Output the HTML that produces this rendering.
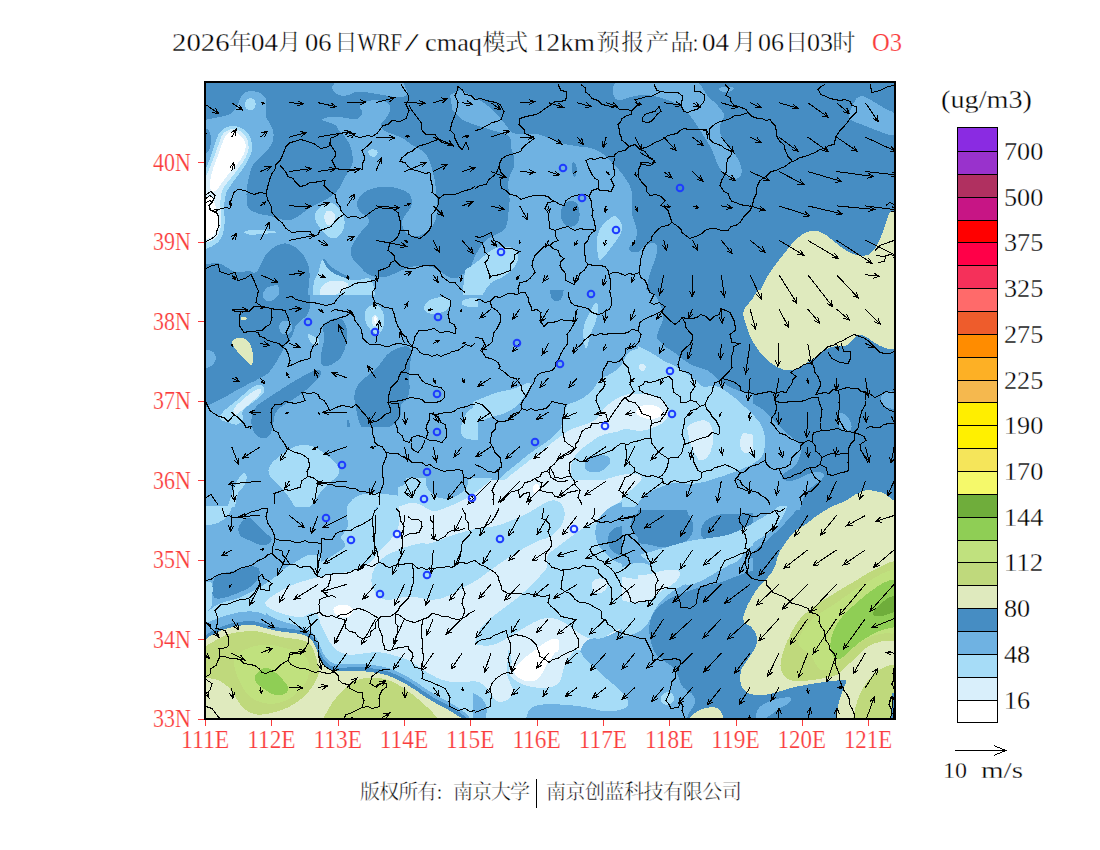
<!DOCTYPE html><html><head><meta charset="utf-8"><title>O3</title><style>html,body{margin:0;padding:0;background:#fff}svg{display:block}text{font-family:"Liberation Serif",serif;stroke:#fff;stroke-width:0.3px}text.cjk{font-family:"Liberation Serif","Noto Serif CJK SC",serif}</style></head><body>
<svg width="1100" height="850" viewBox="0 0 1100 850">
<rect width="1100" height="850" fill="#fff"/>
<defs><clipPath id="mc"><rect x="205" y="82" width="690" height="637"/></clipPath></defs>
<g clip-path="url(#mc)" shape-rendering="crispEdges">
<rect x="205" y="82" width="690" height="637" fill="#468dc3"/>
<polygon fill="#6fb2e2" points="332.4,86.5 332.8,85.7 333.6,84.6 334.6,83.1 335.9,81.4 338.8,77.5 402.2,77.5 403.9,83.2 404.7,85.9 405.4,88.1 406.1,89.8 406.8,91 406.8,91 407.2,92 407.3,93 407,94 406.4,95 406.4,95 405.3,95.9 403.7,96.5 401.6,96.9 399,97 399,97 396.2,96.9 393.5,96.8 391,96.4 388.6,96 388.6,96 386.3,95.5 384,95.1 381.8,94.7 379.5,94.4 379.5,94.4 377.2,94 374.8,93.7 372.4,93.2 369.9,92.8 369.9,92.8 367.3,92.3 364.7,92 362.1,91.8 359.5,91.8 359.5,91.8 357,91.9 354.9,92.2 353.2,92.7 351.8,93.4 351.8,93.4 350.4,94.1 348.9,94.8 347.2,95.2 345.4,95.6 345.4,95.6 343.4,95.8 341.5,95.6 339.6,95.2 337.6,94.4 337.6,94.4 335.9,93.4 334.5,92.4 333.4,91.3 332.8,90.1 332.8,90.1 332.4,89 332.2,88 332.2,87.2 332.4,86.5"/>
<polygon fill="#6fb2e2" points="197.5,121.2 207.7,119.3 212.4,118.4 216.8,117.6 220.8,116.8 224.4,116 224.4,116 227.6,115.1 230.3,113.8 232.6,112.3 234.4,110.4 234.4,110.4 235.9,108.2 237.2,105.9 238.4,103.3 239.4,100.6 239.4,100.6 240.4,98 241.6,95.9 242.9,94.2 244.4,93 244.4,93 246,92.1 247.8,91.5 249.8,91.2 251.9,91.1 251.9,91.1 254,91.3 256.1,91.7 258.1,92.3 260,93.1 260,93.1 261.7,94.1 263.2,95.3 264.4,96.6 265.4,98.1 265.4,98.1 266,99.8 266.4,101.7 266.5,103.9 266.2,106.2 266.2,106.2 265.9,108.6 265.7,110.8 265.5,112.7 265.5,114.4 265.5,114.4 265.7,116 266.2,117.7 267.1,119.4 268.4,121.2 268.4,121.2 269.7,123.2 270.9,125.2 271.8,127.2 272.6,129.4 272.6,129.4 273.2,131.6 273.5,133.9 273.5,136.3 273.2,138.8 273.2,138.8 272.7,141.2 271.8,143.6 270.6,145.9 269,148.1 269,148.1 267.2,150.3 265.2,152.4 263.1,154.5 260.9,156.5 260.9,156.5 258.7,158.5 256.8,160.4 255.1,162.2 253.8,164 253.8,164 252.6,165.8 251.6,167.9 250.7,170.1 250,172.5 250,172.5 249.4,175 248.8,177.3 248.3,179.6 247.9,181.9 247.9,181.9 247.5,184.1 247.1,186.6 246.8,189.1 246.6,191.9 246.6,191.9 246.5,194.7 246.5,197.5 246.6,200.3 246.9,203.1 246.9,203.1 247.5,205.7 248.6,208 250.3,209.8 252.5,211.2 252.5,211.2 255.2,212.4 258.1,213.4 261.4,214.3 265,215 265,215 268.6,215.7 271.9,216.4 274.8,217.2 277.5,218.1 277.5,218.1 280,218.9 282.5,219.5 285,219.9 287.5,220 287.5,220 289.9,219.8 292.2,219.4 294.3,218.6 296.2,217.5 296.2,217.5 298.2,216.2 300.3,214.7 302.6,213 305,211.2 305,211.2 307.5,209.5 309.8,207.9 312.1,206.5 314.4,205.2 314.4,205.2 316.6,204.1 319.1,202.9 321.6,201.6 324.4,200.2 324.4,200.2 327.1,198.8 329.7,197.2 332.1,195.6 334.4,193.8 334.4,193.8 336.5,191.7 338.3,189.5 340,186.9 341.4,184.1 341.4,184.1 342.7,181.3 344,178.8 345.3,176.4 346.6,174.4 346.6,174.4 347.9,172.4 349.1,170.5 350.1,168.6 351.1,166.6 351.1,166.6 351.9,164.7 352.5,162.8 352.7,160.8 352.8,158.9 352.8,158.9 352.6,156.9 352.4,155 352.1,153.1 351.8,151.1 351.8,151.1 351.3,149.2 350.8,147.4 350.1,145.7 349.4,144 349.4,144 348.5,142.4 347.7,140.9 346.8,139.5 345.9,138.1 345.9,138.1 344.9,136.8 343.8,135.5 342.6,134.3 341.4,133 341.4,133 340.1,131.7 339.1,130.5 338.2,129.2 337.5,127.9 337.5,127.9 336.8,126.6 335.8,125.6 334.5,124.7 333,124 333,124 331.3,123.4 329.4,122.7 327.4,122.1 325.2,121.4 325.2,121.4 323.4,120.7 322.5,120 322.4,119.4 323.2,118.8 323.2,118.8 324.6,118.2 326.3,117.7 328.2,117.3 330.4,117 330.4,117 332.6,116.8 334.8,116.8 336.9,116.8 338.9,117 338.9,117 340.8,117.3 342.8,117.5 344.7,117.8 346.6,118.1 346.6,118.1 348.5,118.4 350.3,118.7 352.1,118.9 353.8,119.1 353.8,119.1 355.3,119.2 356.7,119 357.9,118.6 358.9,117.9 358.9,117.9 359.8,117 360.5,116.2 361.2,115.2 361.8,114.2 361.8,114.2 362.1,113.3 362.2,112.3 362,111.3 361.5,110.4 361.5,110.4 360.9,109.5 360.5,108.6 360.1,107.8 359.9,107.1 359.9,107.1 359.9,106.4 360.2,105.6 361,104.8 362.1,103.9 362.1,103.9 363.5,103 365.1,102.2 366.8,101.6 368.6,101 368.6,101 370.6,100.6 372.8,100.3 375.1,100.3 377.6,100.4 377.6,100.4 380.1,100.6 382.3,101 384.3,101.4 386,102 386,102 387.5,102.7 388.6,103.6 389.4,104.6 389.9,105.9 389.9,105.9 390.1,107.2 390.2,108.5 390.1,109.8 389.9,111.1 389.9,111.1 389.5,112.4 388.9,113.7 388.2,115 387.4,116.2 387.4,116.2 386.4,117.5 385.3,118.8 384.1,120.1 382.9,121.4 382.9,121.4 381.8,122.6 381.1,123.8 380.8,124.9 380.9,125.9 380.9,125.9 381.3,126.8 381.8,127.8 382.6,128.8 383.5,129.8 383.5,129.8 384.6,130.7 386,131.6 387.6,132.3 389.4,133 389.4,133 391.4,133.7 393.6,134.4 395.9,135.3 398.4,136.2 398.4,136.2 400.9,137.3 403.2,138.6 405.4,140 407.4,141.5 407.4,141.5 409.4,143.1 411.6,144.6 413.9,146 416.4,147.2 416.4,147.2 418.8,148.5 421,149.9 423,151.4 424.8,153 424.8,153 426.3,154.7 427.6,156.7 428.7,158.9 429.6,161.2 429.6,161.2 430.5,163.9 431.3,166.7 432.2,169.8 433.1,173.1 433.1,173.1 434,176.5 434.7,179.8 435.2,183.1 435.6,186.2 435.6,186.2 435.9,189.4 436.2,192.5 436.6,195.6 436.9,198.8 436.9,198.8 437.1,202 437.2,205.3 437.1,208.8 436.9,212.5 436.9,212.5 436.4,216.1 435.6,219.4 434.5,222.3 433.1,225 433.1,225 431.4,227.4 429.5,229.5 427.4,231.4 425,233.1 425,233.1 422.5,234.5 420,235.5 417.5,236.1 415,236.2 415,236.2 412.6,236.1 410.5,235.5 408.6,234.5 406.9,233.1 406.9,233.1 405.4,231.5 404.2,229.8 403.2,228.1 402.5,226.2 402.5,226.2 402.1,224.4 402,222.5 402.4,220.6 403.1,218.8 403.1,218.8 404.1,216.9 405.3,215 406.6,213.1 408.1,211.2 408.1,211.2 409.5,209.4 410.6,207.5 411.4,205.6 411.9,203.8 411.9,203.8 412,201.9 411.9,200 411.4,198.1 410.6,196.2 410.6,196.2 409.5,194.5 408.1,193 406.4,191.7 404.4,190.6 404.4,190.6 402.1,189.7 399.5,188.9 396.8,188.2 393.8,187.5 393.8,187.5 390.6,187 387.5,186.7 384.4,186.7 381.2,186.9 381.2,186.9 378.2,187.3 375.3,187.8 372.6,188.5 370,189.4 370,189.4 367.6,190.4 365.5,191.6 363.6,192.9 361.9,194.4 361.9,194.4 360.4,196 359.2,197.7 358.2,199.4 357.5,201.2 357.5,201.2 357.1,203.1 357,205 357.4,206.9 358.1,208.8 358.1,208.8 359.2,210.5 360.5,212 362,213.3 363.8,214.4 363.8,214.4 365.5,215.4 366.9,216.6 368,217.9 368.8,219.4 368.8,219.4 369.1,221 368.8,222.7 367.8,224.4 366.2,226.2 366.2,226.2 364.4,228.2 362.5,230.3 360.6,232.6 358.8,235 358.8,235 357,237.5 355.3,240 353.8,242.5 352.5,245 352.5,245 351.5,247.5 350.9,250 350.9,252.5 351.2,255 351.2,255 352,257.4 353.1,259.5 354.5,261.4 356.2,263.1 356.2,263.1 358,264.7 359.7,266.2 361.2,267.8 362.5,269.4 362.5,269.4 363.4,270.9 363.8,272.3 363.4,273.7 362.5,275 362.5,275 361.1,276.1 359.4,276.9 357.3,277.3 355,277.5 355,277.5 352.5,277.3 350,276.9 347.5,276.1 345,275 345,275 342.5,273.7 340,272.3 337.5,270.9 335,269.4 335,269.4 332.7,267.8 330.6,266.1 328.9,264.3 327.5,262.5 327.5,262.5 326.3,260.9 325.2,259.8 324.1,259.3 323.1,259.4 323.1,259.4 322.3,260 321.6,261.4 321,263.5 320.6,266.2 320.6,266.2 320.2,269.2 319.5,271.9 318.6,274.2 317.5,276.2 317.5,276.2 316.3,278.4 315.2,280.9 314.1,284 313.1,287.5 311.2,295 307.5,295 308.8,286.2 309.3,282 309.5,278.1 309.6,274.5 309.4,271.2 309.4,271.2 308.9,268.2 308.3,265.3 307.4,262.6 306.2,260 306.2,260 304.9,257.5 303.3,255.2 301.4,252.9 299.4,250.6 299.4,250.6 297.1,248.6 294.8,246.9 292.5,245.5 290,244.4 290,244.4 287.5,243.7 285,243.4 282.5,243.7 280,244.4 280,244.4 277.6,245.4 275.3,246.6 273.2,247.9 271.2,249.4 271.2,249.4 269.5,251 267.8,252.7 266.3,254.4 265,256.2 265,256.2 263.8,258.2 262.7,260.3 261.6,262.6 260.6,265 260.6,265 259.6,267.3 258.6,269.2 257.5,270.7 256.2,271.9 256.2,271.9 255,272.6 253.9,272.8 252.9,272.6 251.9,271.9 251.9,271.9 250.8,271.1 249.5,270.8 248,270.8 246.2,271.2 246.2,271.2 244.4,271.8 242.5,272.2 240.6,272.4 238.8,272.5 238.8,272.5 236.8,272.3 234.7,271.7 232.4,270.7 230,269.4 230,269.4 227.6,267.9 225.5,266.6 223.6,265.4 221.9,264.4 221.9,264.4 219.9,263.6 217,263.3 213.4,263.3 208.8,263.7 197.5,265"/>
<polygon fill="#6fb2e2" points="450,95 460,90 467.5,93.8 471.2,95.6 474.7,97.5 478,99.4 481.2,101.2 481.2,101.2 484.4,103.3 487.5,105.6 490.6,108.3 493.8,111.2 493.8,111.2 496.7,114.3 499.4,117.2 501.7,119.9 503.8,122.5 503.8,122.5 505.5,124.9 507.2,127 508.7,128.9 510,130.6 510,130.6 511.5,132 513.4,133 515.9,133.6 518.8,133.8 518.8,133.8 522,133.8 525.3,133.8 528.8,133.8 532.5,133.8 532.5,133.8 536.3,134 540.3,134.8 544.5,136.2 548.8,138.1 548.8,138.1 553.1,140.2 557.5,141.9 561.9,143.3 566.2,144.4 566.2,144.4 570.6,145.2 575,145.9 579.4,146.5 583.8,146.9 583.8,146.9 588,147.4 591.9,148.3 595.5,149.6 598.8,151.2 598.8,151.2 601.8,153.2 604.7,155.3 607.4,157.6 610,160 610,160 612.5,162.6 615,165.3 617.5,168.2 620,171.2 620,171.2 622.4,174.3 624.5,177.2 626.4,179.9 628.1,182.5 628.1,182.5 629.5,185.1 630.6,187.8 631.4,190.7 631.9,193.8 631.9,193.8 632.1,196.9 632.2,200 632.1,203.1 631.9,206.2 631.9,206.2 631.7,209.3 631.9,212.2 632.3,214.9 633.1,217.5 633.1,217.5 634,220 634.8,222.5 635.6,225 636.2,227.5 636.2,227.5 636.7,230 636.9,232.5 636.7,235 636.2,237.5 636.2,237.5 635.5,239.8 634.5,241.7 633.3,243.2 631.9,244.4 631.9,244.4 630.5,245.4 629.7,246.6 629.3,247.9 629.4,249.4 629.4,249.4 630,250.7 631.1,251.7 632.8,252.3 635,252.5 635,252.5 637.5,252.2 640,251.2 642.5,249.7 645,247.5 645,247.5 647.4,245.4 649.7,243.9 651.8,243.2 653.8,243.1 653.8,243.1 655.3,243.8 656.2,245 656.6,246.9 656.2,249.4 656.2,249.4 655.5,252.3 654.7,255.5 653.7,258.9 652.5,262.5 652.5,262.5 651.3,266.1 650.3,269.4 649.5,272.3 648.8,275 648.8,275 648.1,277.7 647.5,280.6 646.9,283.9 646.2,287.5 645,295 460,295 465,280 470,270 472.5,262.5 473.9,258.8 475.6,255 477.7,251.2 480,247.5 480,247.5 482.5,244.1 485,241.2 487.5,239.1 490,237.5 490,237.5 492.5,236.2 495,235 497.5,233.8 500,232.5 500,232.5 502.3,231.2 504.1,229.7 505.4,228 506.2,226.2 506.2,226.2 506.8,224.2 507.3,221.9 507.8,219.2 508.1,216.2 508.1,216.2 508.4,213.1 508.8,210 509.1,206.9 509.4,203.8 509.4,203.8 509.6,200.6 509.5,197.5 509.3,194.4 508.8,191.2 508.8,191.2 508.3,188.2 508.1,185.3 508.3,182.6 508.8,180 508.8,180 509.5,177.5 510.3,175 511.3,172.5 512.5,170 512.5,170 513.6,167.5 514.2,165 514.5,162.5 514.4,160 514.4,160 514,157.5 513.4,155 512.7,152.5 511.9,150 511.9,150 511.1,147.5 510.6,145.2 510.5,142.9 510.6,140.6 510.6,140.6 510.5,138.6 509.7,136.9 508,135.5 505.6,134.4 505.6,134.4 502.8,133.4 499.8,132.5 496.8,131.6 493.8,130.6 493.8,130.6 490.6,129.7 487.5,128.8 484.4,127.8 481.2,126.9 481.2,126.9 478.1,125.9 475,124.8 471.9,123.7 468.8,122.5 462.5,120 452.5,110"/>
<polygon fill="#6fb2e2" points="623.8,80 619.3,80.5 616.1,81.9 614,84.2 613.1,87.5 613.1,87.5 613,91 613.3,93.9 613.9,96.3 615,98.1 615,98.1 616.3,99.4 617.8,100.2 619.5,100.4 621.2,100 621.2,100 623.3,99.3 625.6,98.6 628.3,97.8 631.2,96.9 631.2,96.9 634.4,96.1 637.5,95.5 640.6,95.1 643.8,95 643.8,95 647,95.1 650.3,95.5 653.8,96.1 657.5,96.9 657.5,96.9 661.2,97.9 665,99.1 668.8,100.4 672.5,101.9 672.5,101.9 676.1,103.6 679.4,105.5 682.3,107.6 685,110 685,110 687.5,112.7 690,115.6 692.5,118.9 695,122.5 695,122.5 697.5,126.3 700.1,130.2 702.7,134.3 705.3,138.5 707.2,141.5 709.7,145.7 711.8,149.8 713.6,153.7 715,157.5 715,157.5 716.3,161.1 717.8,164.5 719.5,167.7 721.2,170.6 721.2,170.6 723.2,173.2 725.3,175.3 727.6,177 730,178.1 730,178.1 732.4,178.8 734.5,179.1 736.4,178.8 738.1,178.1 738.1,178.1 739.5,177 740.6,175.6 741.3,173.9 741.6,171.9 741.6,171.9 741.6,169.6 741.3,167.3 740.7,165 739.8,162.5 739.8,162.5 738.5,160 737.1,157.5 735.5,155 733.8,152.5 733.8,152.5 731.9,150 730,147.7 728.1,145.4 726.2,143.1 726.2,143.1 724.5,140.9 723,138.8 721.7,136.6 720.6,134.4 720.6,134.4 719.9,132.2 719.5,130 719.6,127.8 720,125.6 720,125.6 720.7,123.6 721.4,121.7 722.2,120.1 723.1,118.8 723.1,118.8 723.9,117.5 724.2,116.2 724.2,115 723.8,113.8 723.8,113.8 723,112.4 721.9,110.8 720.5,108.9 718.8,106.9 718.8,106.9 716.9,104.8 715,102.8 713.1,101 711.2,99.4 711.2,99.4 709.5,97.8 708,96.2 706.7,94.7 705.6,93.1 705.6,93.1 704.6,91.4 703.4,89.5 702.1,87.4 700.6,85 700.6,85 698.6,82.8 695.8,81.2 692.1,80.3 687.5,80"/>
<polygon fill="#6fb2e2" points="720,90.6 719.1,89.7 719.1,88.9 719.8,88.2 721.2,87.5 721.2,87.5 723.2,87 725.3,86.7 727.6,86.5 730,86.6 730,86.6 732.1,86.9 733.4,87.4 734,88.2 733.8,89.1 733.8,89.1 732.9,90.1 731.6,90.9 729.8,91.5 727.5,91.9 727.5,91.9 725.2,92 723.1,91.9 721.4,91.4 720,90.6"/>
<polygon fill="#6fb2e2" points="850,119.4 849.1,118.2 848.8,116.4 849.1,114.1 850,111.2 850,111.2 851.2,108.2 852.5,105.5 853.8,102.9 855,100.6 855,100.6 856.3,98.7 857.8,97.3 859.5,96.5 861.2,96.2 861.2,96.2 863.2,96.4 865.3,97 867.6,98 870,99.4 870,99.4 872.5,100.9 875,102.5 877.5,104.1 880,105.6 880,105.6 882.6,107.1 885.3,108.6 888.2,110 891.2,111.2 891.2,111.2 894,113 895.9,115.6 897.1,119.2 897.5,123.8 897.5,127 897.1,131.3 895.9,134.1 894,135.5 891.2,135.4 891.2,135.4 888.1,134.5 885,133.5 881.9,132.4 878.8,131.2 878.8,131.2 875.6,130 872.5,128.8 869.4,127.5 866.2,126.2 866.2,126.2 863.3,125.1 860.6,124.1 858.3,123.2 856.2,122.5 856.2,122.5 854.5,121.8 852.8,121.1 851.3,120.3 850,119.4"/>
<polygon fill="#6fb2e2" points="637.5,252.5 642.5,248.1 644.9,246.2 647.2,244.7 649.3,243.7 651.2,243.1 651.2,243.1 653,243 654.4,243.3 655.6,243.9 656.5,245 656.5,245 657.1,246.5 657.2,248.4 657.1,250.9 656.5,253.8 656.5,253.8 655.7,256.9 654.8,260 653.7,263.1 652.5,266.2 652.5,266.2 651.3,269.6 650.1,273.4 648.9,277.6 647.8,282.3 645,295 637.5,295"/>
<polygon fill="#6fb2e2" points="310,289.5 310.2,298.2 310.3,302.4 310.1,305.9 309.6,308.9 309,311.4 309,311.4 308.1,313.4 306.9,315.3 305.5,316.9 303.8,318.2 303.8,318.2 301.9,319.5 300.2,320.9 298.7,322.4 297.2,323.9 297.2,323.9 296,325.5 295,327.3 294.2,329.3 293.8,331.4 293.8,331.4 293.2,333.5 292.5,335.4 291.5,337.2 290.2,338.9 290.2,338.9 288.9,340.4 287.7,342 286.6,343.6 285.6,345.1 285.6,345.1 284.7,346.7 283.8,348.4 282.8,350.2 281.9,352 281.9,352 280.9,353.9 279.8,355.9 278.7,358 277.5,360.1 277.5,360.1 276.2,362.4 274.7,364.7 273,367 271.2,369.5 271.2,369.5 269.3,371.8 267.2,373.9 264.9,375.6 262.5,377 262.5,377 260,378.2 257.5,379.5 255,380.8 252.5,382 252.5,382 250,383.2 247.5,384.5 245,385.8 242.5,387 242.5,387 240,388.3 237.5,389.7 235,391.1 232.5,392.6 232.5,392.6 229.9,394.2 227.2,395.8 224.3,397.3 221.2,398.9 221.2,398.9 218.1,400.4 215,402 211.9,403.6 208.8,405.1 208.8,405.1 206,407.1 204.1,410 202.9,413.7 202.5,418.2 202.5,509.5 477.5,509.5 477.5,289.5"/>
<polygon fill="#6fb2e2" points="197.5,350.8 204.4,350.1 207.5,350 210.2,350.4 212.2,351.3 213.8,352.6 213.8,352.6 214.8,354.2 215.5,355.9 215.7,357.7 215.6,359.5 215.6,359.5 215.1,361.3 214.2,362.9 212.9,364.4 211.2,365.8 211.2,365.8 209.3,366.9 207.2,367.8 204.9,368.4 202.5,368.9 197.5,369.5"/>
<polygon fill="#6fb2e2" points="263.8,298.5 262.9,296.5 262.7,294.6 263.2,292.6 264.4,290.8 267.5,287 277.5,284.5 279,288.2 279.5,290.1 279.4,292 278.9,293.9 277.8,295.8 277.8,295.8 276.3,297.5 274.6,298.9 272.7,300.1 270.6,301 270.6,301 268.6,301.4 266.7,301.1 265.1,300.2 263.8,298.5"/>
<polygon fill="#6fb2e2" points="279.4,328.9 279.3,326.8 279.5,325 280.2,323.5 281.2,322.2 281.2,322.2 282.6,321.3 284.1,320.8 285.7,320.6 287.5,320.8 287.5,320.8 289.2,321.3 290.5,322.3 291.5,323.7 292.1,325.5 292.1,325.5 292.3,327.4 292.1,329.2 291.4,330.8 290.2,332.2 290.2,332.2 288.8,333.4 287.2,334.1 285.6,334.3 283.8,334.1 283.8,334.1 282.1,333.5 280.8,332.4 279.9,330.8 279.4,328.9"/>
<polygon fill="#6fb2e2" points="350,265 350.2,260.9 350.6,258.8 351.4,258.4 352.5,260 352.5,260 353.9,262.4 355.6,264.7 357.7,266.8 360,268.8 360,268.8 362.5,270.5 365,272.2 367.5,273.7 370,275 370,275 372.5,276.1 375,276.9 377.5,277.3 380,277.5 380,277.5 382.6,277.3 385.3,276.9 388.2,276.1 391.2,275 391.2,275 394.3,273.8 397.2,272.5 399.9,271.2 402.5,270 402.5,270 405.1,268.8 407.8,267.8 410.7,267 413.8,266.2 413.8,266.2 417,265.8 420.3,265.6 423.8,265.8 427.5,266.2 427.5,266.2 431.1,267 434.4,268.1 437.3,269.5 440,271.2 440,271.2 442.5,273 445,274.7 447.5,276.2 450,277.5 450,277.5 452.5,278.4 455,278.4 457.5,277.7 460,276.2 460,276.2 462.6,274.3 465.3,272.2 468.2,269.9 471.2,267.5 477.5,262.5 477.5,295 350,295"/>
<polygon fill="#6fb2e2" points="472.5,289.5 647.5,289.5 650,295.8 651.3,298.9 652.8,302 654.5,305.1 656.2,308.2 656.2,308.2 657.8,311.4 658.8,314.5 659.1,317.6 658.8,320.8 658.8,320.8 658.1,323.8 657.5,326.7 656.9,329.4 656.2,332 656.2,332 656,334.5 656.6,337 657.9,339.5 660,342 660,342 662.6,344.5 665.3,347 668.2,349.5 671.2,352 671.2,352 674.4,354.4 677.5,356.7 680.6,358.8 683.8,360.8 683.8,360.8 687,362.5 690.3,364.2 693.8,365.7 697.5,367 697.5,367 701.1,368.3 704.4,369.8 707.3,371.5 710,373.2 710,373.2 712.5,375.1 715,377 717.5,378.9 720,380.8 720,380.8 722.6,382.6 725.3,384.3 728.2,386 731.2,387.6 731.2,387.6 734.5,389.1 737.8,390.4 741.3,391.6 745,392.6 752.5,394.5 752.5,509.5 472.5,509.5"/>
<polygon fill="#6fb2e2" points="637.5,289.5 646.2,290.8 650.3,291.9 653.7,294 656.5,297.1 658.7,301.3 661.3,307.7 662.7,312.2 663.3,316.2 663,319.9 661.9,323.2 661.9,323.2 660.4,326.3 659.2,329.2 658.2,331.9 657.5,334.5 657.5,334.5 657.1,336.9 657.3,339 658.1,340.9 659.4,342.6 659.4,342.6 661.1,344.1 663,345.6 665.1,347 667.5,348.2 667.5,348.2 670,349.6 672.5,351.2 675,353.1 677.5,355.1 677.5,355.1 680.1,357.3 682.8,359.3 685.7,361.3 688.8,363.2 688.8,363.2 691.9,365 695,366.4 698.1,367.5 701.2,368.2 701.2,368.2 704.2,369 706.9,370.1 709.2,371.5 711.2,373.2 711.2,373.2 713.2,375.1 715.3,377 717.6,378.9 720,380.8 720,380.8 722.5,382.6 725,384.5 727.5,386.4 730,388.2 730,388.2 732.5,390.1 735,392 737.5,393.9 740,395.8 740,395.8 742.5,397.5 745,399.2 747.5,400.7 750,402 750,402 752.5,403.3 755,404.7 757.5,406.1 760,407.6 760,407.6 762.5,409.3 765,411.4 767.5,413.7 770,416.4 770,416.4 772.5,419.1 775,421.8 777.5,424.5 780,427 780,427 782.5,429.4 785,431.7 787.5,433.8 790,435.8 790,435.8 792.4,437.6 794.7,439.5 796.8,441.4 798.8,443.2 798.8,443.2 800.3,445.2 801.2,447.3 801.6,449.6 801.2,452 801.2,452 800.5,454.5 799.7,457 798.7,459.5 797.5,462 797.5,462 796.1,464.3 794.4,466.4 792.3,468.1 790,469.5 790,469.5 787.7,470.8 785.6,472.2 783.9,473.6 782.5,475.1 782.5,475.1 781.7,476.6 781.9,477.9 783,479.1 785,480.1 785,480.1 787.6,480.8 790.3,480.9 793.2,480.5 796.2,479.5 796.2,479.5 799.3,478.2 802.2,477 804.9,475.8 807.5,474.5 807.5,474.5 810,473.4 812.5,472.6 815,472.2 817.5,472 817.5,472 819.8,472.2 821.6,472.6 822.9,473.4 823.8,474.5 823.8,474.5 824,475.8 823.4,477.3 822.1,479 820,480.8 820,480.8 817.6,482.6 815.3,484.3 813.2,486 811.2,487.6 811.2,487.6 809.5,489.3 807.8,491.1 806.3,493 805,495.1 805,495.1 803.8,497.4 802.8,499.7 802,502 801.2,504.5 800,509.5 637.5,509.5"/>
<polygon fill="#6fb2e2" points="880.6,400.1 880.5,398.6 880.8,397.2 881.4,395.8 882.5,394.5 882.5,394.5 884,393.4 885.9,392.5 888.4,391.8 891.2,391.4 891.2,391.4 894,391.7 895.9,393.2 897.1,396.1 897.5,400.1 897.5,400.1 897.2,404.2 896.2,407 894.7,408.6 892.5,408.9 892.5,408.9 890.1,408.4 888,407.8 886.1,406.9 884.4,405.8 884.4,405.8 883,404.5 881.9,403.1 881.1,401.6 880.6,400.1"/>
<polygon fill="#6fb2e2" points="837.5,420.8 837.1,417.9 837.3,415.8 838.1,414.2 839.4,413.2 839.4,413.2 841,412.9 842.7,413.2 844.4,414.2 846.2,415.8 846.2,415.8 848,417.7 849.4,419.8 850.5,422.1 851.2,424.5 851.2,424.5 851.6,426.8 851.2,428.6 850.3,429.9 848.8,430.8 848.8,430.8 846.9,431.1 845.2,431.1 843.5,430.5 841.9,429.5 841.9,429.5 840.4,428 839.2,426.1 838.2,423.6 837.5,420.8"/>
<polygon fill="#6fb2e2" points="202.5,505.5 477.5,505.5 477.5,725.5 202.5,725.5"/>
<polygon fill="#6fb2e2" points="472.5,505.5 752.5,505.5 752.5,543 739.8,545.8 735,546.9 730.6,548.1 726.4,549.3 722.5,550.5 722.5,550.5 718.8,551.8 715,553 711.2,554.2 707.5,555.5 707.5,555.5 703.8,556.8 700,558.2 696.2,559.6 692.5,561.1 692.5,561.1 688.8,562.6 685,563.9 681.2,565.1 677.5,566.1 677.5,566.1 673.8,567 670.3,567.8 667,568.6 663.8,569.2 663.8,569.2 660.8,569.6 658.1,569.4 655.8,568.7 653.8,567.4 653.8,567.4 651.8,565.9 649.7,564.7 647.4,563.7 645,563 645,563 642.5,562.5 640,562.4 637.5,562.5 635,563 635,563 632.5,563.7 630,564.4 627.5,565.2 625,566.1 625,566.1 622.4,566.9 619.7,567.4 616.8,567.5 613.8,567.4 613.8,567.4 610.7,567 607.8,566.4 605.1,565.7 602.5,564.9 602.5,564.9 599.7,564.1 596.2,563.5 592.2,563.1 587.5,563 472.5,563"/>
<polygon fill="#6fb2e2" points="472.5,558 752.5,558 752.5,725.5 472.5,725.5"/>
<polygon fill="#6fb2e2" points="637.5,505.5 800,505.5 795,511.8 792.5,514.8 790,517.7 787.5,520.4 785,523 785,523 782.5,525.5 780,528 777.5,530.5 775,533 775,533 772.4,535.5 769.7,538 766.8,540.5 763.8,543 763.8,543 760.8,545.4 758.1,547.7 755.8,549.8 753.8,551.8 753.8,551.8 752,553.7 750.3,555.8 748.8,558.1 747.5,560.5 747.5,560.5 746.1,562.9 744.4,565.2 742.3,567.3 740,569.2 740,569.2 737.4,571.1 734.7,573 731.8,574.9 728.8,576.8 728.8,576.8 725.7,578.5 722.8,580.2 720.1,581.7 717.5,583 717.5,583 715,584.4 712.5,586.1 710,588.2 707.5,590.5 707.5,590.5 705.1,593 702.8,595.5 700.7,598 698.8,600.5 698.8,600.5 697,603 695.6,605.5 694.5,608 693.8,610.5 693.8,610.5 693.4,613 693.8,615.5 694.7,618 696.2,620.5 696.2,620.5 698.2,623 700.3,625.5 702.6,628 705,630.5 705,630.5 707.3,633.1 709.1,635.8 710.4,638.7 711.2,641.8 711.2,641.8 711.6,644.8 711.2,647.7 710.3,650.4 708.8,653 708.8,653 706.8,655.5 704.7,658 702.4,660.5 700,663 700,663 697.5,665.5 695,668 692.5,670.5 690,673 690,673 687.7,675.5 685.9,678 684.6,680.5 683.8,683 683.8,683 683.4,685.5 683.8,688 684.7,690.5 686.2,693 686.2,693 688.3,695.4 690.6,697.7 693.3,699.8 696.2,701.8 696.2,701.8 699.4,703.5 702.5,704.9 705.6,706 708.8,706.8 708.8,706.8 711.7,707.8 714.4,709.9 716.7,712.8 718.8,716.8 722.5,725.5 637.5,725.5"/>
<polygon fill="#6fb2e2" points="756.2,714.2 757.1,711.3 758.4,708.8 760.2,706.6 762.5,704.9 762.5,704.9 765.1,703.4 767.8,702.1 770.7,700.9 773.8,699.9 773.8,699.9 776.9,699 780,698.3 783.1,697.8 786.2,697.4 786.2,697.4 788.9,697.3 790.6,697.7 791.4,698.5 791.2,699.9 791.2,699.9 790.4,701.4 789.1,702.8 787.3,704.2 785,705.5 785,705.5 782.5,706.8 780,708.3 777.5,710 775,711.8 775,711.8 772.6,713.5 770.3,715.2 768.2,716.7 766.2,718 762.5,720.5 755,720.5"/>
<polygon fill="#468dc3" points="202.5,138.8 202.7,134.4 203.3,131.2 204.3,129.4 205.6,128.8 205.6,128.8 207.1,129 208.3,129.8 209.3,131.2 210,133.1 210,133.1 210.5,135.4 210.8,137.7 211,140 210.9,142.5 210.9,142.5 210.6,144.9 210.2,146.9 209.7,148.7 209,150.2 209,150.2 208.2,151.5 207.2,152.4 206.2,153 205,153.4 205,153.4 203.9,152.9 203.1,151.2 202.7,148.1 202.5,143.8"/>
<polygon fill="#468dc3" points="571.6,167.5 571.5,165.8 571.7,164.4 572,163.3 572.5,162.5 572.5,162.5 573.1,162.1 573.8,162.2 574.6,162.7 575.4,163.8 575.4,163.8 576.1,165.1 576.5,166.7 576.7,168.6 576.6,170.6 576.6,170.6 576.4,172.6 576,174.2 575.6,175.4 575,176.2 575,176.2 574.4,176.6 573.8,176.4 573.3,175.7 572.9,174.4 572.9,174.4 572.5,172.8 572.1,171.1 571.8,169.3 571.6,167.5"/>
<polygon fill="#468dc3" points="561.9,220 561.1,217.5 560.8,215 560.8,212.5 561.2,210 561.2,210 562,207.7 563.1,205.6 564.5,203.9 566.2,202.5 566.2,202.5 568.1,201.5 570,200.9 571.9,200.9 573.8,201.2 573.8,201.2 575.5,202.1 576.9,203.4 578,205.2 578.8,207.5 578.8,207.5 579.3,210 579.5,212.5 579.6,215 579.4,217.5 579.4,217.5 578.9,219.8 578.1,221.9 577,223.6 575.6,225 575.6,225 574,226 572.2,226.6 570.2,226.6 568.1,226.2 568.1,226.2 566.1,225.4 564.4,224.1 563,222.3 561.9,220"/>
<polygon fill="#468dc3" points="320.6,370.8 319.4,369.9 317.5,369.7 315,370.3 311.9,371.6 311.9,371.6 308.3,373.4 304.5,375.4 300.5,377.6 296.3,380 296.2,380 291.9,382.6 287.6,385.2 283.4,387.9 279.3,390.7 278.2,391.3 274.1,394.1 269.9,396.9 265.7,399.6 261.5,402.2 261.5,402.2 257.7,405.1 254.8,408.3 252.8,412 251.8,416 251.8,416 251.4,420.1 251.5,423.9 252.2,427.5 253.4,430.8 253.4,430.8 255,433.5 257,435.7 259.4,437.2 262.1,438 262.1,438 264.9,438.1 267.2,437.4 269,435.9 270.5,433.6 270.5,433.6 271.6,430.8 272.6,427.5 273.3,423.9 273.8,419.9 273.8,419.9 274.4,416 275.8,412.6 277.8,409.7 280.4,407.4 280.4,407.4 283.4,405.3 286.7,403.2 290.1,401 293.8,398.9 293.8,398.9 297.5,396.5 301.2,393.9 304.9,391 308.6,387.7 308.9,387.5 312.3,384.3 315.2,381.5 317.5,379.1 319.4,377 319.4,377 320.6,375.2 321.2,373.6 321.2,372.1 320.6,370.8"/>
<polygon fill="#468dc3" points="322.5,327 322.7,325.8 323.4,324.5 324.6,323.2 326.2,322 326.2,322 328.2,320.8 330.3,319.8 332.6,319 335,318.2 335,318.2 337.4,317.9 339.5,318.2 341.4,319.2 343.1,320.8 343.1,320.8 344.5,322.8 345.6,325.1 346.4,327.8 346.9,330.8 346.9,330.8 347.1,333.9 347,337 346.8,340.1 346.2,343.2 346.2,343.2 345.5,346.3 344.7,349.2 343.7,351.9 342.5,354.5 342.5,354.5 341.1,356.9 339.4,359 337.3,360.9 335,362.6 335,362.6 332.6,364 330.3,365.1 328.2,365.9 326.2,366.4 326.2,366.4 324.5,366.4 323.1,365.9 322,364.9 321.2,363.2 321.2,363.2 320.8,361.2 320.6,358.9 320.8,356.2 321.2,353.2 321.2,353.2 321.9,350.2 322.5,347.3 323.1,344.6 323.8,342 323.8,342 324.2,339.6 324.4,337.3 324.2,335.2 323.8,333.2 323.8,333.2 323.2,331.5 322.8,329.8 322.6,328.3 322.5,327"/>
<polygon fill="#468dc3" points="387.5,354.5 388.9,353.2 390.6,352 392.7,350.8 395,349.5 395,349.5 397.5,348.4 399.8,347.5 402.1,346.8 404.4,346.4 404.4,346.4 406.4,346.3 408.1,346.7 409.4,347.5 410.4,348.9 410.4,348.9 411,350.6 411.3,352.8 411.3,355.3 411,358.2 411,358.2 410.5,361.4 410.1,364.5 409.7,367.6 409.4,370.8 409.4,370.8 409.1,373.9 409.1,377 409.1,380.1 409.4,383.2 409.4,383.2 409.6,386.3 409.5,389.2 409.3,391.9 408.8,394.5 408.8,394.5 408,396.8 406.9,398.9 405.5,400.6 403.8,402 403.8,402 402.1,403.4 401.1,405.1 400.6,407.2 400.6,409.5 400.6,409.5 400.8,411.9 400.6,414.2 400.2,416.3 399.4,418.2 399.4,418.2 398.2,420.1 396.4,422 394.1,423.9 391.2,425.8 391.2,425.8 388.1,427.5 385,429.2 381.9,430.7 378.8,432 378.8,432 375.7,433 373,433.6 370.4,433.6 368.1,433.2 368.1,433.2 366.1,432.4 364.2,431.1 362.6,429.3 361.2,427 361.2,427 360.1,424.4 359.1,421.7 358.2,418.8 357.5,415.8 357.5,415.8 356.9,412.6 356.2,409.5 355.6,406.4 355,403.2 355,403.2 354.5,400.2 354.4,397.3 354.5,394.6 355,392 355,392 355.7,389.6 356.7,387.3 357.9,385.2 359.4,383.2 359.4,383.2 361.1,381.4 363,379.5 365.1,377.6 367.5,375.8 367.5,375.8 369.9,373.9 372.2,372 374.3,370.1 376.2,368.2 376.2,368.2 378,366.4 379.7,364.5 381.2,362.6 382.5,360.8 382.5,360.8 383.8,359 385,357.3 386.2,355.8 387.5,354.5"/>
<polygon fill="#468dc3" points="346.6,425.8 346.5,424 346.6,422.5 346.8,421.2 347.1,420.1 347.1,420.1 347.6,419.5 348,419.3 348.5,419.8 349,420.8 349,420.8 349.4,422.1 349.7,423.6 349.8,425.2 349.8,427 349.8,427 349.6,428.6 349.2,429.7 348.8,430.2 348.2,430.1 348.2,430.1 347.7,429.6 347.2,428.7 346.9,427.4 346.6,425.8"/>
<polygon fill="#468dc3" points="550,289.5 563.8,289.5 563.1,293.9 562.7,295.9 562,297.6 561.1,299 560,300.1 560,300.1 558.7,300.9 557.3,301.2 555.9,301.2 554.4,300.8 554.4,300.8 553,299.9 551.9,298.6 551.1,296.8 550.6,294.5"/>
<polygon fill="#468dc3" points="238.8,532.4 238.4,530.2 238.4,528.2 239,526.2 240,524.2 240,524.2 241.3,522.5 242.8,521 244.5,519.7 246.2,518.6 246.2,518.6 248,518 249.7,518 251.2,518.6 252.5,519.9 252.5,519.9 253.9,521.6 255.6,523.5 257.7,525.6 260,528 260,528 262.4,530.3 264.7,532.4 266.8,534.1 268.8,535.5 268.8,535.5 270.3,536.8 271.2,538.2 271.6,539.6 271.2,541.1 271.2,541.1 270.4,542.5 269.1,543.6 267.3,544.4 265,544.9 265,544.9 262.5,545 260,544.7 257.5,544.1 255,543 255,543 252.5,541.8 250,540.7 247.5,539.6 245,538.6 245,538.6 242.7,537.5 240.9,536.1 239.6,534.4 238.8,532.4"/>
<polygon fill="#468dc3" points="212.6,585.2 212.8,584 213.1,582.7 213.3,581.4 213.6,580.1 213.6,580.1 214.1,578.9 214.8,577.7 215.7,576.6 216.9,575.6 216.9,575.6 218.3,574.8 219.8,574 221.5,573.4 223.4,573 223.4,573 225.4,572.6 227.4,572.2 229.5,571.8 231.8,571.4 231.8,571.4 234,570.9 236.1,570.4 238.1,569.8 240.1,569.1 240.1,569.1 242.1,568.5 244,567.9 245.9,567.3 247.9,566.9 247.9,566.9 249.8,566.5 251.6,566.4 253.3,566.4 255,566.6 255,566.6 256.5,567.1 257.7,567.7 258.6,568.6 259.2,569.8 259.2,569.8 259.6,571 259.8,572.4 259.6,573.9 259.2,575.5 259.2,575.5 258.7,577.1 258,578.6 257.2,580 256.2,581.4 256.2,581.4 255.2,582.6 254.1,583.8 253,584.9 251.8,585.9 251.8,585.9 250.5,586.8 249.1,587.7 247.6,588.5 246,589.4 246,589.4 244.3,590.2 242.6,591 240.8,591.8 238.9,592.6 238.9,592.6 236.9,593.4 235,594.2 233.1,594.9 231.1,595.6 231.1,595.6 229.2,596.3 227.2,596.9 225.3,597.4 223.4,597.9 223.4,597.9 221.5,598.2 219.8,598.5 218.3,598.6 216.9,598.5 216.9,598.5 215.6,598.2 214.6,597.7 213.7,596.8 213,595.6 213,595.6 212.5,594.3 212.1,593 212,591.7 212,590.4 212,590.4 212.1,589.1 212.3,587.8 212.4,586.5 212.6,585.2"/>
<polygon fill="#468dc3" points="631.2,523 631.5,520.6 632.3,518.3 633.7,516.2 635.6,514.2 635.6,514.2 638,512.5 640.8,510.8 643.9,509.3 647.5,508 655,505.5 675,505.5 681.2,509.2 684.2,511.2 686.7,513.3 688.9,515.6 690.6,518 690.6,518 692,520.6 692.8,523.3 693.2,526.2 693.1,529.2 693.1,529.2 692.5,532.3 691.4,535 689.7,537.6 687.5,539.9 687.5,539.9 684.8,541.9 681.9,543.6 678.6,545 675,546.1 675,546.1 671.2,546.9 667.2,547.2 663,547.2 658.8,546.8 658.8,546.8 654.5,546 650.6,544.9 647,543.5 643.8,541.8 643.8,541.8 640.8,539.8 638.3,537.7 636.1,535.4 634.4,533 634.4,533 633,530.5 632,528 631.4,525.5 631.2,523"/>
<polygon fill="#468dc3" points="701.2,534.9 700.9,532.6 701.2,530.3 702.2,528 703.8,525.5 703.8,525.5 705.8,523.2 708.1,521.1 710.8,519.4 713.8,518 713.8,518 717,516.9 720.3,516 723.8,515.3 727.5,514.9 727.5,514.9 731.3,514.6 735.3,514.2 739.5,513.9 743.8,513.6 752.5,513 752.5,538 745,536.8 741.3,536.4 737.8,536.4 734.5,537 731.2,538 731.2,538 728.1,539.2 725,540.2 721.9,541 718.8,541.8 718.8,541.8 715.7,542.2 712.8,542.2 710.1,541.9 707.5,541.1 707.5,541.1 705.2,540 703.4,538.6 702.1,536.9 701.2,534.9"/>
<polygon fill="#468dc3" points="752.5,570.5 743.8,573.6 739.5,575.2 735.3,576.8 731.3,578.3 727.5,579.9 727.5,579.9 723.8,581.3 720,582.5 716.2,583.5 712.5,584.2 712.5,584.2 708.8,585 705,585.8 701.2,586.8 697.5,588 697.5,588 693.8,589.2 690,590.5 686.2,591.8 682.5,593 682.5,593 678.8,594.3 675.3,595.8 672,597.5 668.8,599.2 668.8,599.2 665.7,601.2 662.8,603.3 660.1,605.6 657.5,608 657.5,608 655.2,610.6 653.3,613.3 651.8,616.2 650.6,619.2 650.6,619.2 649.8,622.5 649.4,625.8 649.2,629.3 649.4,633 649.4,633 649.8,636.7 650.5,640.3 651.4,643.9 652.5,647.4 652.5,647.4 653.9,650.6 655.6,653.5 657.7,655.9 660,658 660,658 662.5,659.8 665,661.6 667.5,663.3 670,664.9 670,664.9 672.3,666.6 674.2,668.5 675.7,670.6 676.9,673 676.9,673 677.8,675.5 678.8,678 679.7,680.5 680.6,683 680.6,683 681.8,685.3 683.3,687.4 685.2,689.1 687.5,690.5 687.5,690.5 689.8,691.9 691.7,693.6 693.2,695.7 694.4,698 694.4,698 695,700.4 695,702.7 694.4,704.8 693.1,706.8 693.1,706.8 691.6,708.8 690.2,711.1 688.8,713.8 687.5,716.8 685,723 752.5,723"/>
<polygon fill="#468dc3" points="637.5,505.5 685,505.5 687.5,511.8 688.6,514.9 689.4,518 689.8,521.1 690,524.2 690,524.2 689.8,527.3 689.1,530.2 687.9,532.9 686.2,535.5 686.2,535.5 684.2,537.8 681.9,539.9 679.2,541.6 676.2,543 676.2,543 673,544.1 669.7,544.9 666.2,545.3 662.5,545.5 662.5,545.5 658.7,545.4 654.7,545.2 650.5,544.8 646.2,544.2 637.5,543"/>
<polygon fill="#468dc3" points="701.2,533.6 700.9,531.9 700.9,530 701.5,527.9 702.5,525.5 702.5,525.5 703.9,523.2 705.6,521.1 707.7,519.4 710,518 710,518 712.6,516.8 715.3,515.8 718.2,515 721.2,514.2 721.2,514.2 724.4,513.8 727.5,513.6 730.6,513.8 733.8,514.2 733.8,514.2 736.6,515 739.1,516.1 741,517.5 742.5,519.2 742.5,519.2 743.4,521.2 743.8,523.3 743.4,525.6 742.5,528 742.5,528 741,530.3 739.1,532.4 736.6,534.1 733.8,535.5 733.8,535.5 730.5,536.6 727.2,537.5 723.7,538.2 720,538.6 720,538.6 716.4,538.8 713.1,538.8 710.2,538.5 707.5,538 707.5,538 705.2,537.3 703.4,536.3 702.1,535.1 701.2,533.6"/>
<polygon fill="#a6dcf7" points="218.8,133.8 219.6,132.5 220.8,131.2 222.4,129.9 224.4,128.5 224.4,128.5 226.6,127.3 229.1,126.5 231.6,126.1 234.4,126.1 234.4,126.1 237.1,126.5 239.8,127.3 242.2,128.5 244.6,130.1 244.6,130.1 246.8,132.1 248.6,134.4 250,137 251.1,140 251.1,140 251.9,143.1 252.2,146.1 252,149 251.5,151.9 251.5,151.9 250.6,154.7 249.5,157.5 248.1,160.3 246.5,163.1 246.5,163.1 244.7,165.9 242.9,168.6 241.1,171.2 239.2,173.8 239.2,173.8 237.4,176.2 235.7,178.5 234,180.8 232.5,182.9 232.5,182.9 231,184.9 229.7,187 228.4,189 227.2,191 227.2,191 226.2,193.2 225.4,195.9 224.8,199 224.4,202.5 224.4,202.5 224.1,206.1 224.1,209.4 224.1,212.3 224.4,215 224.4,215 224.6,217.6 224.7,220.3 224.6,223.2 224.4,226.2 224.4,226.2 223.9,229.3 223.3,232.2 222.4,234.9 221.2,237.5 221.2,237.5 219.9,239.8 218.3,241.9 216.4,243.6 214.4,245 214.4,245 212.2,246.2 210.2,247.2 208.2,248 206.2,248.8 206.2,248.8 204.6,248.7 203.4,247.2 202.7,244.3 202.5,240 202.5,185 202.7,180.3 203.1,176.2 203.9,172.8 205,170 205,170 206.2,167.5 207.3,165 208.4,162.5 209.4,160 209.4,160 210.3,157.5 211.2,154.8 212.2,152.1 213.1,149.4 213.1,149.4 214,146.7 214.8,144.2 215.6,142 216.2,140 216.2,140 216.9,138.2 217.5,136.6 218.1,135.1 218.8,133.8"/>
<polygon fill="#a6dcf7" points="245,104.4 245.1,102.9 245.5,101.6 246.1,100.5 246.9,99.6 246.9,99.6 247.9,98.9 248.9,98.5 250,98.3 251.2,98.4 251.2,98.4 252.4,98.7 253.4,99.3 254.3,100.1 255,101.2 255,101.2 255.5,102.5 255.6,103.8 255.5,105.2 255,106.6 255,106.6 254.3,107.9 253.4,108.9 252.4,109.6 251.2,110 251.2,110 250,110.1 248.9,110 247.9,109.6 246.9,109 246.9,109 246.1,108.1 245.5,107.1 245.1,105.8 245,104.4"/>
<polygon fill="#a6dcf7" points="246.1,233.7 244.7,233.1 244.3,232.4 244.7,231.8 246,231.1 246.5,230.9 248.3,230.3 250.1,229.9 251.9,229.7 253.7,229.6 258.8,229.9 260.6,229.9 262.5,230.1 264.4,230.2 266.2,230.4 271.3,230.9 273,231.1 274.4,231.3 275.5,231.6 276.2,231.9 276.2,231.9 276.6,232.2 276.3,232.4 275.3,232.7 273.8,232.9 268.7,233.4 266.9,233.6 265,233.7 263.1,233.9 261.3,234.1 253.7,234.7 251.9,234.8 250,234.6 248.2,234.3 246.4,233.8"/>
<polygon fill="#a6dcf7" points="315.6,220.6 314.9,218.5 314.7,216.4 314.9,214.4 315.6,212.5 315.6,212.5 316.7,210.7 318,209.1 319.5,207.6 321.2,206.2 321.2,206.2 323.1,205.1 325,204.2 326.9,203.6 328.8,203.1 328.8,203.1 330.6,203 332.3,203.3 334,203.9 335.6,205 335.6,205 337.1,206.3 338.6,207.8 340,209.5 341.2,211.2 341.2,211.2 342.4,213.2 343.3,215.2 343.9,217.2 344.4,219.4 344.4,219.4 344.6,221.6 344.5,223.8 344.3,225.9 343.8,228.1 343.8,228.1 343,230.2 342,232.2 340.8,234 339.4,235.6 339.4,235.6 337.8,237 336.1,237.8 334.3,238.2 332.5,238.1 332.5,238.1 330.7,237.7 328.9,236.9 327.2,235.8 325.6,234.4 325.6,234.4 324.1,232.8 322.7,231.2 321.3,229.7 320,228.1 320,228.1 318.8,226.5 317.7,224.7 316.6,222.7 315.6,220.6"/>
<polygon fill="#a6dcf7" points="368.8,153.8 368.4,152.6 368.4,151.6 369,150.7 370,150 370,150 371.3,149.5 372.7,149.4 374.1,149.5 375.6,150 375.6,150 376.9,150.7 377.5,151.7 377.5,152.9 376.9,154.4 376.9,154.4 375.9,155.7 374.8,156.6 373.7,157 372.5,156.9 372.5,156.9 371.3,156.4 370.3,155.8 369.5,154.9 368.8,153.8"/>
<polygon fill="#a6dcf7" points="321.2,261.9 321.9,260.7 322.5,260.3 323.1,260.7 323.8,261.9 323.8,261.9 324.5,263.4 325.3,265 326.3,266.6 327.5,268.1 327.5,268.1 328.9,269.6 330.6,271.1 332.7,272.5 335,273.8 335,273.8 337.5,275 340,276.1 342.5,277.1 345,278.1 345,278.1 347.5,278.9 350,279.5 352.5,279.9 355,280 355,280 357.4,279.9 359.7,279.7 361.8,279.3 363.8,278.8 363.8,278.8 365.5,278.3 367.2,278.1 368.7,278.3 370,278.8 370,278.8 371.2,279.8 372.2,281.6 373,284.1 373.8,287.5 375,295 312.5,295 313.1,287.5 313.6,284 314.2,280.9 315.1,278.4 316.2,276.2 316.2,276.2 317.4,274.4 318.3,272.5 318.9,270.6 319.4,268.8 319.4,268.8 319.7,266.9 320.2,265.2 320.7,263.5 321.2,261.9"/>
<polygon fill="#a6dcf7" points="598.1,256.9 597.8,254.6 597.5,252 597.2,249.3 596.9,246.2 596.9,246.2 596.7,243.1 596.9,240 597.3,236.9 598.1,233.8 598.1,233.8 599.2,230.8 600.5,228.1 602,225.8 603.8,223.8 603.8,223.8 605.6,222 607.5,220.3 609.4,218.8 611.2,217.5 611.2,217.5 613,216.6 614.7,216.2 616.2,216.6 617.5,217.5 617.5,217.5 618.7,218.9 619.8,220.5 620.7,222.3 621.5,224.4 621.5,224.4 622,226.6 622.1,228.8 621.7,230.9 620.9,233.1 620.9,233.1 619.7,235.4 618.3,237.7 616.8,240 615,242.5 615,242.5 613.1,245 611.2,247.5 609.4,250 607.5,252.5 607.5,252.5 605.7,254.8 604.1,256.7 602.6,258.2 601.2,259.4 601.2,259.4 600.1,259.9 599.2,259.7 598.6,258.7 598.1,256.9"/>
<polygon fill="#a6dcf7" points="465,270 470,266.9 472.5,265.2 475,263.4 477.5,261.5 480,259.4 480,259.4 482.5,257.2 485,255.2 487.5,253.2 490,251.2 490,251.2 492.6,249.6 495.3,248.3 498.2,247.4 501.2,246.9 501.2,246.9 504.3,246.7 507.2,246.9 509.9,247.3 512.5,248.1 512.5,248.1 514.7,249.3 516.4,250.8 517.5,252.7 518.1,255 518.1,255 518.2,257.5 517.8,260 517,262.5 515.6,265 515.6,265 513.9,267.4 512,269.7 509.9,271.8 507.5,273.8 507.5,273.8 504.9,275.5 502.2,277.2 499.3,278.7 496.2,280 496.2,280 493.3,281.5 490.6,283.4 488.3,285.9 486.2,288.8 482.5,295 462.5,295"/>
<polygon fill="#a6dcf7" points="365,319.5 364.6,317.1 364.5,314.8 364.9,312.7 365.6,310.8 365.6,310.8 366.7,309 368,307.5 369.5,306.2 371.2,305.1 371.2,305.1 373.1,304.5 374.8,304.3 376.5,304.8 378.1,305.8 378.1,305.8 379.6,307.1 380.9,308.7 382.1,310.6 383.1,312.6 383.1,312.6 383.9,314.9 384.4,317.2 384.5,319.5 384.4,322 384.4,322 383.9,324.5 383.3,326.8 382.4,329.1 381.2,331.4 381.2,331.4 380,333.2 378.6,334.2 377.1,334.4 375.6,333.9 375.6,333.9 374.1,332.8 372.5,331.5 370.9,330 369.4,328.2 369.4,328.2 367.9,326.3 366.7,324.2 365.7,321.9 365,319.5"/>
<polygon fill="#a6dcf7" points="426.2,312 424.7,310.7 423.9,309.2 423.8,307.5 424.4,305.8 424.4,305.8 425.5,304 426.9,302.4 428.6,301 430.6,299.8 430.6,299.8 432.9,298.8 435.2,298 437.5,297.5 440,297.2 440,297.2 442.4,297.3 444.5,297.5 446.4,298.1 448.1,298.9 448.1,298.9 449.4,300 450.2,301.4 450.4,303.1 450,305.1 450,305.1 449.2,307.2 448,308.9 446.4,310.3 444.4,311.4 444.4,311.4 442.1,312.2 439.8,312.9 437.5,313.5 435,313.9 435,313.9 432.6,314 430.3,313.7 428.2,313.1 426.2,312"/>
<polygon fill="#a6dcf7" points="462.5,304.5 461.6,303.3 461.6,302.2 462.3,301.1 463.8,300.1 463.8,300.1 465.7,299.3 467.8,298.7 470.1,298.4 472.5,298.2 477.5,298.2 477.5,307 471.2,307 468.4,306.8 465.9,306.4 464,305.6 462.5,304.5"/>
<polygon fill="#a6dcf7" points="308.1,336.4 308,335.1 308.3,334.3 308.9,334.1 310,334.5 310,334.5 311.3,335.2 312.8,335.9 314.5,336.7 316.2,337.6 316.2,337.6 317.9,338.6 318.9,339.8 319.4,341.1 319.4,342.6 319.4,342.6 318.9,344 318.1,344.8 317,345.2 315.6,345.1 315.6,345.1 314.1,344.7 312.8,344 311.6,343.1 310.6,342 310.6,342 309.8,340.7 309.1,339.3 308.5,337.9 308.1,336.4"/>
<polygon fill="#a6dcf7" points="220,418.9 219.6,417.8 219.8,416.5 220.6,415 221.9,413.2 221.9,413.2 223.6,411.4 225.5,409.5 227.6,407.6 230,405.8 230,405.8 232.5,403.8 235,401.8 237.5,399.8 240,397.6 240,397.6 242.5,395.5 244.8,393.4 247.1,391.4 249.4,389.5 249.4,389.5 251.6,387.8 253.8,386.5 255.9,385.6 258.1,385.1 258.1,385.1 260.1,385 261.8,385.4 263.1,386.3 264,387.6 264,387.6 264.5,389.2 264.4,390.8 263.9,392.3 262.8,393.9 262.8,393.9 261.2,395.5 259.4,397.2 257.4,398.9 255,400.8 255,400.8 252.5,402.6 250.2,404.3 247.9,406 245.6,407.6 245.6,407.6 243.8,409.3 242.7,411.1 242.2,413 242.5,415.1 242.5,415.1 242.9,417.2 242.7,419.2 241.9,421 240.6,422.6 240.6,422.6 238.9,423.9 237,424.5 234.9,424.5 232.5,423.9 232.5,423.9 230.1,423 228,422.3 226.1,421.8 224.4,421.4 224.4,421.4 222.9,421 221.7,420.4 220.7,419.7 220,418.9"/>
<polygon fill="#a6dcf7" points="462.5,435.8 461.5,433.7 460.9,431.4 460.9,428.7 461.2,425.8 461.2,425.8 462,422.7 463,419.8 464.2,417.1 465.6,414.5 465.6,414.5 467.3,412.2 469.1,410.3 471,408.8 473.1,407.6 477.5,405.8 477.5,439.5 471.2,439.5 468.4,439.3 465.9,438.6 464,437.4 462.5,435.8"/>
<polygon fill="#a6dcf7" points="268.8,472.6 268.4,470.4 268.8,468.2 269.7,466.1 271.2,463.9 271.2,463.9 273.2,461.7 275.3,459.7 277.6,457.7 280,455.8 280,455.8 282.5,453.9 285,452.2 287.5,450.5 290,448.9 290,448.9 292.6,447.5 295.3,446.4 298.2,445.6 301.2,445.1 301.2,445.1 304.3,445 307.2,445.1 309.9,445.6 312.5,446.4 312.5,446.4 315,447.4 317.5,448.7 320,450.2 322.5,452 322.5,452 324.9,453.8 327.2,455.6 329.3,457.3 331.2,458.9 331.2,458.9 333,460.5 334.7,462.2 336.2,463.9 337.5,465.8 337.5,465.8 338.5,467.6 339.1,469.5 339.1,471.4 338.8,473.2 338.8,473.2 338,475 336.9,476.7 335.5,478.2 333.8,479.5 333.8,479.5 331.9,480.8 330,482.3 328.1,484 326.2,485.8 326.2,485.8 324.5,487.6 322.8,489.5 321.3,491.4 320,493.2 320,493.2 318.7,495.2 317.2,497.3 315.5,499.6 313.8,502 310,507 295,507 291.2,500.8 289.3,497.7 287.2,494.8 284.9,492.1 282.5,489.5 282.5,489.5 280.1,487.1 277.8,484.8 275.7,482.7 273.8,480.8 273.8,480.8 272,478.8 270.6,476.8 269.5,474.8 268.8,472.6"/>
<polygon fill="#a6dcf7" points="227.5,507 230,499.5 231.2,495.8 232.5,492.3 233.8,489 235,485.8 235,485.8 236.3,482.8 237.7,480.1 239.1,477.8 240.6,475.8 240.6,475.8 242.1,474.2 243.4,473.4 244.6,473.3 245.6,473.9 245.6,473.9 246.4,475 246.7,476.5 246.7,478.4 246.2,480.8 246.2,480.8 245.5,483.1 244.4,485.3 243,487.2 241.2,488.9 241.2,488.9 239.5,490.7 238.1,493.1 237,496 236.2,499.5 235,507"/>
<polygon fill="#a6dcf7" points="345,507 348.8,501.4 350.7,498.8 352.8,496.7 355.1,495 357.5,493.9 357.5,493.9 360.1,493 362.8,492.2 365.7,491.4 368.8,490.8 368.8,490.8 372,490.2 375.3,490 378.8,489.9 382.5,490.1 382.5,490.1 386.2,490.4 390,490.8 393.8,491.1 397.5,491.4 397.5,491.4 401.2,491.7 405,492.2 408.8,492.7 412.5,493.2 412.5,493.2 416.2,493.7 420,493.9 423.8,493.7 427.5,493.2 427.5,493.2 431.2,492.8 435,492.6 438.8,492.8 442.5,493.2 442.5,493.2 446.2,493.6 449.7,493.6 453,493 456.2,492 456.2,492 459.5,490.7 462.8,489.2 466.3,487.5 470,485.8 477.5,482 477.5,507"/>
<polygon fill="#a6dcf7" points="472.5,402 478.8,399.5 481.9,398.2 485,397 488.1,395.8 491.2,394.5 491.2,394.5 494.4,393.3 497.5,392.4 500.6,391.6 503.8,391 503.8,391 506.8,390.4 509.8,389.7 512.8,388.9 515.6,387.9 515.6,387.9 518.3,386.8 520.8,385.8 523,384.8 525,383.9 525,383.9 526.8,383.2 528.3,382.9 529.6,383.2 530.6,383.9 530.6,383.9 531.2,385 531.1,386.4 530.3,388.1 528.8,390.1 528.8,390.1 527,392.3 525.3,394.5 523.8,396.7 522.5,398.9 522.5,398.9 521.2,401 519.7,402.9 518,404.7 516.2,406.4 516.2,406.4 514.3,407.9 512.2,409.3 509.9,410.7 507.5,412 507.5,412 504.9,413.2 502.2,414.2 499.3,415 496.2,415.8 496.2,415.8 493.3,416.4 490.6,417.2 488.3,418 486.2,418.9 486.2,418.9 484.3,419.7 482.2,420.4 479.9,421 477.5,421.4 472.5,422"/>
<polygon fill="#a6dcf7" points="472.5,507 472.5,502 477.5,498.2 480,496.3 482.7,494.2 485.4,491.9 488.1,489.5 488.1,489.5 490.9,487 493.7,484.4 496.4,481.8 499.1,479.1 499.1,479.1 501.9,476.4 504.9,473.7 508,471 511.4,468.2 511.4,468.2 514.8,465.5 518.2,462.8 521.6,460 525,457.2 525,457.2 528.5,454.5 532.1,451.8 536,449.1 540,446.4 540,446.4 544,443.7 547.7,441.1 551,438.5 554.1,435.9 554.1,435.9 556.8,433.2 559,430.3 560.7,427.2 561.9,423.9 561.9,423.9 562.8,420.5 563.6,417.2 564.3,413.9 565,410.8 565,410.8 565.8,407.9 567,405.8 568.6,404.2 570.6,403.2 570.6,403.2 572.9,402.5 575.2,401.7 577.5,400.7 580,399.5 580,399.5 582.5,398.2 584.8,396.7 587.1,395 589.4,393.2 589.4,393.2 591.4,391.3 593.3,389.2 594.9,386.9 596.2,384.5 596.2,384.5 597.7,382.2 599.5,380.1 601.8,378.4 604.4,377 604.4,377 607.2,375.7 610,374.2 612.8,372.5 615.6,370.8 615.6,370.8 618.2,368.8 620.3,366.7 622,364.4 623.1,362 623.1,362 624.1,359.6 625.2,357.5 626.3,355.6 627.5,353.9 627.5,353.9 628.9,352.4 630.6,351.2 632.7,350.2 635,349.5 635,349.5 637.5,349.1 640,349.3 642.5,350.1 645,351.4 645,351.4 647.5,352.9 650,354.3 652.5,355.7 655,357 655,357 657.6,358.2 660.3,359.5 663.2,360.8 666.2,362 666.2,362 669.4,363.3 672.5,364.8 675.6,366.5 678.8,368.2 678.8,368.2 681.8,370.1 684.7,372 687.4,373.9 690,375.8 690,375.8 692.5,377.7 695,379.8 697.5,382.1 700,384.5 700,384.5 702.5,387 705,389.5 707.5,392 710,394.5 710,394.5 712.5,396.8 715,398.9 717.5,400.6 720,402 720,402 722.6,403.2 725.3,404.5 728.2,405.8 731.2,407 731.2,407 734.5,408.2 737.8,409.5 741.3,410.8 745,412 752.5,414.5 752.5,464.5 743.8,468.2 739.5,470 735.3,471.7 731.3,473.2 727.5,474.5 727.5,474.5 723.8,475.8 720,477 716.2,478.2 712.5,479.5 712.5,479.5 708.8,480.7 705,481.7 701.2,482.5 697.5,483.2 697.5,483.2 693.8,483.7 690,483.9 686.2,483.7 682.5,483.2 682.5,483.2 678.8,482.9 675,482.9 671.2,483.5 667.5,484.5 667.5,484.5 663.8,485.8 660,487.3 656.2,489 652.5,490.8 652.5,490.8 648.9,492.8 645.6,495.1 642.7,497.8 640,500.8 635,507"/>
<polygon fill="#a6dcf7" points="583.8,340.8 583.3,336.6 583.1,332.9 583.3,329.7 583.8,327 583.8,327 584.5,324.5 585.3,322 586.3,319.5 587.5,317 587.5,317 588.8,314.5 590,312 591.2,309.5 592.5,307 592.5,307 593.7,304.9 594.8,303.6 595.9,303 596.9,303.2 596.9,303.2 597.7,304.1 598.1,305.4 598.3,307.2 598.1,309.5 598.1,309.5 597.8,312 597.3,314.5 596.8,317 596.2,319.5 596.2,319.5 595.5,322 594.7,324.5 593.7,327 592.5,329.5 592.5,329.5 591.3,332.1 590.3,334.8 589.5,337.7 588.8,340.8 588.8,340.8 588.1,343.6 587.5,345.8 586.9,347.3 586.2,348.2 586.2,348.2 585.6,348.2 585,347 584.4,344.5 583.8,340.8"/>
<polygon fill="#a6dcf7" points="637.5,345.8 646.2,350.1 650.6,352.4 654.8,354.9 659,357.5 663.1,360.3 664.4,361.2 668.5,364 672.6,366.8 676.9,369.4 681.2,372 681.3,372 685.5,374.6 689.4,377.2 693,379.9 696.2,382.6 696.2,382.6 699.4,385 702.5,386.4 705.6,386.8 708.8,386.4 708.8,386.4 711.9,385.8 715,385.9 718.1,386.7 721.2,388.2 721.2,388.2 724.4,390.2 727.5,392.3 730.6,394.6 733.8,397 733.8,397 736.8,399.5 739.7,402 742.4,404.5 745,407 745,407 747.5,409.5 750,412 752.5,414.5 755,417 755,417 757.3,419.6 759.4,422.3 761.1,425.2 762.5,428.2 762.5,428.2 763.6,431.4 764.4,434.5 764.8,437.6 765,440.8 765,440.8 764.9,443.8 764.7,446.7 764.3,449.4 763.8,452 763.8,452 762.9,454.4 761.6,456.7 759.8,458.8 757.5,460.8 757.5,460.8 754.9,462.5 752.2,464.2 749.3,465.7 746.2,467 746.2,467 743.1,468.2 740,469.2 736.9,470 733.8,470.8 733.8,470.8 730.6,471.3 727.5,471.8 724.4,472.3 721.2,472.6 721.2,472.6 718.1,473 715,473.6 711.9,474.3 708.8,475.1 708.8,475.1 705.6,476.1 702.5,477.2 699.4,478.3 696.2,479.5 696.2,479.5 693.1,480.7 690,481.7 686.9,482.5 683.8,483.2 683.8,483.2 680.6,483.6 677.5,483.6 674.4,483 671.2,482 671.2,482 668.2,481.1 665.3,480.8 662.6,481.1 660,482 660,482 657.3,483.3 654.1,484.8 650.4,486.5 646.2,488.2 637.5,492"/>
<polygon fill="#a6dcf7" points="202.5,505.5 232.5,505.5 230.6,510.5 229.6,512.8 228.4,514.9 227.1,516.6 225.6,518 225.6,518 224,519.2 222.3,520.3 220.6,521.4 218.8,522.4 218.8,522.4 216.7,523.2 214.4,523.9 211.7,524.5 208.8,524.9 208.8,524.9 206,524.5 204.1,522.8 202.9,519.8 202.5,515.5"/>
<polygon fill="#a6dcf7" points="261.2,605.5 261,603.1 261.6,600.8 262.9,598.7 265,596.8 265,596.8 267.6,594.8 270.3,592.7 273.2,590.4 276.2,588 276.2,588 279.4,585.5 282.5,583 285.6,580.5 288.8,578 288.8,578 291.9,575.6 295,573.5 298.1,571.6 301.2,569.9 301.2,569.9 304.5,568.4 307.8,566.9 311.3,565.5 315,564.2 315,564.2 318.7,562.9 322.2,561.4 325.5,559.8 328.8,558 328.8,558 331.9,556.1 335,554.1 338.1,552 341.2,549.9 341.2,549.9 343.8,547.7 345,545.7 345,543.7 343.8,541.8 343.8,541.8 342,539.9 340.5,538.2 339.2,536.5 338.1,534.9 338.1,534.9 337.7,533.3 338.1,531.8 339.5,530.2 341.9,528.6 341.9,528.6 344.7,527.1 347.7,525.8 350.7,524.6 353.8,523.6 353.8,523.6 356.9,522.6 360,521.4 363.1,520.1 366.2,518.6 366.2,518.6 369.2,516.9 371.9,515 374.2,512.9 376.2,510.5 380,505.5 477.5,505.5 477.5,725.5 471.2,721.8 468.3,720 465.6,718.3 463.3,716.8 461.2,715.5 461.2,715.5 459.2,714.2 456.9,712.7 454.2,711 451.2,709.2 451.2,709.2 448.1,707.4 445,705.5 441.9,703.6 438.8,701.8 438.8,701.8 435.6,699.8 432.5,697.8 429.4,695.8 426.2,693.6 426.2,693.6 423.1,691.4 420,689.2 416.9,687.1 413.8,684.9 413.8,684.9 410.6,682.7 407.5,680.7 404.4,678.7 401.2,676.8 401.2,676.8 398,675 394.7,673.3 391.2,671.8 387.5,670.5 387.5,670.5 383.7,669.4 379.7,668.5 375.5,667.8 371.2,667.4 371.2,667.4 366.9,667.1 362.5,667.1 358.1,667.1 353.8,667.4 353.8,667.4 349.5,667.6 345.6,667.5 342,667.3 338.8,666.8 338.8,666.8 335.8,666 333.1,664.9 330.8,663.5 328.8,661.8 328.8,661.8 327,659.7 325.3,657.4 323.8,654.7 322.5,651.8 322.5,651.8 321.2,648.7 320,645.8 318.8,643.1 317.5,640.5 317.5,640.5 316.1,638.1 314.4,635.8 312.3,633.7 310,631.8 310,631.8 307.3,630 304.1,628.3 300.4,626.8 296.2,625.5 296.2,625.5 292,624.2 287.8,623 283.8,621.8 280,620.5 280,620.5 276.4,619.2 273.1,617.7 270.2,616 267.5,614.2 267.5,614.2 265.2,612.3 263.4,610.2 262.1,607.9 261.2,605.5"/>
<polygon fill="#a6dcf7" points="197.5,614.2 202,613.4 204.2,612.8 206.2,612.1 208,611.1 209.8,609.9 209.8,609.9 211.4,608.6 213,607.4 214.6,606.4 216.2,605.4 216.2,605.4 218,604.5 219.8,603.6 221.8,602.8 224,602.1 224,602.1 226.3,601.4 228.7,600.8 231.1,600.1 233.6,599.5 233.6,599.5 236.1,598.8 238.4,598.1 240.6,597.2 242.6,596.2 242.6,596.2 244.6,595.3 246.5,594.3 248.4,593.3 250.4,592.4 250.4,592.4 252.3,591.4 254.1,590.5 255.8,589.5 257.5,588.5 257.5,588.5 259.1,587.5 260.8,586.5 262.4,585.6 264,584.6 264,584.6 265.6,583.7 267.1,582.7 268.5,581.7 269.9,580.8 269.9,580.8 271.2,579.8 272.5,578.8 273.7,577.8 275,576.9 275,576.9 276.3,575.9 277.5,574.8 278.8,573.6 280.1,572.4 280.1,572.4 281.5,571.1 283.1,569.8 284.8,568.4 286.6,567.1 286.6,567.1 288.6,565.9 290.5,564.7 292.4,563.6 294.4,562.6 294.4,562.6 296.3,561.6 298.2,560.6 300.2,559.4 302.1,558.1 302.1,558.1 304.1,556.9 306,556 307.9,555.3 309.9,554.9 309.9,554.9 311.8,554.7 313.6,554.7 315.3,555 317,555.5 317,555.5 318.5,556.2 319.7,557.1 320.7,558.1 321.4,559.2 321.4,559.2 321.4,560.5 320.3,561.8 318.2,563 315,564.2 315,564.2 311.3,565.5 307.8,566.9 304.5,568.4 301.2,569.9 301.2,569.9 298.1,571.6 295,573.5 291.9,575.6 288.8,578 288.8,578 285.6,580.5 282.5,583 279.4,585.5 276.2,588 276.2,588 273.4,590.5 270.9,593 269,595.5 267.5,598 267.5,598 266.5,600.6 265.9,603.4 265.8,606.4 266.1,609.6 266.1,609.6 266.4,612.4 266.2,614.1 265.4,614.8 264,614.4 264,614.4 262.3,613.5 260.4,612.8 258.4,612.3 256.2,611.9 256.2,611.9 254,611.6 251.6,611.5 249.1,611.4 246.6,611.5 246.6,611.5 244.1,611.7 241.6,611.9 239.2,612.3 236.9,612.8 236.9,612.8 234.6,613.3 232.3,613.8 230,614.4 227.8,615 227.8,615 225.5,615.7 223.1,616.4 220.6,617.3 218.1,618.2 218.1,618.2 215.7,619.2 213.5,620.1 211.5,620.8 209.8,621.5 209.8,621.5 208,622.1 206.2,622.8 204.2,623.4 202,624.1 197.5,625.5"/>
<polygon fill="#a6dcf7" points="197.5,581.8 202,582.2 204.1,582.4 206,582.5 207.7,582.4 209.1,582.1 209.1,582.1 210.3,582.1 211.2,582.6 211.9,583.7 212.4,585.4 212.4,585.4 212.6,587.3 212.7,589.2 212.6,591.2 212.4,593.1 212.4,593.1 212.1,595.1 212.1,597 212.1,598.9 212.4,600.9 212.4,600.9 212.4,602.8 212,604.8 211.1,606.7 209.8,608.6 209.8,608.6 208,610.4 206.2,611.8 204.2,612.8 202,613.4 197.5,614.2"/>
<polygon fill="#a6dcf7" points="472.5,505.5 610,505.5 606.2,511.8 604.4,514.8 602.7,517.7 601,520.4 599.4,523 599.4,523 598,525.5 596.9,528 596.1,530.5 595.6,533 595.6,533 595.5,535.4 595.6,537.7 596.1,539.8 596.9,541.8 596.9,541.8 597.5,543.5 597.5,544.9 596.9,546 595.6,546.8 595.6,546.8 594.2,547.5 593,548.6 592,550 591.2,551.8 591.2,551.8 590.9,553.6 591.2,555.5 592.2,557.4 593.8,559.2 593.8,559.2 595.7,561 597.8,562.5 600.1,563.8 602.5,564.9 602.5,564.9 605.1,565.7 607.8,566.4 610.7,567 613.8,567.4 613.8,567.4 616.8,567.5 619.7,567.4 622.4,566.9 625,566.1 625,566.1 627.5,565.2 630,564.4 632.5,563.7 635,563 635,563 637.5,562.5 640,562.4 642.5,562.5 645,563 645,563 647.4,563.7 649.7,564.7 651.8,565.9 653.8,567.4 653.8,567.4 655.8,568.7 658.1,569.4 660.8,569.6 663.8,569.2 663.8,569.2 667,568.6 670.3,567.8 673.8,567 677.5,566.1 677.5,566.1 681.2,565.1 685,563.9 688.8,562.6 692.5,561.1 692.5,561.1 696.2,559.6 700,558.2 703.8,556.8 707.5,555.5 707.5,555.5 711.2,554.1 715,552.4 718.8,550.3 722.5,548 722.5,548 726.3,545.4 730.2,542.8 734.1,540 738.1,537.1 752.5,526.8 752.5,545.5 742.3,554.9 738.7,558.2 735,561.1 731.2,563.8 727.5,566.1 727.5,566.1 723.8,568.2 720,570 716.2,571.6 712.5,573 712.5,573 708.8,574.3 705,575.7 701.2,577.1 697.5,578.6 697.5,578.6 693.8,580.2 690,581.9 686.2,583.7 682.5,585.5 682.5,585.5 678.8,587.5 675.3,589.6 672,591.8 668.8,594.2 668.8,594.2 665.7,596.8 663,599.4 660.4,602.1 658.1,604.9 658.1,604.9 656.1,607.6 654.4,610.3 653,613 651.9,615.5 651.9,615.5 650.8,618 649.5,620.5 648,623 646.2,625.5 646.2,625.5 644.2,627.8 641.9,629.9 639.2,631.6 636.2,633 636.2,633 633,634.1 629.7,635 626.2,635.7 622.5,636.1 622.5,636.1 618.8,636.4 615,636.8 611.2,637.1 607.5,637.4 607.5,637.4 603.8,637.7 600.3,638.2 597,638.7 593.8,639.2 593.8,639.2 590.8,640 588.1,641.1 585.8,642.5 583.8,644.2 583.8,644.2 582.2,646.2 581.2,648.2 580.9,650.2 581.2,652.4 581.2,652.4 582.1,654.6 583.4,656.8 585.2,658.9 587.5,661.1 587.5,661.1 590,663.4 592.5,665.7 595,668 597.5,670.5 597.5,670.5 600.1,673 602.8,675.5 605.7,678 608.8,680.5 608.8,680.5 611.8,683 614.7,685.5 617.4,688 620,690.5 620,690.5 622.3,693 624.4,695.5 626.1,698 627.5,700.5 627.5,700.5 628.3,702.8 628.1,704.9 627,706.6 625,708 625,708 622.3,709.1 619.4,710 616.1,710.7 612.5,711.1 612.5,711.1 608.8,711.3 605,711.1 601.2,710.7 597.5,709.9 597.5,709.9 593.8,709 590,708.2 586.2,707.4 582.5,706.8 582.5,706.8 578.7,706.2 574.7,705.7 570.5,705.2 566.2,704.9 566.2,704.9 561.9,704.6 557.5,704.4 553.1,704.3 548.8,704.2 548.8,704.2 544.6,704.4 540.8,704.7 537.4,705.3 534.4,706.1 534.4,706.1 531.8,707.4 529.7,709.4 528,712.1 526.9,715.5 525,723 472.5,723"/>
<polygon fill="#a6dcf7" points="661.2,701.1 660.9,699.6 660.9,698 661.5,696.4 662.5,694.9 662.5,694.9 663.8,693.5 665.3,692.7 667,692.3 668.8,692.4 668.8,692.4 670.5,692.8 671.9,693.6 673,694.7 673.8,696.1 673.8,696.1 674.1,697.7 674.1,699.2 673.5,700.8 672.5,702.4 672.5,702.4 671.2,703.7 669.7,704.6 668,705 666.2,704.9 666.2,704.9 664.5,704.4 663.1,703.6 662,702.5 661.2,701.1"/>
<polygon fill="#a6dcf7" points="637.5,555.5 646.2,553 650.6,551.8 655,550.5 659.4,549.2 663.8,548 663.8,548 668.1,546.8 672.5,545.5 676.9,544.2 681.2,543 681.2,543 685.7,541.8 690.3,540.8 695,540 699.9,539.3 700.1,539.2 705,538.6 709.7,538 714.3,537.4 718.8,536.8 718.8,536.8 723.1,536 727.5,534.9 731.9,533.5 736.2,531.8 736.2,531.8 740.5,529.9 744.4,528 748,526.1 751.2,524.2 751.2,524.2 754.4,522.4 757.5,520.5 760.6,518.6 763.8,516.8 763.8,516.8 766.8,514.9 769.7,513 772.4,511.1 775,509.2 780,505.5 787.5,505.5 785,511.8 783.7,514.8 782.2,517.7 780.5,520.4 778.8,523 778.8,523 776.8,525.4 774.7,527.7 772.4,529.8 770,531.8 770,531.8 767.4,533.6 764.7,535.5 761.8,537.4 758.8,539.2 758.8,539.2 755.8,541.1 753.1,543 750.8,544.9 748.8,546.8 748.8,546.8 747,548.7 745.3,550.8 743.8,553.1 742.5,555.5 742.5,555.5 741,557.8 739.1,559.9 736.6,561.6 733.8,563 733.8,563 730.6,564.3 727.5,565.8 724.4,567.5 721.2,569.2 721.2,569.2 718.1,571.1 715,573 711.9,574.9 708.8,576.8 708.8,576.8 705.6,578.5 702.5,580.2 699.4,581.7 696.2,583 696.2,583 693.1,584 690,584.6 686.9,584.6 683.8,584.2 683.8,584.2 680.6,583.9 677.5,583.9 674.4,584.5 671.2,585.5 671.2,585.5 668.2,586.8 665.3,588.3 662.6,590 660,591.8 660,591.8 657.7,593.8 655.6,596.1 653.9,598.8 652.5,601.8 652.5,601.8 651.2,604.9 650,608 648.8,611.1 647.5,614.2 647.5,614.2 646.2,617.2 644.7,619.9 643,622.2 641.2,624.2 637.5,628"/>
<polygon fill="#6fb2e2" points="585,467.6 584.6,466 584.5,464.3 584.9,462.6 585.6,460.8 585.6,460.8 586.8,459 588.3,457.6 590.2,456.5 592.5,455.8 592.5,455.8 595,455.2 597.7,455 600.4,454.9 603.1,455.1 603.1,455.1 605.7,455.6 607.7,456.4 609.1,457.5 610,458.9 610,458.9 610.4,460.5 610.2,462.2 609.4,463.9 608.1,465.8 608.1,465.8 606.4,467.5 604.5,469 602.4,470.3 600,471.4 600,471.4 597.5,472.1 595.2,472.5 592.9,472.4 590.6,472 590.6,472 588.6,471.3 587,470.3 585.8,469.1 585,467.6"/>
<polygon fill="#6fb2e2" points="635,509.5 640,502 642.7,498.5 645.6,495.4 648.9,492.9 652.5,490.8 652.5,490.8 656.2,489 660,487.3 663.8,485.8 667.5,484.5 667.5,484.5 671.2,483.5 675,482.9 678.8,482.9 682.5,483.2 682.5,483.2 686.2,483.7 690,483.9 693.8,483.7 697.5,483.2 697.5,483.2 701.2,482.5 705,481.7 708.8,480.7 712.5,479.5 712.5,479.5 716.2,478.2 720,477 723.8,475.8 727.5,474.5 727.5,474.5 731.3,473.2 735.3,471.7 739.5,470 743.8,468.2 752.5,464.5 752.5,509.5"/>
<polygon fill="#6fb2e2" points="472.5,693 477.5,695.5 479.8,696.9 481.9,698.6 483.6,700.7 485,703 485,703 486,705.7 486.6,708.6 486.6,711.9 486.2,715.5 485,723 472.5,723"/>
<polygon fill="#6fb2e2" points="472.5,561.8 477.5,562.4 479.8,562.9 481.9,563.8 483.6,565.1 485,566.8 485,566.8 485.9,568.6 486.2,570.5 485.9,572.4 485,574.2 485,574.2 483.6,576 481.9,577.4 479.8,578.5 477.5,579.2 472.5,580.5"/>
<polygon fill="#6fb2e2" points="593.8,559.2 592.2,557.4 591.2,555.5 590.9,553.6 591.2,551.8 591.2,551.8 592,550 593,548.6 594.2,547.5 595.6,546.8 595.6,546.8 597.3,546.1 599.4,545.5 601.7,544.9 604.4,544.2 604.4,544.2 607.1,543.5 609.8,542.7 612.5,541.7 615,540.5 615,540.5 617.3,539.3 619.4,538.3 621.1,537.5 622.5,536.8 622.5,536.8 623.8,536.5 625,537.1 626.2,538.4 627.5,540.5 627.5,540.5 628.8,542.9 630.3,545.2 632,547.3 633.8,549.2 633.8,549.2 635.7,551.1 637.8,553 640.1,554.9 642.5,556.8 642.5,556.8 644.9,558.6 647,560.5 648.9,562.4 650.6,564.2 650.6,564.2 651.9,565.8 652.5,566.7 652.5,566.9 651.9,566.5 651.9,566.5 650.7,565.7 649.2,565 647.3,564.2 645,563.4 645,563.4 642.5,562.7 640,562.5 637.5,562.6 635,563 635,563 632.5,563.7 630,564.4 627.5,565.2 625,566.1 625,566.1 622.4,566.9 619.7,567.4 616.8,567.5 613.8,567.4 613.8,567.4 610.7,567 607.8,566.4 605.1,565.7 602.5,564.9 602.5,564.9 600.1,563.8 597.8,562.5 595.7,561 593.8,559.2"/>
<polygon fill="#d9effb" points="221.2,136.9 222,135.4 223.1,133.9 224.5,132.5 226.2,131.2 226.2,131.2 228.2,130.2 230.2,129.5 232.2,129.1 234.4,129.1 234.4,129.1 236.5,129.5 238.6,130.2 240.6,131.4 242.5,132.9 242.5,132.9 244.2,134.7 245.7,136.7 246.9,138.9 247.8,141.2 247.8,141.2 248.3,143.8 248.6,146.2 248.5,148.8 248,151.2 248,151.2 247.2,153.8 246.2,156.2 244.9,158.8 243.4,161.2 243.4,161.2 241.7,163.8 239.9,166.2 238.1,168.8 236.2,171.2 236.2,171.2 234.4,173.7 232.7,175.9 231,178 229.4,180 229.4,180 227.9,181.9 226.4,183.8 225,185.6 223.8,187.5 223.8,187.5 222.6,189.6 221.7,192 221.1,194.9 220.6,198.1 220.6,198.1 220.4,201.6 220.4,205.2 220.6,208.8 221,212.5 221,212.5 221.4,216.1 221.5,219.5 221.4,222.7 221,225.6 221,225.6 220.4,228.4 219.6,230.9 218.7,233.4 217.5,235.6 217.5,235.6 216,237.7 214.1,239.4 211.6,240.8 208.8,241.9 208.8,241.9 206,242.1 204.1,240.8 202.9,238 202.5,233.8 202.5,195 202.7,190.1 203.4,185.3 204.6,180.7 206.2,176.2 206.2,176.2 208,172.1 209.5,168.4 210.8,165.2 211.9,162.5 211.9,162.5 212.8,160 213.8,157.5 214.7,155 215.6,152.5 215.6,152.5 216.5,150.1 217.3,147.8 218.1,145.7 218.8,143.8 218.8,143.8 219.4,141.9 220,140.2 220.6,138.5 221.2,136.9"/>
<polygon fill="#d9effb" points="324.4,218.8 324.2,217 324.4,215.3 324.8,213.8 325.6,212.5 325.6,212.5 326.6,211.4 327.7,210.8 328.8,210.5 330,210.6 330,210.6 331.2,211.1 332.3,211.7 333.4,212.6 334.4,213.8 334.4,213.8 335.1,215 335.5,216.4 335.4,217.9 335,219.4 335,219.4 334.3,220.9 333.4,222.2 332.4,223.4 331.2,224.4 331.2,224.4 330,225.1 328.9,225.3 327.9,225.1 326.9,224.4 326.9,224.4 326,223.3 325.3,222 324.8,220.5 324.4,218.8"/>
<polygon fill="#d9effb" points="320,291.2 320.2,289.4 320.9,287.7 322.1,286 323.8,284.4 323.8,284.4 325.8,283 328.1,281.9 330.8,281.1 333.8,280.6 333.8,280.6 336.8,280.5 339.7,280.6 342.4,281.1 345,281.9 345,281.9 347,282.9 348.1,284.1 348.3,285.4 347.5,286.9 347.5,286.9 346.1,288.4 344.4,289.8 342.3,291.2 340,292.5 335,295 320,295"/>
<polygon fill="#d9effb" points="371.9,322.6 371.7,321.1 371.7,319.7 372,318.3 372.5,317 372.5,317 373.2,315.9 373.9,315.3 374.7,315 375.6,315.1 375.6,315.1 376.5,315.6 377.2,316.4 377.7,317.5 378.1,318.9 378.1,318.9 378.3,320.4 378.3,321.8 378,323.2 377.5,324.5 377.5,324.5 376.8,325.6 376.1,326.2 375.3,326.5 374.4,326.4 374.4,326.4 373.5,325.9 372.8,325.1 372.3,324 371.9,322.6"/>
<polygon fill="#d9effb" points="233.8,412.6 233.4,411 233.8,409.3 234.7,407.6 236.2,405.8 236.2,405.8 238.2,403.8 240.3,401.8 242.6,399.8 245,397.6 245,397.6 247.5,395.6 249.8,393.7 252.1,392.1 254.4,390.8 254.4,390.8 256.4,389.7 258.1,389.2 259.5,389.1 260.6,389.5 260.6,389.5 261.3,390.2 261.4,391.2 261,392.4 260,393.9 260,393.9 258.6,395.5 257,397.2 255.2,398.9 253.1,400.8 253.1,400.8 250.9,402.6 248.8,404.5 246.6,406.4 244.4,408.2 244.4,408.2 242.3,410 240.5,411.5 238.9,412.8 237.5,413.9 237.5,413.9 236.3,414.5 235.3,414.5 234.5,413.9 233.8,412.6"/>
<polygon fill="#d9effb" points="504,489.5 499.6,489.5 496.5,489.4 494.6,489.4 494,489.2 494,489.2 494.4,488.8 495.6,487.7 497.7,485.9 500.5,483.5 500.5,483.5 503.8,480.8 507.1,478 510.5,475.2 514,472.5 514,472.5 517.5,469.8 520.9,467.1 524.2,464.5 527.5,462 527.5,462 530.8,459.5 534.1,456.9 537.5,454.2 541,451.5 541,451.5 544.5,448.8 548,446 551.5,443.2 555,440.5 555,440.5 558.4,437.9 561.4,435.6 564.2,433.7 566.6,432 566.6,432 569.1,430.5 571.8,429.2 574.8,427.9 578.1,426.8 578.1,426.8 581.4,425.6 584.5,424.6 587.4,423.6 590,422.6 590,422.6 592.3,421.6 594.4,420.4 596.1,419.1 597.5,417.6 597.5,417.6 598.8,416 600,414.3 601.2,412.6 602.5,410.8 602.5,410.8 603.9,408.9 605.6,407 607.7,405.1 610,403.2 610,403.2 612.5,401.5 615,399.8 617.5,398.3 620,397 620,397 622.6,395.9 625.3,395 628.2,394.3 631.2,393.9 631.2,393.9 634.4,393.6 637.5,393.6 640.6,393.6 643.8,393.9 643.8,393.9 646.8,394.3 649.7,394.8 652.4,395.5 655,396.4 655,396.4 657.4,397.4 659.7,398.6 661.8,399.9 663.8,401.4 663.8,401.4 665.4,403.1 666.7,405 667.6,407.1 668.1,409.5 668.1,409.5 668.3,411.9 668.1,414.2 667.7,416.3 666.9,418.2 666.9,418.2 665.7,420 664.2,421.7 662.3,423.2 660,424.5 660,424.5 657.5,425.7 655,426.8 652.5,427.9 650,428.9 650,428.9 647.5,429.7 645,430.3 642.5,430.6 640,430.8 640,430.8 637.5,430.7 635,430.4 632.5,430 630,429.5 630,429.5 627.6,429.1 625.3,429 623.2,429.4 621.2,430.1 621.2,430.1 619.3,431 617.2,431.7 614.9,432.2 612.5,432.6 612.5,432.6 610,433 607.5,433.6 605,434.3 602.5,435.1 602.5,435.1 600,436.2 597.5,437.5 595,439 592.5,440.8 592.5,440.8 590,442.6 587.5,444.5 585,446.4 582.5,448.2 582.5,448.2 580.1,450.2 578,452.3 576.1,454.6 574.4,457 574.4,457 573,459.5 572,462 571.4,464.5 571.2,467 571.2,467 571.2,469.7 571.2,472.9 571.2,476.6 571.2,480.8 571.2,480.8 570.6,484.6 568.8,487.3 565.6,489 561.2,489.5"/>
<polygon fill="#d9effb" points="582.5,509.5 585,500.8 586.3,496.7 587.8,493.2 589.5,490.4 591.2,488.2 591.2,488.2 593.2,486.5 595.3,484.8 597.6,483.3 600,482 600,482 602.6,480.8 605.3,479.7 608.2,478.6 611.2,477.6 611.2,477.6 614.4,476.7 617.5,475.9 620.6,475.2 623.8,474.5 623.8,474.5 626.8,474 629.7,473.7 632.4,473.7 635,473.9 635,473.9 637.3,474.3 639.1,475 640.4,475.9 641.2,477 641.2,477 641.6,478.3 641.2,479.8 640.3,481.5 638.8,483.2 638.8,483.2 636.8,485.1 634.7,487 632.4,488.9 630,490.8 630,490.8 627.5,492.9 625,495.4 622.5,498.5 620,502 615,509.5"/>
<polygon fill="#d9effb" points="688.1,432 688.1,429.7 688.6,427.6 689.6,425.9 691.2,424.5 691.2,424.5 693.2,423.3 695.3,422.3 697.6,421.5 700,420.8 700,420.8 702.4,420.4 704.5,420.8 706.4,421.7 708.1,423.2 708.1,423.2 709.5,425.3 710.6,427.6 711.4,430.3 711.9,433.2 711.9,433.2 712.1,436.4 712.2,439.5 712.1,442.6 711.9,445.8 711.9,445.8 711.4,448.7 710.6,451.4 709.5,453.7 708.1,455.8 708.1,455.8 706.5,457.3 704.7,458.2 702.7,458.6 700.6,458.2 700.6,458.2 698.6,457.4 696.7,456.1 695.1,454.3 693.8,452 693.8,452 692.6,449.5 691.6,447 690.7,444.5 690,442 690,442 689.4,439.5 688.9,437 688.5,434.5 688.1,432"/>
<polygon fill="#d9effb" points="741.2,444.5 740.8,442.1 740.8,440 741.1,438.1 741.9,436.4 741.9,436.4 743,435 744.4,434.2 746.1,433.8 748.1,433.9 752.5,434.5 752.5,452 747.5,450.8 745.2,449.9 743.4,448.6 742.1,446.8 741.2,444.5"/>
<polygon fill="#d9effb" points="640,369.8 639,368.4 638.7,367.2 638.9,366 639.8,364.9 639.8,364.9 640.9,364.1 642.1,363.8 643.3,363.9 644.5,364.6 644.5,364.6 645.5,365.6 645.8,366.8 645.6,368.1 644.8,369.5 644.8,369.5 643.6,370.6 642.4,371.1 641.2,370.8 640,369.8"/>
<polygon fill="#d9effb" points="687.5,430.1 687.2,428.6 687.5,427.2 688.4,425.8 690,424.5 690,424.5 692,423.3 694.2,422.3 696.7,421.5 699.4,420.8 699.4,420.8 702,420.4 704.4,420.4 706.4,421 708.1,422 708.1,422 709.6,423.4 710.8,425.1 711.8,427.2 712.5,429.5 712.5,429.5 713,432.1 713.3,434.8 713.3,437.7 713.1,440.8 713.1,440.8 712.7,443.8 712,446.8 711.1,449.8 710,452.6 710,452.6 708.6,455.2 707,457.3 705.2,459 703.1,460.1 703.1,460.1 701.1,460.6 699.4,460.3 698,459.1 696.9,457 696.9,457 696,454.4 695.3,451.7 694.8,448.8 694.4,445.8 694.4,445.8 693.9,442.8 693.3,440.3 692.4,438.1 691.2,436.4 691.2,436.4 690.1,434.8 689.1,433.2 688.2,431.7 687.5,430.1"/>
<polygon fill="#d9effb" points="740,443.2 740.1,440.9 740.5,438.7 741.1,436.8 741.9,435.1 741.9,435.1 742.9,433.8 744.1,433.1 745.4,432.9 746.9,433.2 746.9,433.2 748.4,434 749.7,435.1 750.9,436.5 751.9,438.2 751.9,438.2 752.6,440.2 753,442.2 752.9,444.2 752.5,446.4 752.5,446.4 751.8,448.4 750.8,450.1 749.6,451.5 748.1,452.6 748.1,452.6 746.6,453.2 745.2,453.2 743.8,452.6 742.5,451.4 742.5,451.4 741.4,449.7 740.6,447.8 740.2,445.6 740,443.2"/>
<polygon fill="#d9effb" points="267.5,606.8 265.7,604.8 265.3,602.8 266.3,600.8 268.8,598.6 268.8,598.6 272,596.4 275.3,594.2 278.8,592.1 282.5,589.9 282.5,589.9 286.2,587.8 290,586 293.8,584.4 297.5,583 297.5,583 301.2,581.8 305,580.7 308.8,579.6 312.5,578.6 312.5,578.6 316.2,577.7 319.7,576.9 323,576.2 326.2,575.5 326.2,575.5 329.5,574.9 333.1,574.2 337,573.6 341.2,573 341.2,573 345.5,572.3 349.4,571.6 353,570.8 356.2,569.9 356.2,569.9 359.3,568.8 362.2,567.5 364.9,566 367.5,564.2 367.5,564.2 369.9,562.3 372.2,560.2 374.3,557.9 376.2,555.5 376.2,555.5 378.2,553 380.3,550.5 382.6,548 385,545.5 385,545.5 387.4,543 389.7,540.5 391.8,538 393.8,535.5 393.8,535.5 395.5,533 396.9,530.5 398,528 398.8,525.5 398.8,525.5 399.3,522.8 399.5,519.9 399.6,516.6 399.4,513 398.8,505.5 477.5,505.5 477.5,680.5 467.4,681.8 462.6,682.2 458.1,682.4 453.9,682.2 450,681.8 450,681.8 446.3,681 442.8,680 439.5,678.8 436.2,677.4 436.2,677.4 433.2,675.8 430.3,674.2 427.6,672.7 425,671.1 425,671.1 422.5,669.5 420,667.8 417.5,666.1 415,664.2 415,664.2 412.3,662.5 409.4,660.8 406.1,659.3 402.5,658 402.5,658 398.8,656.8 395,655.7 391.2,654.6 387.5,653.6 387.5,653.6 383.8,652.8 380,652.4 376.2,652.2 372.5,652.4 372.5,652.4 368.8,652.7 365,653.2 361.2,653.7 357.5,654.2 357.5,654.2 353.8,654.7 350.3,654.7 347,654.4 343.8,653.6 343.8,653.6 340.8,652.5 338.1,651.1 335.8,649.4 333.8,647.4 333.8,647.4 332,645.1 330.3,642.8 328.8,640.5 327.5,638 327.5,638 326.2,635.5 325,633 323.8,630.5 322.5,628 322.5,628 321.3,625.5 320.3,623 319.5,620.5 318.8,618 318.8,618 318,615.8 316.9,614.2 315.5,613.3 313.8,613 313.8,613 311.9,613.2 310,613.6 308.1,614.4 306.2,615.5 306.2,615.5 304.1,616.5 301.6,617.1 298.5,617.1 295,616.8 295,616.8 291.2,616 287.5,615.2 283.8,614.2 280,613 280,613 276.4,611.7 273.1,610.2 270.2,608.5 267.5,606.8"/>
<polygon fill="#a6dcf7" points="477.5,531.8 470,533.6 466.3,534.6 462.8,535.7 459.5,536.8 456.2,538 456.2,538 453,539.3 449.7,540.8 446.2,542.5 442.5,544.2 442.5,544.2 438.8,546.1 435,548 431.2,549.9 427.5,551.8 427.5,551.8 423.8,553.6 420.3,555.3 417,557 413.8,558.6 413.8,558.6 410.6,560.1 407.5,561.6 404.4,563 401.2,564.2 401.2,564.2 398.1,565.5 395,566.6 391.9,567.6 388.8,568.6 388.8,568.6 385.8,569.6 383.1,570.7 380.8,571.8 378.8,573 378.8,573 377,574.3 375.5,575.8 374.2,577.5 373.1,579.2 373.1,579.2 372.4,581.1 372.2,583 372.4,584.9 373.1,586.8 373.1,586.8 374.3,588.5 375.8,590 377.7,591.3 380,592.4 380,592.4 382.6,593.2 385.3,593.9 388.2,594.5 391.2,594.9 391.2,594.9 394.4,595.2 397.5,595.5 400.6,595.8 403.8,596.1 403.8,596.1 406.9,596.5 410,596.9 413.1,597.4 416.2,598 416.2,598 419.4,598.4 422.5,598.5 425.6,598.1 428.8,597.4 428.8,597.4 431.9,596.3 435,595 438.1,593.5 441.2,591.8 441.2,591.8 444.4,589.9 447.5,588 450.6,586.1 453.8,584.2 453.8,584.2 457,582.5 460.6,580.8 464.5,579.3 468.8,578 477.5,575.5"/>
<polygon fill="#d9effb" points="472.5,505.5 500,505.5 498.8,510.5 498,512.9 496.9,515.2 495.5,517.3 493.8,519.2 493.8,519.2 491.9,521 490,522.7 488.1,524.2 486.2,525.5 486.2,525.5 484.3,526.7 482.2,527.7 479.9,528.5 477.5,529.2 472.5,530.5"/>
<polygon fill="#d9effb" points="543.8,505.5 592.5,505.5 588.8,511.8 586.8,514.8 584.7,517.7 582.4,520.4 580,523 580,523 577.5,525.4 575,527.7 572.5,529.8 570,531.8 570,531.8 567.5,533.6 565,535.5 562.5,537.4 560,539.2 560,539.2 557.6,540.7 555.5,541.4 553.6,541.4 551.9,540.5 551.9,540.5 550.5,539.1 549.7,537.4 549.3,535.3 549.4,533 549.4,533 549.6,530.5 549.5,528 549.3,525.5 548.8,523 548.8,523 548.1,520.4 547.3,517.7 546.5,514.8 545.6,511.8"/>
<polygon fill="#d9effb" points="492.5,576.8 491.7,573.8 491.9,571.1 493,568.8 495,566.8 495,566.8 497.6,564.9 500.3,563.2 503.2,561.5 506.2,559.9 506.2,559.9 509.4,558.3 512.5,556.8 515.6,555.2 518.8,553.6 518.8,553.6 521.9,552.1 525,550.7 528.1,549.3 531.2,548 531.2,548 534.3,546.8 537.2,545.8 539.9,545 542.5,544.2 542.5,544.2 544.8,543.9 546.6,544.2 547.9,545.2 548.8,546.8 548.8,546.8 549.1,548.7 549.1,550.8 548.5,553.1 547.5,555.5 547.5,555.5 546.2,558 544.7,560.5 543,563 541.2,565.5 541.2,565.5 539.4,568 537.5,570.5 535.6,573 533.8,575.5 533.8,575.5 531.8,577.9 529.7,580.2 527.4,582.3 525,584.2 525,584.2 522.5,586.1 520,587.8 517.5,589.5 515,591.1 515,591.1 512.5,592.5 510,593.3 507.5,593.7 505,593.6 505,593.6 502.7,593 500.6,591.9 498.9,590.2 497.5,588 497.5,588 496.2,585.4 495,582.7 493.8,579.8 492.5,576.8"/>
<polygon fill="#d9effb" points="472.5,583 478.8,581.8 481.8,581.4 484.7,581.4 487.4,582 490,583 490,583 492.3,584.3 494.4,585.8 496.1,587.5 497.5,589.2 497.5,589.2 498.8,591.2 500,593.3 501.2,595.6 502.5,598 502.5,598 503.3,600.4 503.1,602.7 502,604.8 500,606.8 500,606.8 497.5,608.5 495,610.2 492.5,611.7 490,613 490,613 487.4,614.2 484.7,615.2 481.8,616 478.8,616.8 472.5,618"/>
<polygon fill="#d9effb" points="512.5,638 515,635.6 517.5,633.3 520,631.2 522.5,629.2 522.5,629.2 525.1,627.5 527.8,625.8 530.7,624.3 533.8,623 533.8,623 537,621.8 540.3,620.7 543.8,619.6 547.5,618.6 547.5,618.6 551.2,617.8 554.7,617.1 558,616.5 561.2,616.1 561.2,616.1 564.2,616 566.9,616.1 569.2,616.6 571.2,617.4 571.2,617.4 573,618.5 574.4,620.2 575.5,622.3 576.2,624.9 576.2,624.9 576.8,627.7 577.3,630.7 577.8,633.7 578.1,636.8 578.1,636.8 578.2,639.8 577.8,642.7 577,645.4 575.6,648 575.6,648 574,650.5 572.3,653 570.6,655.5 568.8,658 568.8,658 567,660.5 565.6,663 564.5,665.5 563.8,668 563.8,668 563.1,670.5 562.5,673 561.9,675.5 561.2,678 561.2,678 560.4,680.3 559.1,682.4 557.3,684.1 555,685.5 555,685.5 552.4,686.6 549.7,687.4 546.8,687.8 543.8,688 543.8,688 540.6,687.9 537.5,687.7 534.4,687.3 531.2,686.8 531.2,686.8 528.2,686 525.3,685.2 522.6,684.2 520,683 520,683 517.6,681.7 515.3,680.2 513.2,678.5 511.2,676.8 511.2,676.8 509.8,674.8 509.1,672.7 509.1,670.4 510,668 510,668 511,665.5 511.6,663 511.6,660.5 511.2,658 511.2,658 510.6,655.5 510,653 509.4,650.5 508.8,648 508.8,648 508.5,645.5 509.1,643 510.4,640.5 512.5,638"/>
<polygon fill="#d9effb" points="472.5,640.5 481.2,639.2 485.5,638.6 489.7,638 493.7,637.4 497.5,636.8 497.5,636.8 500.9,636.6 503.6,637.4 505.6,639.1 506.9,641.8 506.9,641.8 507.7,645 508.1,648.3 508.3,651.8 508.1,655.5 508.1,655.5 507.8,659.1 507.5,662.4 507.2,665.3 506.9,668 506.9,668 506.7,670.5 506.9,673 507.3,675.5 508.1,678 508.1,678 509.1,680.5 510.2,683 511.3,685.5 512.5,688 512.5,688 513.4,690.4 513.4,692.7 512.7,694.8 511.2,696.8 511.2,696.8 509.3,698.5 507.2,699.9 504.9,701 502.5,701.8 502.5,701.8 500.1,702 497.8,701.4 495.7,700.1 493.8,698 493.8,698 491.9,695.5 490,693 488.1,690.5 486.2,688 486.2,688 484.3,685.7 482.2,683.9 479.9,682.6 477.5,681.8 472.5,680.5"/>
<polygon fill="#d9effb" points="593.8,584.2 593.4,582.5 593.8,580.8 594.7,579.3 596.2,578 596.2,578 598.2,576.9 600.3,576 602.6,575.3 605,574.9 605,574.9 607.6,574.7 610.3,574.7 613.2,575 616.2,575.5 616.2,575.5 619.4,576.1 622.5,576.8 625.6,577.4 628.8,578 628.8,578 631.9,578.5 635,578.8 638.1,578.8 641.2,578.6 641.2,578.6 644.3,578.2 647.2,577.5 649.9,576.6 652.5,575.5 652.5,575.5 655.1,574.3 657.8,573.3 660.7,572.5 663.8,571.8 663.8,571.8 666.8,571.2 669.7,570.7 672.4,570.2 675,569.9 675,569.9 677,569.8 678.1,570.3 678.3,571.4 677.5,573 677.5,573 676.1,574.8 674.4,576.6 672.3,578.3 670,579.9 670,579.9 667.5,581.5 665,583.2 662.5,584.9 660,586.8 660,586.8 657.6,588.6 655.3,590.5 653.2,592.4 651.2,594.2 651.2,594.2 649.3,596 647.2,597.6 644.9,599 642.5,600.2 642.5,600.2 639.9,601.2 637.2,601.8 634.3,602.1 631.2,602.1 631.2,602.1 628.2,601.8 625.3,601.2 622.6,600.4 620,599.2 620,599.2 617.5,598 615,596.9 612.5,595.9 610,594.9 610,594.9 607.5,593.9 605,592.8 602.5,591.7 600,590.5 600,590.5 597.7,589.2 595.9,587.7 594.6,586 593.8,584.2"/>
<polygon fill="#d9effb" points="637.5,575.5 643.8,574.9 646.9,574.5 650,573.9 653.1,573.2 656.2,572.4 656.2,572.4 659.4,571.5 662.5,570.8 665.6,570.3 668.8,569.9 668.8,569.9 671.7,569.7 674.2,569.9 676.4,570.3 678.1,571.1 678.1,571.1 679.4,572.2 680,573.5 680,575 679.4,576.8 679.4,576.8 678.2,578.6 676.7,580.5 674.8,582.4 672.5,584.2 672.5,584.2 670,586 667.5,587.7 665,589.2 662.5,590.5 662.5,590.5 660.1,591.8 657.8,593.3 655.7,595 653.8,596.8 653.8,596.8 651.7,598.5 649.4,599.9 646.7,601 643.8,601.8 637.5,603"/>
<polygon fill="#6fb2e2" points="327.3,427.3 458.2,427.3 459.5,432.7 460.6,435.2 462.6,437.2 465.4,438.6 469.1,439.5 469.1,439.5 473.1,440 476.9,439.9 480.6,439.3 484.1,438.2 484.1,438.2 487.2,436.7 489.9,435.1 492,433.3 493.6,431.4 496.3,427.3 561.8,427.3 555,434.1 551.5,437.4 547.8,440.6 544,443.5 540,446.4 540,446.4 536,449.1 532.1,451.8 528.5,454.5 525,457.3 525,457.3 521.6,460 518.2,462.7 514.8,465.5 511.3,468.2 511.3,468.2 508,470.9 504.9,473.6 501.9,476.4 499.1,479.1 499.1,479.1 496.3,481.7 493.6,484.2 490.9,486.5 488.2,488.6 488.2,488.6 485.4,490.6 482.7,492.4 480,494 477.3,495.4 477.3,495.4 474.5,496.6 471.8,497.2 469.1,497.2 466.4,496.8 466.4,496.8 463.6,496.3 460.9,496.1 458.2,496.3 455.4,496.8 455.4,496.8 452.7,497.6 450,498.5 447.3,499.6 444.5,500.9 444.5,500.9 441.9,502.2 439.4,503.5 437.1,504.6 435,505.7 435,505.7 432.9,506.4 430.6,506.7 428.1,506.4 425.4,505.7 425.4,505.7 422.7,504.6 420,503.5 417.3,502.2 414.5,500.9 414.5,500.9 411.8,499.6 409.1,498.5 406.4,497.6 403.6,496.8 403.6,496.8 400.8,496.2 397.8,495.6 394.7,495.2 391.4,494.8 391.4,494.8 387.9,494.4 384.5,494.1 381.1,493.7 377.7,493.4 377.7,493.4 374.3,493.2 370.9,493.2 367.5,493.5 364.1,494.1 364.1,494.1 360.8,494.9 358,496.1 355.4,497.7 353.2,499.5 353.2,499.5 351.3,501.7 349.8,504 348.6,506.4 347.7,509.1 347.7,509.1 347.2,511.8 347,514.5 347.2,517.3 347.7,520 347.7,520 348.2,522.6 348.1,525.1 347.5,527.4 346.4,529.5 346.4,529.5 344.9,531.7 343.3,534 341.5,536.4 339.5,539.1 339.5,539.1 337.5,541.6 335.5,543.9 333.4,545.7 331.4,547.3 327.3,550 327.3,488.6 332,487.3 334.3,486.4 336.5,485.2 338.4,483.7 340.2,481.8 340.2,481.8 341.8,479.7 343.1,477.4 344,474.9 344.7,472.3 344.7,472.3 345,469.6 344.9,467 344.4,464.5 343.4,462 343.4,462 341.9,459.8 339.8,458 337.2,456.4 334.1,455.2 327.3,453.2"/>
<polygon fill="#a6dcf7" points="346.8,509.1 347.5,506.4 348.7,504 350.4,501.7 352.5,499.5 352.5,499.5 355,497.7 357.8,496.2 360.8,495.1 364.1,494.4 364.1,494.4 367.2,494.1 369.9,494.5 372,495.5 373.6,497.1 373.6,497.1 374.8,499.2 375.5,501.7 375.8,504.5 375.7,507.7 375.7,507.7 375.3,511.1 374.7,514.5 373.9,517.9 373,521.4 373,521.4 371.8,524.8 370.4,528.5 368.7,532.3 366.8,536.4 366.8,536.4 364.8,540.4 362.7,544.2 360.7,547.9 358.6,551.4 358.6,551.4 356.6,554.1 354.5,555.4 352.5,555.4 350.5,554.1 350.5,554.1 348.7,551.6 347.7,548.3 347.3,544.1 347.6,539.1 347.9,536.3 348.3,531.2 348.4,526.8 348.1,523.1 347.5,520 347.5,520 346.8,517.3 346.5,514.5 346.5,511.8 346.8,509.1"/>
<polygon fill="#a6dcf7" points="405,559.5 404.5,554.9 403.1,551.9 400.8,550.5 397.5,550.7 397.5,550.7 393.9,551.8 390.5,553.2 387.4,554.9 384.5,556.8 384.5,556.8 381.9,558.9 379.6,561.2 377.5,563.7 375.7,566.4 375.7,566.4 374.1,569.1 373,571.8 372.1,574.5 371.6,577.3 371.6,577.3 371.4,580 371.6,582.7 372.1,585.4 373,588.2 373,588.2 374.1,590.8 375.7,593.1 377.6,595.2 379.8,597 379.8,597 382.2,598.5 384.7,599.4 387.3,599.8 390,599.8 390,599.8 392.7,599.3 395.3,598.6 397.8,597.6 400.2,596.3 400.2,596.3 402.3,594.5 403.8,591.6 404.7,587.7 405,582.7"/>
<polygon fill="#d9effb" points="399.8,479.8 620.2,479.8 620.2,650.2 399.8,650.2"/>
<polygon fill="#a6dcf7" points="398,478 493,478 488.5,482 486.3,483.9 484.1,485.8 482,487.4 480,489 480,489 478,490.5 476,491.9 474,493.2 472,494.5 472,494.5 470,495.8 468,497 466,498.2 464,499.5 464,499.5 461.9,500.7 459.8,501.9 457.4,503 455,504 455,504 452.5,505 450,506 447.5,507 445,508 445,508 442.6,508.9 440.2,509.8 438.1,510.4 436,511 436,511 433.9,511.2 431.8,510.9 429.4,510 427,508.5 427,508.5 424.5,506.9 422,505.5 419.5,504.4 417,503.5 417,503.5 414.4,503 411.5,503 408.4,503.5 405,504.5 398,507"/>
<polygon fill="#6fb2e2" points="426,478 469,478 468,483 467.3,485.4 466.4,487.5 465.1,489.4 463.5,491 463.5,491 461.7,492.4 459.9,493.8 458,494.9 456,496 456,496 454,496.9 452,497.6 450,498.2 448,498.5 448,498.5 446,498.7 444,498.6 442,498.4 440,498 440,498 438.1,497.4 436.2,496.6 434.6,495.7 433,494.5 433,494.5 431.6,493.2 430.2,491.9 429.1,490.5 428,489 428,489 427.1,487.4 426.5,485.8 426.1,483.9 426,482"/>
<polygon fill="#6fb2e2" points="398,478 406,478 405.5,481.5 405.1,483.1 404.2,484.4 403.1,485.3 401.5,486 398,487"/>
<polygon fill="#a6dcf7" points="398,549 404,547.5 406.9,546.8 409.8,546 412.4,545.2 415,544.5 415,544.5 417.5,543.9 420,543.5 422.5,543.4 425,543.5 425,543.5 427.5,543.6 430,543.4 432.5,542.8 435,542 435,542 437.5,541 440,540 442.5,539 445,538 445,538 447.5,537 450,536.1 452.5,535.3 455,534.5 455,534.5 457.5,533.8 460,533 462.5,532.2 465,531.5 465,531.5 467.5,530.8 470,530.1 472.5,529.5 475,529 475,529 477.5,528.5 480,528.1 482.5,527.8 485,527.5 485,527.5 487.5,527.2 490,526.9 492.5,526.5 495,526 495,526 497.5,525.4 500,524.8 502.5,523.9 505,523 505,523 507.5,522 510,521 512.5,520 515,519 515,519 517.5,518 520,516.9 522.5,515.7 525,514.5 525,514.5 527.5,513.2 530,511.9 532.5,510.5 535,509 535,509 537.4,507.5 539.8,506.1 541.9,504.8 544,503.5 544,503.5 546,502.4 548,501.5 550,500.9 552,500.5 552,500.5 553.9,500.4 555.8,500.6 557.4,501.2 559,502 559,502 560.4,503.1 561.6,504.5 562.7,506.1 563.5,508 563.5,508 564.1,510 564.5,512 564.6,514 564.5,516 564.5,516 564.2,518 563.6,520 562.9,522 562,524 562,524 560.9,525.9 559.8,527.8 558.4,529.4 557,531 557,531 555.5,532.4 554,533.8 552.5,534.9 551,536 551,536 549.4,536.9 547.8,537.8 545.9,538.4 544,539 544,539 542,539.6 540,540.2 538,541.1 536,542 536,542 534,543 532,544 530,545 528,546 528,546 526,547 524,548.1 522,549.3 520,550.5 520,550.5 518,551.8 516,553 514,554.2 512,555.5 512,555.5 510,556.8 508,558 506,559.2 504,560.5 504,560.5 502.1,561.8 500.2,563 498.6,564.2 497,565.5 497,565.5 495.5,566.7 494,567.9 492.5,569 491,570 491,570 489.4,571.1 487.8,572.2 485.9,573.6 484,575 484,575 482,576.5 480,577.9 478,579.2 476,580.5 476,580.5 474,581.7 472,582.9 470,584 468,585 468,585 466,586 464,587.1 462,588.3 460,589.5 460,589.5 458,590.7 456,591.9 454,593 452,594 452,594 450,595 448,595.9 446,596.7 444,597.5 444,597.5 441.9,598.2 439.8,598.8 437.4,599.2 435,599.5 435,599.5 432.5,599.7 430,599.6 427.5,599.4 425,599 425,599 422.5,598.5 420,598 417.5,597.5 415,597 415,597 412.4,596.6 409.8,596.5 406.9,596.6 404,597 398,598"/>
<polygon fill="#a6dcf7" points="475,642 475.6,640.8 476.2,639 477.1,636.8 478,634 478,634 479.1,631.1 480.5,628.5 482.1,626.1 484,624 484,624 486,622.1 488,620.2 490,618.6 492,617 492,617 494,615.5 496,614 498,612.5 500,611 500,611 502,609.5 504,608 506,606.5 508,605 508,605 510,603.5 512,602 514,600.5 516,599 516,599 518,597.4 520,595.8 522,593.9 524,592 524,592 526,590 528,588 530,586 532,584 532,584 534,582 536,580 538,578 540,576 540,576 541.9,574.1 543.5,572.2 544.9,570.6 546,569 546,569 546.8,567.5 547.2,566 547.3,564.5 547,563 547,563 546.6,561.5 546.5,560 546.6,558.5 547,557 547,557 547.7,555.5 548.8,554 550.2,552.5 552,551 552,551 554,549.5 556,548 558,546.5 560,545 560,545 562,543.5 564,542 566,540.5 568,539 568,539 570,537.5 572,536 574,534.5 576,533 576,533 578,531.6 580,530.2 582,529.1 584,528 584,528 586,527 588,526.1 590,525.3 592,524.5 592,524.5 593.9,523.6 595.5,522.5 596.9,521.1 598,519.5 598,519.5 599.1,517.7 600.5,515.9 602.1,514 604,512 604,512 606.2,510 608.8,508.1 611.7,506.3 615,504.5 622,501 622,628 617,630 614.6,631.1 612.2,632.2 610.1,633.6 608,635 608,635 606,636.4 604,637.5 602,638.4 600,639 600,639 598,639.4 596,639.5 594,639.4 592,639 592,639 590,638.4 588,637.8 586,636.9 584,636 584,636 582,634.9 580,633.8 578,632.4 576,631 576,631 574,629.5 572,628 570,626.5 568,625 568,625 565.9,623.6 563.8,622.2 561.4,621.1 559,620 559,620 556.5,619.1 554,618.5 551.5,618.1 549,618 549,618 546.5,618.1 544,618.5 541.5,619.1 539,620 539,620 536.5,621.1 534,622.2 531.5,623.6 529,625 529,625 526.5,626.5 524,628 521.5,629.5 519,631 519,631 516.5,632.5 514,634 511.5,635.5 509,637 509,637 506.5,638.5 504,639.9 501.5,641.2 499,642.5 499,642.5 496.5,643.6 494,644.5 491.5,645.1 489,645.5 489,645.5 486.5,645.7 484,645.6 481.5,645.4 479,645 479,645 476.9,644.4 475.5,643.8 474.9,642.9 475,642"/>
<polygon fill="#d9effb" points="592,588 591.7,586.1 591.8,584.4 592.2,582.8 593,581.5 593,581.5 594.1,580.4 595.4,579.5 596.8,578.9 598.5,578.5 598.5,578.5 600.2,578.4 601.9,578.6 603.5,579.2 605,580 605,580 606.3,581.1 607.1,582.4 607.5,583.8 607.5,585.5 607.5,585.5 607.1,587.2 606.2,588.8 605.1,590.2 603.5,591.5 603.5,591.5 601.8,592.5 600,593.1 598.2,593.3 596.5,593 596.5,593 594.9,592.3 593.6,591.2 592.7,589.8 592,588"/>
<polygon fill="#6fb2e2" points="622,502 617,504 614.6,505.1 612.2,506.2 610.1,507.6 608,509 608,509 606.1,510.6 604.2,512.2 602.6,514.1 601,516 601,516 599.6,518.1 598.4,520.2 597.3,522.6 596.5,525 596.5,525 595.9,527.5 595.5,530 595.4,532.5 595.5,535 595.5,535 595.8,537.4 596.4,539.8 597.1,541.9 598,544 598,544 599.1,545.9 600.2,547.8 601.6,549.4 603,551 603,551 604.5,552.5 606,554 607.5,555.5 609,557 609,557 610.6,558.4 612.5,559.8 614.6,560.9 617,562 622,564"/>
<polygon fill="#468dc3" points="622,526 618,527 616.1,527.6 614.2,528.5 612.6,529.6 611,531 611,531 609.7,532.6 608.8,534.5 608.2,536.6 608,539 608,539 608.1,541.4 608.5,543.8 609.1,545.9 610,548 610,548 611.2,549.9 612.8,551.5 614.7,552.9 617,554 622,556"/>
<polygon fill="#6fb2e2" points="580,652 582,647 583.1,644.7 584.5,642.8 586.1,641.2 588,640 588,640 590,639.2 592,638.6 594,638.4 596,638.5 596,638.5 598,638.6 600,638.5 602,638.1 604,637.5 604,637.5 606,636.7 608,635.9 610,635 612,634 612,634 613.9,633 615.8,632.1 617.4,631.3 619,630.5 622,629 622,652"/>
<polygon fill="#ffffff" points="534,490.7 533.7,489.8 533.6,488.9 533.9,488 534.5,487 534.5,487 535.3,486.2 536.1,485.8 537,485.7 538,486 538,486 538.8,486.6 539.4,487.2 539.6,488.1 539.5,489 539.5,489 539.2,489.9 538.6,490.7 537.9,491.3 537,491.7 537,491.7 536.1,491.9 535.2,491.8 534.6,491.4 534,490.7"/>
<polygon fill="#ffffff" points="538,652 541,647.5 542.6,645.4 544.2,643.6 546.1,642.2 548,641 548,641 549.9,640.1 551.8,639.4 553.4,638.8 555,638.5 555,638.5 556.4,638.5 557.5,638.9 558.4,639.7 559,641 559,641 559.4,642.6 559.5,644.2 559.4,646.1 559,648 558,652"/>
<polygon fill="#ffffff" points="223.8,139.4 224.5,137.9 225.3,136.4 226.3,135 227.5,133.8 227.5,133.8 228.8,132.7 230.3,132 232,131.8 233.8,131.9 233.8,131.9 235.6,132.3 237.3,133.1 239,134.2 240.6,135.6 240.6,135.6 242.1,137.2 243.3,138.9 244.3,140.7 245,142.5 245,142.5 245.5,144.4 245.6,146.4 245.5,148.5 245,150.6 245,150.6 244.3,152.8 243.3,155 242.1,157.2 240.6,159.4 240.6,159.4 239,161.6 237.3,163.8 235.6,165.9 233.8,168.1 233.8,168.1 231.9,170.3 230.2,172.3 228.5,174.3 226.9,176.2 226.9,176.2 225.4,178.1 223.9,180 222.5,181.9 221.2,183.8 221.2,183.8 220,185.5 218.8,187.2 217.5,188.7 216.2,190 216.2,190 215,191 213.9,191.6 212.9,191.6 211.9,191.2 211.9,191.2 211.1,190.4 210.5,189.1 210.1,187.3 210,185 210,185 210.1,182.5 210.3,180 210.7,177.5 211.2,175 211.2,175 211.9,172.5 212.7,170 213.5,167.5 214.4,165 214.4,165 215.3,162.5 216.2,160 217.2,157.5 218.1,155 218.1,155 219,152.6 219.8,150.3 220.6,148.2 221.2,146.2 221.2,146.2 221.9,144.4 222.5,142.7 223.1,141 223.8,139.4"/>
<polygon fill="#ffffff" points="202.5,207.5 202.8,203.1 203.8,199.8 205.3,197.8 207.5,196.9 207.5,196.9 209.8,196.9 211.6,197.5 212.9,198.8 213.8,200.6 213.8,200.6 214.4,202.8 215.1,204.8 215.8,206.8 216.5,208.8 216.5,208.8 217.2,210.6 217.8,212.5 218.3,214.4 218.8,216.2 218.8,216.2 219,218.2 219.1,220.3 218.9,222.6 218.5,225 218.5,225 217.9,227.4 217.1,229.7 216.2,231.8 215,233.8 215,233.8 213.6,235.5 211.9,236.9 209.8,238 207.5,238.8 207.5,238.8 205.3,238.7 203.8,237.2 202.8,234.3 202.5,230"/>
<polygon fill="#ffffff" points="374.1,318.9 374.2,318 374.4,317.3 374.7,316.8 375.1,316.4 375.1,316.4 375.5,316.2 375.9,316.4 376.2,316.8 376.5,317.6 376.5,317.6 376.7,318.6 376.7,319.5 376.5,320.4 376.2,321.4 376.2,321.4 375.9,322.1 375.5,322.5 375.1,322.4 374.8,322 374.8,322 374.4,321.3 374.2,320.6 374.1,319.8 374.1,318.9"/>
<polygon fill="#ffffff" points="637.5,414.5 636.6,413.2 636.2,411.8 636.6,410.4 637.5,408.9 637.5,408.9 638.9,407.5 640.6,406.4 642.7,405.6 645,405.1 645,405.1 647.5,404.9 650,405 652.5,405.2 655,405.8 655,405.8 657.3,406.5 659.2,407.5 660.7,408.7 661.9,410.1 661.9,410.1 662.5,411.6 662.5,413.1 661.9,414.5 660.6,415.8 660.6,415.8 659,416.9 657.3,417.8 655.6,418.4 653.8,418.9 653.8,418.9 651.8,419.1 649.7,419 647.4,418.8 645,418.2 645,418.2 642.7,417.5 640.6,416.7 638.9,415.7 637.5,414.5"/>
<polygon fill="#ffffff" points="533.2,492 532.8,490.7 532.7,489.3 532.9,487.9 533.5,486.4 533.5,486.4 534.3,485 535.2,484.2 536.2,483.8 537.2,483.9 537.2,483.9 538.2,484.3 538.8,485.1 539.1,486.2 539.1,487.6 539.1,487.6 538.8,489.1 538.3,490.4 537.6,491.6 536.6,492.6 536.6,492.6 535.6,493.3 534.7,493.4 533.9,493 533.2,492"/>
<polygon fill="#ffffff" points="333.8,611.1 333.4,609.6 333.8,608.3 334.7,607.1 336.2,606.1 336.2,606.1 338.2,605.3 340.3,604.9 342.6,604.7 345,604.9 345,604.9 347.3,605.3 349.2,606 350.7,606.9 351.9,608 351.9,608 352.6,609.3 352.8,610.7 352.6,612.1 351.9,613.6 351.9,613.6 350.8,615 349.5,616.1 348,616.9 346.2,617.4 346.2,617.4 344.4,617.5 342.5,617.4 340.6,616.9 338.8,616.1 338.8,616.1 337,615.1 335.6,613.9 334.5,612.6 333.8,611.1"/>
<polygon fill="#ffffff" points="515,674.2 514.1,672.4 513.9,670.5 514.4,668.6 515.6,666.8 515.6,666.8 517.3,664.9 519.1,663 521,661.1 523.1,659.2 523.1,659.2 525.4,657.4 527.7,655.5 530,653.6 532.5,651.8 532.5,651.8 535,649.9 537.5,648 540,646.1 542.5,644.2 542.5,644.2 545,642.5 547.3,641.1 549.6,640 551.9,639.2 551.9,639.2 553.9,638.9 555.6,639.1 557,639.8 558.1,641.1 558.1,641.1 558.8,642.8 558.9,644.6 558.5,646.5 557.5,648.6 557.5,648.6 556.2,650.9 554.7,653.2 553,655.5 551.2,658 551.2,658 549.5,660.5 547.8,663 546.3,665.5 545,668 545,668 543.8,670.4 542.5,672.7 541.2,674.8 540,676.8 540,676.8 538.6,678.4 536.9,679.7 534.8,680.6 532.5,681.1 532.5,681.1 530,681.3 527.5,681.1 525,680.7 522.5,679.9 522.5,679.9 520.2,678.8 518.1,677.5 516.4,676 515,674.2"/>
<polygon fill="#dfeabe" points="232.5,343.9 232.1,342.4 232.3,341.2 233.1,340.1 234.4,339.2 234.4,339.2 236,338.6 237.7,338.2 239.4,338 241.2,338 241.2,338 243,338.3 244.7,338.8 246.2,339.6 247.5,340.8 247.5,340.8 248.7,342.1 249.8,343.7 250.7,345.6 251.5,347.6 251.5,347.6 252.2,349.9 252.6,352.2 252.9,354.5 253,357 253,357 252.9,359.3 252.8,361.3 252.5,363 252.1,364.2 252.1,364.2 251.6,365.1 250.8,365.2 249.9,364.7 248.8,363.6 248.8,363.6 247.5,362.2 246.1,360.7 244.6,359.2 243.1,357.6 243.1,357.6 241.6,356 240,354.3 238.4,352.6 236.9,350.8 236.9,350.8 235.4,348.9 234.2,347.2 233.2,345.5 232.5,343.9"/>
<polygon fill="#dfeabe" points="240.6,318.5 240.5,317.8 240.6,317.3 241.1,316.9 241.9,316.6 241.9,316.6 242.8,316.5 243.8,316.5 244.7,316.7 245.6,317 245.6,317 246.4,317.4 246.7,317.9 246.7,318.4 246.2,319 246.2,319 245.6,319.5 244.8,319.9 244,320.1 243.1,320.1 243.1,320.1 242.3,320 241.6,319.7 241,319.2 240.6,318.5"/>
<polygon fill="#dfeabe" points="757.5,297.5 761.2,288.8 763.2,284.5 765.3,280.3 767.6,276.3 770,272.5 770,272.5 772.5,268.8 775,265.3 777.5,262 780,258.8 780,258.8 782.5,255.6 785,252.5 787.5,249.4 790,246.2 790,246.2 792.5,243.3 795,240.6 797.5,238.3 800,236.2 800,236.2 802.5,234.5 805,233.1 807.5,232 810,231.2 810,231.2 812.5,230.8 815,230.8 817.5,231.1 820,231.9 820,231.9 822.5,233 825,234.4 827.5,236.1 830,238.1 830,238.1 832.5,240.3 835,242.3 837.5,244.3 840,246.2 840,246.2 842.5,248 845,249.7 847.5,251.2 850,252.5 850,252.5 852.5,253.6 855,254.5 857.5,255.2 860,255.6 860,255.6 862.4,255.8 864.7,255.6 866.8,255.2 868.8,254.4 868.8,254.4 870.6,253.2 872.3,251.7 874,249.8 875.6,247.5 875.6,247.5 877.1,244.9 878.6,242.2 880,239.3 881.2,236.2 881.2,236.2 882.5,233.1 883.6,230 884.6,226.9 885.6,223.8 885.6,223.8 886.5,220.8 887.3,218.3 888.1,216.1 888.8,214.4 888.8,214.4 889.5,213 890.6,211.9 892,211.1 893.8,210.6 893.8,210.6 895.4,211 896.6,212.7 897.3,215.7 897.5,220 897.5,297.5"/>
<polygon fill="#dfeabe" points="757.5,289.5 755,294.5 753.7,296.9 752.2,299.2 750.5,301.3 748.8,303.2 748.8,303.2 747,305.1 745.6,307 744.5,308.9 743.8,310.8 743.8,310.8 743.3,312.7 743.3,314.8 743.6,317.1 744.4,319.5 744.4,319.5 745.3,322.1 746.2,324.8 747.2,327.7 748.1,330.8 748.1,330.8 749.2,333.9 750.5,337 752,340.1 753.8,343.2 753.8,343.2 755.7,346.3 757.8,349.3 760.1,352.3 762.5,355.1 762.5,355.1 765,357.8 767.7,360.3 770.4,362.5 773.1,364.5 773.1,364.5 775.9,366.2 778.8,367.7 781.6,368.9 784.4,369.9 784.4,369.9 787.1,370.4 789.8,370.5 792.5,370.1 795,369.2 795,369.2 797.6,368 800.3,366.6 803.2,365 806.2,363.2 806.2,363.2 809.4,361.3 812.5,359.2 815.6,356.9 818.8,354.5 818.8,354.5 821.8,352.2 824.7,350.3 827.4,348.8 830,347.6 830,347.6 832.5,346.8 835,346.4 837.5,346.2 840,346.4 840,346.4 842.4,346.5 844.7,346.1 846.8,345.2 848.8,343.9 848.8,343.9 850.5,342.3 852.2,340.8 853.7,339.2 855,337.6 855,337.6 856.3,336.3 857.8,335.4 859.5,335 861.2,335.1 861.2,335.1 863.2,335.6 865.3,336.5 867.6,337.8 870,339.5 870,339.5 872.5,341.3 875,342.9 877.5,344.4 880,345.8 880,345.8 882.6,346.9 885.3,347.9 888.2,348.8 891.2,349.5 891.2,349.5 894,349.4 895.9,347.9 897.1,345 897.5,340.8 897.5,289.5"/>
<polygon fill="#dfeabe" points="847.5,509.5 850,503.2 851.4,500.3 853.1,497.8 855.2,495.6 857.5,493.9 857.5,493.9 859.9,492.5 862.2,491.4 864.3,490.6 866.2,490.1 866.2,490.1 868.1,490 870,490.3 871.9,490.9 873.8,492 873.8,492 875.6,493.6 877.3,495.8 879,498.6 880.6,502 883.8,509.5"/>
<polygon fill="#dfeabe" points="752.5,605.5 749.4,608 747.9,609.3 746.6,610.8 745.4,612.5 744.4,614.2 744.4,614.2 743.6,616.1 743.3,617.8 743.3,619.5 743.8,621.1 743.8,621.1 744.5,622.6 745.6,623.8 747,624.8 748.8,625.5 752.5,626.8"/>
<polygon fill="#dfeabe" points="752.5,658 748.1,661.8 746.1,663.7 744.3,665.8 742.8,668.1 741.6,670.5 741.6,670.5 740.8,673 740.2,675.7 740.1,678.4 740.4,681.1 740.4,681.1 740.9,683.8 741.7,686.1 742.6,688 743.8,689.6 743.8,689.6 745,690.9 746.4,692 747.9,692.8 749.4,693.4 752.5,694.2"/>
<polygon fill="#dfeabe" points="687.5,723 691.2,717.4 693.2,714.8 695.3,712.7 697.6,711 700,709.9 700,709.9 702.5,709 705,708.3 707.5,707.8 710,707.4 710,707.4 712.4,707.2 714.5,707.4 716.4,707.8 718.1,708.6 718.1,708.6 719.6,709.8 720.9,711.6 722.1,713.9 723.1,716.8 725,723"/>
<polygon fill="#6fb2e2" points="202.5,643.5 202.9,638.9 204.1,635.1 206,632 208.8,629.8 208.8,629.8 211.9,628 215,626.3 218.1,624.8 221.2,623.5 221.2,623.5 224.4,622.3 227.5,621.3 230.6,620.5 233.8,619.8 233.8,619.8 236.9,619.2 240,618.7 243.1,618.2 246.2,617.9 246.2,617.9 249.4,617.7 252.5,617.9 255.6,618.3 258.8,619.1 258.8,619.1 262,620.1 265.3,621 268.8,621.9 272.5,622.9 272.5,622.9 276.2,623.7 280,624.4 283.8,625 287.5,625.4 287.5,625.4 291.2,625.7 294.7,626.2 298,626.7 301.2,627.2 301.2,627.2 304.3,628.1 307.1,629.3 309.8,630.9 312.2,632.9 312.2,632.9 314.4,635.1 316.3,637.6 317.8,640.1 318.9,642.9 318.9,642.9 319.8,645.6 320.8,648 321.7,650.3 322.6,652.2 322.6,652.2 323.7,654.1 325,656 326.5,657.9 328.2,659.8 328.2,659.8 330.2,661.4 332.3,662.7 334.6,663.6 337,664.1 337,664.1 339.7,664.4 342.6,664.4 345.9,664.4 349.5,664.1 349.5,664.1 353.2,663.9 357,663.8 360.8,663.9 364.5,664.1 364.5,664.1 368.2,664.5 372,664.9 375.8,665.4 379.5,666 379.5,666 383.2,666.7 387,667.7 390.8,668.9 394.5,670.4 394.5,670.4 398.2,672 401.7,673.7 405,675.4 408.2,677.2 408.2,677.2 411.4,679.2 414.5,681.2 417.6,683.2 420.8,685.4 420.8,685.4 423.9,687.5 427,689.6 430.1,691.6 433.2,693.5 433.2,693.5 436.4,695.3 439.5,697.1 442.6,698.8 445.8,700.4 445.8,700.4 449,702.1 452.3,704 455.8,706.1 459.5,708.5 459.5,708.5 463,711.1 466.1,713.8 468.8,716.6 471,719.5 475,725.5 202.5,725.5"/>
<polygon fill="#468dc3" points="202.5,646.8 202.9,642.1 204.1,638.3 206,635.3 208.8,633 208.8,633 211.9,631.2 215,629.6 218.1,628.1 221.2,626.8 221.2,626.8 224.4,625.6 227.5,624.6 230.6,623.7 233.8,623 233.8,623 236.9,622.4 240,621.9 243.1,621.5 246.2,621.1 246.2,621.1 249.4,621 252.5,621.1 255.6,621.6 258.8,622.4 258.8,622.4 262,623.3 265.3,624.2 268.8,625.2 272.5,626.1 272.5,626.1 276.2,627 280,627.7 283.8,628.2 287.5,628.6 287.5,628.6 291.2,629 294.7,629.4 298,629.9 301.2,630.5 301.2,630.5 304.2,631.3 307,632.5 309.5,634.1 311.8,636.1 311.8,636.1 313.7,638.4 315.4,640.8 316.8,643.4 317.9,646.1 317.9,646.1 318.8,648.8 319.8,651.3 320.7,653.5 321.6,655.5 321.6,655.5 322.7,657.4 324,659.2 325.5,661.1 327.2,663 327.2,663 329.2,664.7 331.3,666 333.6,666.9 336,667.4 336,667.4 338.7,667.6 341.6,667.7 344.9,667.6 348.5,667.4 348.5,667.4 352.2,667.1 356,667.1 359.8,667.1 363.5,667.4 363.5,667.4 367.2,667.7 371,668.2 374.8,668.7 378.5,669.2 378.5,669.2 382.2,670 386,671 389.8,672.2 393.5,673.6 393.5,673.6 397.2,675.2 400.7,676.9 404,678.7 407.2,680.5 407.2,680.5 410.4,682.4 413.5,684.4 416.6,686.5 419.8,688.6 419.8,688.6 422.9,690.8 426,692.8 429.1,694.8 432.2,696.8 432.2,696.8 435.4,698.6 438.5,700.3 441.6,702 444.8,703.6 444.8,703.6 448,705.3 451.3,707.2 454.8,709.4 458.5,711.8 458.5,711.8 462.1,714.2 465.2,716.6 468.1,718.9 470.5,721.1 475,725.5 202.5,725.5"/>
<polygon fill="#dfeabe" points="202.5,650.5 202.9,645.9 204.1,642.1 206,639 208.8,636.8 208.8,636.8 211.9,635 215,633.3 218.1,631.8 221.2,630.5 221.2,630.5 224.4,629.3 227.5,628.3 230.6,627.5 233.8,626.8 233.8,626.8 236.9,626.2 240,625.7 243.1,625.2 246.2,624.9 246.2,624.9 249.4,624.7 252.5,624.9 255.6,625.3 258.8,626.1 258.8,626.1 262,627.1 265.3,628 268.8,628.9 272.5,629.9 272.5,629.9 276.2,630.7 280,631.4 283.8,632 287.5,632.4 287.5,632.4 291.2,632.7 294.7,633.2 298,633.7 301.2,634.2 301.2,634.2 304.2,635.1 306.9,636.3 309.2,637.9 311.2,639.9 311.2,639.9 313,642.1 314.5,644.6 315.8,647.1 316.9,649.9 316.9,649.9 317.8,652.6 318.8,655 319.7,657.3 320.6,659.2 320.6,659.2 321.7,661.1 323,663 324.5,664.9 326.2,666.8 326.2,666.8 328.2,668.4 330.3,669.7 332.6,670.6 335,671.1 335,671.1 337.7,671.4 340.6,671.4 343.9,671.4 347.5,671.1 347.5,671.1 351.2,670.9 355,670.8 358.8,670.9 362.5,671.1 362.5,671.1 366.2,671.5 370,671.9 373.8,672.4 377.5,673 377.5,673 381.2,673.7 385,674.7 388.8,675.9 392.5,677.4 392.5,677.4 396.2,679 399.7,680.7 403,682.4 406.2,684.2 406.2,684.2 409.4,686.2 412.5,688.2 415.6,690.2 418.8,692.4 418.8,692.4 421.9,694.5 425,696.6 428.1,698.6 431.2,700.5 431.2,700.5 434.4,702.3 437.5,704.1 440.6,705.8 443.8,707.4 443.8,707.4 447,709.1 450.3,711 453.8,713.1 457.5,715.5 465,720.5 475,725.5 202.5,725.5"/>
<polygon fill="#bfd97c" points="202.5,658 202.9,653.4 204.1,649.6 206,646.5 208.8,644.2 208.8,644.2 211.9,642.4 215,640.7 218.1,639 221.2,637.4 221.2,637.4 224.4,635.9 227.5,634.7 230.6,633.7 233.8,633 233.8,633 237,632.4 240.3,631.9 243.8,631.5 247.5,631.1 247.5,631.1 251.2,631 255,631.1 258.8,631.6 262.5,632.4 262.5,632.4 266.2,633.3 270,634.2 273.8,635.2 277.5,636.1 277.5,636.1 281.2,637 285,637.7 288.8,638.2 292.5,638.6 292.5,638.6 296.1,639 299.4,639.6 302.3,640.3 305,641.1 305,641.1 307.3,642.3 309.4,643.8 311.1,645.7 312.5,648 312.5,648 313.7,650.5 314.7,653 315.5,655.5 316.2,658 316.2,658 316.9,660.4 317.5,662.7 318.1,664.8 318.8,666.8 318.8,666.8 319.2,668.7 319.2,670.8 318.9,673.1 318.1,675.5 318.1,675.5 317.1,678 315.9,680.5 314.6,683 313.1,685.5 313.1,685.5 311.4,688 309.5,690.5 307.4,693 305,695.5 305,695.5 302.4,697.9 299.7,700.2 296.8,702.3 293.8,704.2 293.8,704.2 290.5,706 287.2,707.7 283.7,709.2 280,710.5 280,710.5 276.2,711.7 272.5,712.7 268.8,713.5 265,714.2 265,714.2 261.3,714.6 257.8,714.6 254.5,714 251.2,713 251.2,713 248.3,711.6 245.6,709.9 243.3,707.8 241.2,705.5 241.2,705.5 239.4,702.9 237.5,700.2 235.6,697.3 233.8,694.2 233.8,694.2 231.8,691.3 229.7,688.6 227.4,686.3 225,684.2 225,684.2 222.5,682.5 220,681.1 217.5,680 215,679.2 215,679.2 212.6,678.7 210.3,678.3 208.2,678.1 206.2,678 206.2,678 204.6,677.4 203.4,675.5 202.7,672.4 202.5,668"/>
<polygon fill="#bfd97c" points="320,725.5 325.5,714.4 327.8,710.1 330.1,706.2 332.5,702.5 335,699.2 335,699.2 337.5,696.2 340,693.3 342.5,690.6 345,688 345,688 347.6,685.7 350.3,683.6 353.2,681.9 356.2,680.5 356.2,680.5 359.4,679.4 362.5,678.6 365.6,678 368.8,677.8 368.8,677.8 371.9,677.7 375,677.8 378.1,678 381.2,678.4 381.2,678.4 384.4,679 387.5,679.8 390.6,681 393.8,682.4 393.8,682.4 396.9,684 400,685.8 403.1,687.8 406.2,689.9 406.2,689.9 409.3,692.1 412.2,694.2 414.9,696.4 417.5,698.6 417.5,698.6 420,700.8 422.5,703 425,705.2 427.5,707.4 427.5,707.4 430,709.7 432.5,712.4 435,715.3 437.5,718.6 442.5,725.5"/>
<polygon fill="#c0e17e" points="233.8,664.2 233.5,661.3 234.1,658.6 235.4,656.3 237.5,654.2 237.5,654.2 240.1,652.5 242.8,650.8 245.7,649.3 248.8,648 248.8,648 252,646.9 255.3,646 258.8,645.3 262.5,644.9 262.5,644.9 266.2,644.7 270,644.9 273.8,645.3 277.5,646.1 277.5,646.1 281.2,647.1 285,648 288.8,648.9 292.5,649.9 292.5,649.9 296,650.9 299.1,652.1 301.6,653.4 303.8,654.9 303.8,654.9 305.5,656.6 306.9,658.5 308,660.6 308.8,663 308.8,663 309.2,665.6 309.4,668.3 309.2,671.2 308.8,674.2 308.8,674.2 308,677.3 306.9,680.2 305.5,682.9 303.8,685.5 303.8,685.5 301.8,688 299.7,690.3 297.4,692.6 295,694.9 295,694.9 292.3,696.9 289.4,698.8 286.1,700.4 282.5,701.8 282.5,701.8 278.8,702.8 275,703.5 271.2,703.7 267.5,703.6 267.5,703.6 263.8,703.1 260.3,702.2 257,700.9 253.8,699.2 253.8,699.2 250.8,697.2 248.1,694.9 245.8,692.2 243.8,689.2 243.8,689.2 242,686.1 240.3,683 238.8,679.9 237.5,676.8 237.5,676.8 236.3,673.6 235.3,670.5 234.5,667.4 233.8,664.2"/>
<polygon fill="#8fce55" points="255,680.5 254.6,679.2 254.7,677.7 255.2,676 256.2,674.2 256.2,674.2 257.6,672.5 259.1,671 260.7,669.7 262.5,668.6 262.5,668.6 264.4,668 266.4,667.8 268.5,668.3 270.6,669.2 270.6,669.2 272.8,670.6 274.8,672.1 276.8,673.7 278.8,675.5 278.8,675.5 280.6,677.4 282.3,679.2 284,681.1 285.6,683 285.6,683 287,684.8 287.8,686.6 288.2,688.3 288.1,689.9 288.1,689.9 287.6,691.3 286.7,692.5 285.4,693.5 283.8,694.2 283.8,694.2 281.8,694.8 279.8,695 277.8,695.1 275.6,694.9 275.6,694.9 273.4,694.4 271.2,693.6 269.1,692.5 266.9,691.1 266.9,691.1 264.8,689.6 262.8,688.2 261,686.8 259.4,685.5 259.4,685.5 257.9,684.2 256.7,683 255.7,681.8 255,680.5"/>
<polygon fill="#dfeabe" points="897.5,503 894.5,501 883.5,492.8 870,490 856.2,494 845.5,501 831.8,506.5 825,510.5 821.6,512.6 818.3,514.8 814.9,517.2 811.6,519.8 811.6,519.8 808.4,522.2 805.4,524.4 802.6,526.2 800,527.8 800,527.8 797.5,529.3 795,531.4 792.5,533.8 790,536.8 790,536.8 787.6,539.9 785.3,543 783.2,546.1 781.2,549.2 781.2,549.2 779.5,552.4 778.1,555.5 777,558.6 776.2,561.8 776.2,561.8 775.5,564.8 774.4,567.7 773,570.4 771.2,573 771.2,573 769.3,575.5 767.2,578 764.9,580.5 762.5,583 762.5,583 760.1,585.6 757.8,588.3 755.7,591.2 753.8,594.2 753.8,594.2 752,597.3 750.3,600.2 748.8,602.9 747.5,605.5 747.5,605.5 746.3,608 745.3,610.3 744.5,612.6 743.8,614.9 743.8,614.9 743.4,617 743.8,618.9 744.7,620.7 746.2,622.4 746.2,622.4 748.1,624 749.8,625.7 751.5,627.4 753.1,629.2 753.1,629.2 754.5,631.2 755.6,633.3 756.4,635.6 756.9,638 756.9,638 757,640.5 756.7,643 756.1,645.5 755,648 755,648 753.7,650.5 752.2,653 750.5,655.5 748.8,658 748.8,658 747,660.5 745.3,662.8 743.8,665.1 742.5,667.4 742.5,667.4 741.4,669.6 740.8,672.1 740.5,674.6 740.6,677.4 740.6,677.4 741,680.1 741.6,682.8 742.3,685.5 743.1,688 743.1,688 744.3,690.3 746.1,692.1 748.4,693.4 751.2,694.2 751.2,694.2 754.4,694.8 757.5,695 760.6,695.1 763.8,694.9 763.8,694.9 766.9,694.5 770,693.9 773.1,693.2 776.2,692.4 776.2,692.4 779.4,691.4 782.5,690.5 785.6,689.6 788.8,688.6 788.8,688.6 792,687.7 795.3,686.9 798.8,686.2 802.5,685.5 802.5,685.5 806.2,684.9 810,684.2 813.8,683.6 817.5,683 817.5,683 821.2,682.4 824.7,681.9 828,681.5 831.2,681.1 831.2,681.1 834.3,680.8 837.2,680.5 839.9,680.2 842.5,679.9 842.5,679.9 844.6,679.9 845.8,680.5 846.1,681.8 845.6,683.6 845.6,683.6 844.7,685.9 843.8,688.2 842.8,690.5 841.9,693 841.9,693 841,695.5 840.2,698 839.4,700.5 838.8,703 838.8,703 838.2,705.7 837.7,708.6 837.2,711.9 836.9,715.5 836.2,723 897.5,723"/>
<polygon fill="#bfd97c" points="897.5,569.2 897.1,565 895.9,562.4 894,561.3 891.2,561.8 891.2,561.8 888.1,563 885,564.4 881.9,565.9 878.8,567.4 878.8,567.4 875.6,569 872.5,570.7 869.4,572.4 866.2,574.2 866.2,574.2 863.1,576.1 860,578 856.9,579.9 853.8,581.8 853.8,581.8 850.6,583.6 847.5,585.5 844.4,587.4 841.2,589.2 841.2,589.2 838.1,591.1 835,593 831.9,594.9 828.8,596.8 828.8,596.8 825.7,598.6 822.8,600.5 820.1,602.4 817.5,604.2 817.5,604.2 815,606.1 812.5,608 810,609.9 807.5,611.8 807.5,611.8 805.1,613.7 802.8,615.8 800.7,618.1 798.8,620.5 798.8,620.5 797,623 795.3,625.5 793.8,628 792.5,630.5 792.5,630.5 791.2,633 790,635.5 788.8,638 787.5,640.5 787.5,640.5 786.3,643.1 785.2,645.8 784.1,648.7 783.1,651.8 783.1,651.8 782.3,654.8 781.6,657.7 781,660.4 780.6,663 780.6,663 780.5,665.5 780.8,668 781.4,670.5 782.5,673 782.5,673 783.9,675.3 785.6,677.2 787.7,678.7 790,679.9 790,679.9 792.7,680.7 795.6,681.1 798.9,681.3 802.5,681.1 802.5,681.1 806.2,680.8 810,680.3 813.8,679.8 817.5,679.2 817.5,679.2 821.2,678.6 824.7,678 828,677.4 831.2,676.8 831.2,676.8 834.2,676 836.9,674.9 839.2,673.5 841.2,671.8 841.2,671.8 843.2,669.8 845.3,667.7 847.6,665.4 850,663 850,663 852.5,660.5 855,658 857.5,655.5 860,653 860,653 862.5,650.7 865,648.6 867.5,646.9 870,645.5 870,645.5 872.5,644.3 875,643.3 877.5,642.5 880,641.8 880,641.8 882.6,641.2 885.3,641 888.2,640.9 891.2,641.1 891.2,641.1 894,640.8 895.9,639.1 897.1,636.1 897.5,631.8"/>
<polygon fill="#bfd97c" points="852.5,723 853.8,715.5 854.5,711.8 855.3,708 856.3,704.2 857.5,700.5 857.5,700.5 858.8,696.8 860.3,693.3 862,690 863.8,686.8 863.8,686.8 865.7,683.7 867.8,680.8 870.1,678.1 872.5,675.5 872.5,675.5 875,673.2 877.5,671.1 880,669.4 882.5,668 882.5,668 885,666.9 887.5,666 890,665.3 892.5,664.9 892.5,664.9 894.7,665.2 896.2,666.9 897.2,669.9 897.5,674.2 897.5,723"/>
<polygon fill="#c0e17e" points="897.5,578 897,573.8 895.6,571.1 893.3,570 890,570.5 890,570.5 886.3,571.8 882.8,573.3 879.5,575 876.2,576.8 876.2,576.8 873.1,578.6 870,580.5 866.9,582.4 863.8,584.2 863.8,584.2 860.6,586.2 857.5,588.2 854.4,590.2 851.2,592.4 851.2,592.4 848.1,594.6 845,596.8 841.9,598.9 838.8,601.1 838.8,601.1 835.6,603.3 832.5,605.3 829.4,607.3 826.2,609.2 826.2,609.2 823.2,611.1 820.3,613 817.6,614.9 815,616.8 815,616.8 812.6,618.7 810.3,620.8 808.2,623.1 806.2,625.5 806.2,625.5 804.5,628 802.8,630.5 801.3,633 800,635.5 800,635.5 799,637.9 798.4,640.2 798.4,642.3 798.8,644.2 798.8,644.2 799.6,646 800.9,647.7 802.7,649.2 805,650.5 805,650.5 807.3,651.9 809.4,653.6 811.1,655.7 812.5,658 812.5,658 813.8,660.4 815,662.7 816.2,664.8 817.5,666.8 817.5,666.8 818.9,668.4 820.6,669.6 822.7,670.3 825,670.5 825,670.5 827.4,670.3 829.7,669.6 831.8,668.4 833.8,666.8 833.8,666.8 835.7,664.8 837.8,662.7 840.1,660.4 842.5,658 842.5,658 845,655.5 847.5,653.2 850,650.9 852.5,648.6 852.5,648.6 855,646.5 857.5,644.6 860,642.8 862.5,641.1 862.5,641.1 865,639.6 867.5,638.3 870,637.1 872.5,636.1 872.5,636.1 875,635.3 877.5,634.6 880,634 882.5,633.6 882.5,633.6 885,633.4 887.5,633.3 890,633.4 892.5,633.6 892.5,633.6 894.7,633.3 896.2,631.6 897.2,628.6 897.5,624.2"/>
<polygon fill="#8fce55" points="897.5,588 897.1,583.7 895.9,581 894,579.7 891.2,579.9 891.2,579.9 888.2,580.9 885.3,582.1 882.6,583.4 880,584.9 880,584.9 877.5,586.5 875,588.2 872.5,589.9 870,591.8 870,591.8 867.5,593.7 865,595.7 862.5,597.7 860,599.9 860,599.9 857.5,602.1 855,604.2 852.5,606.4 850,608.6 850,608.6 847.6,610.9 845.3,613.2 843.2,615.5 841.2,618 841.2,618 839.5,620.5 837.8,623 836.3,625.5 835,628 835,628 833.8,630.5 832.8,633 832,635.5 831.2,638 831.2,638 830.7,640.5 830.5,643 830.4,645.5 830.6,648 830.6,648 831,650.4 831.6,652.7 832.3,654.8 833.1,656.8 833.1,656.8 834.2,658.3 835.5,659.2 837,659.6 838.8,659.2 838.8,659.2 840.6,658.5 842.5,657.4 844.4,656 846.2,654.2 846.2,654.2 848.2,652.3 850.3,650.3 852.6,648.3 855,646.1 855,646.1 857.5,644 860,642.1 862.5,640.3 865,638.6 865,638.6 867.5,637.1 870,635.7 872.5,634.3 875,633 875,633 877.5,631.8 880,630.8 882.5,630 885,629.2 885,629.2 887.4,628.7 889.7,628.2 891.8,627.7 893.8,627.4 893.8,627.4 895.4,626.5 896.6,624.4 897.3,621.2 897.5,616.8"/>
<polygon fill="#6fad3b" points="897.5,603 897.2,599.3 896.2,596.9 894.7,595.9 892.5,596.1 892.5,596.1 890.1,597.1 887.8,598.3 885.7,599.6 883.8,601.1 883.8,601.1 881.9,602.7 880.2,604.2 878.5,605.8 876.9,607.4 876.9,607.4 875.5,608.9 874.4,610.3 873.6,611.7 873.1,613 873.1,613 873.1,614.1 873.6,615 874.6,615.7 876.2,616.1 876.2,616.1 878.1,616.3 880,616.3 881.9,616 883.8,615.5 883.8,615.5 885.7,614.9 887.8,614.2 890.1,613.6 892.5,613 892.5,613 894.7,611.9 896.2,609.9 897.2,606.9 897.5,603"/>
<polygon fill="#468dc3" points="892,693 897.5,691.8 897.5,720.5 891.2,720.5"/>
<polygon fill="#dfeabe" points="685,723 690,717.4 692.6,714.8 695.3,712.8 698.2,711.4 701.2,710.5 701.2,710.5 704.3,710 707.2,709.9 709.9,710 712.5,710.5 712.5,710.5 714.8,711.4 716.9,712.8 718.6,714.8 720,717.4 722.5,723"/>
</g>
<g clip-path="url(#mc)" fill="none" stroke="#000" stroke-width="1" shape-rendering="crispEdges">
<polyline points="206,198.5 210,195.5 214,198.5 212,202.5 209,205.5 211,210.5 218,209.5 222,208.5 226,207.5 230,208.5 231,200.5 234,192.5 238,189.5 245,190.5 249,192.5 254,194.5 260,192.5 266,193.5 267,189.5 268,185.5 270,178.5 272,173.5 275,169.5 276,164.5 280,160.5 282,156.5 284,151.5 286,146.5 290,142.5 295,141.5 300,139.5 305,140.5 310,142.5 314,143.5 318,146.5 321,148.5 329,146.5 330,142.5 330,138.5 335,136.5 340,133.5 345,132.5 350,131.5 353,134.5 356,136.5 360,137.5 364,136.5 368,135.5 372,136.5 377,133.5 380,129.5 383,125.5 388,124.5 392,120.5 400,121.5 406,118.5 409,110.5 406,104.5 409,99.5 408,94.5 405,90.5 401,84.5"/>
<polyline points="211,210.5 216,211.5 218,215.5 218,219.5 219,225.5 217,230.5 216,235.5 212,238.5 206,241.5"/>
<polyline points="206,194.5 211,191.5 215,195.5 214,198.5"/>
<polyline points="206,202.5 210,200.5 212,202.5"/>
<polyline points="209,205.5 210,209.5 215,212.5 218,209.5"/>
<polyline points="280,165.5 283,168.5 286,172.5 288,176.5 293,178.5 295,181.5 300,186.5 305,185.5 310,182.5 314,182.5 319,181.5 325,180.5 324,185.5 327,188.5 330,191.5 335,194.5 336,198.5 337,202.5 340,206.5 341,210.5 344,214.5 348,217.5 352,216.5 356,216.5 360,218.5 365,216.5 370,212.5 373,210.5 376,208.5 380,207.5 384,208.5 388,208.5 392,208.5 398,212.5 400,220.5 401,225.5 400,230.5 408,230.5 409,234.5 412,236.5 420,238.5 425,234.5 429,230.5 432,224.5 431,219.5 431,215.5 435,210.5 438,205.5 439,198.5 436,195.5 432,192.5 433,188.5 432,184.5 431,180.5 430,172.5 425,173.5 420,171.5 412,169.5 408,166.5 405,162.5 400,161.5 402,157.5 405,155.5 408,152.5 412,151.5 415,148.5 420,145.5 425,144.5 430,142.5 435,140.5 438,139.5"/>
<polyline points="330,138.5 331,145.5 335,151.5 335,156.5 332,160.5 334,164.5 336,168.5 341,169.5 345,169.5 350,169.5 355,169.5 360,168.5 362,169.5 362,164.5 364,160.5 364,155.5 362,150.5 368,145.5 372,141.5"/>
<polyline points="266,193.5 268,200.5 271,205.5 272,212.5 275,216.5 278,219.5 282,222.5 286,228.5 289,230.5 292,232.5 300,231.5 305,231.5 310,231.5 314,236.5 318,234.5 320,230.5 326,228.5 331,226.5 335,221.5 339,217.5 344,214.5"/>
<polyline points="409,105.5 412,110.5 415,114.5 418,118.5 421,122.5 421,128.5 423,131.5 426,134.5 431,134.5 435,134.5 439,139.5 442,142.5 446,143.5 450,144.5 454,146.5"/>
<polyline points="458,86.5 457,91.5 455,95.5 458,102.5 457,108.5 456,112.5 454,117.5 452,122.5 450,130.5 454,133.5 455,138.5 457,142.5 459,146.5 462,149.5 466,142.5 469,149.5"/>
<polyline points="458,86.5 462,89.5 465,94.5 471,95.5 475,99.5"/>
<polyline points="439,198.5 444,194.5 450,194.5 455,194.5 460,192.5 465,190.5 470,189.5 475,186.5"/>
<polyline points="400,230.5 398,236.5 394,240.5 390,242.5 388,250.5 391,252.5 394,255.5 395,260.5 391,262.5 389,266.5 385,268.5 379,270.5 378,278.5 374,280.5 369,281.5 365,282.5 360,282.5 355,283.5 350,286.5 342,289.5 340,292.5"/>
<polyline points="395,260.5 400,265.5 405,267.5 410,268.5 415,268.5 420,266.5 425,265.5 429,265.5 434,265.5 437,268.5 440,271.5 442,276.5 446,279.5 450,282.5 455,282.5 460,288.5 465,292.5"/>
<polyline points="206,268.5 212,265.5 218,264.5 220,271.5 228,274.5 235,272.5 238,280.5 245,278.5 251,274.5 254,280.5 256,285.5 259,292.5"/>
<polyline points="378,278.5 375,282.5 375,288.5 372,292.5"/>
<polyline points="475,99.5 481,98.5 486,100.5 491,101.5 496,102.5 500,104.5 504,111.5 501,119.5 497,121.5 492,122.5 489,124.5 485,126.5 480,129.5 475,130.5"/>
<polyline points="558,84.5 561,90.5 566,91.5 567,96.5 565,100.5 560,101.5 555,101.5 550,105.5 545,108.5 540,112.5 536,114.5 531,115.5 526,116.5 520,118.5 519,124.5 524,129.5 525,133.5 529,135.5 534,138.5 529,142.5 525,145.5 522,148.5 521,151.5 517,152.5 512,154.5 507,155.5 502,158.5 500,162.5 499,166.5 497,171.5 494,175.5 489,179.5 486,184.5 480,185.5 475,188.5"/>
<polyline points="499,166.5 501,172.5 505,176.5 500,179.5 500,183.5 502,188.5 506,190.5 510,194.5 516,195.5 521,199.5 529,196.5 535,195.5 539,195.5 543,195.5 548,196.5 551,199.5 555,201.5 560,204.5 564,205.5 566,200.5 572,196.5 580,194.5 585,194.5 589,196.5 592,190.5 598,188.5 599,180.5 595,178.5 592,174.5 589,168.5 586,160.5 590,158.5 595,159.5 600,157.5 605,158.5 609,156.5 614,156.5 615,154.5 619,151.5 625,150.5 629,146.5"/>
<polyline points="581,84.5 585,87.5 585,91.5 589,94.5 592,98.5 598,100.5 602,104.5 607,105.5 611,106.5 616,106.5 620,109.5 625,109.5 632,110.5 631,114.5 627,115.5 622,118.5 621,121.5 618,124.5 619,128.5 619,132.5 621,136.5 622,140.5 626,143.5 629,146.5 635,144.5 640,149.5 645,151.5 648,155.5 650,158.5 654,160.5 652,164.5 648,162.5 642,162.5 639,168.5 638,172.5 638,176.5 640,179.5 642,182.5 646,186.5 646,190.5 650,195.5 656,194.5 661,196.5 665,200.5 661,205.5 665,207.5 668,210.5 670,216.5 672,222.5"/>
<polyline points="632,110.5 638,104.5 635,99.5 641,98.5 646,96.5 651,96.5 655,94.5 661,91.5 657,90.5 655,86.5 654,84.5"/>
<polyline points="642,118.5 645,114.5 650,112.5 655,111.5 659,106.5 661,111.5 657,114.5 654,118.5 651,121.5 648,122.5 642,121.5 642,118.5"/>
<polyline points="661,91.5 667,92.5 672,92.5 678,92.5 682,95.5 682,100.5 681,105.5 684,111.5 688,112.5 692,110.5 697,109.5 700,106.5 704,101.5 705,95.5 700,91.5 695,91.5 694,84.5"/>
<polyline points="708,138.5 706,130.5 701,129.5 695,129.5 689,129.5 684,128.5 680,130.5 677,133.5 672,134.5 668,135.5 664,138.5 660,140.5 655,142.5 650,145.5 646,147.5 641,148.5"/>
<polyline points="672,222.5 668,225.5 662,226.5 658,229.5 655,232.5 652,236.5 651,240.5 648,242.5 645,246.5 643,250.5 642,255.5 640,260.5 640,265.5 639,272.5 641,277.5 645,280.5 647,284.5 648,288.5 650,292.5"/>
<polyline points="598,188.5 600,190.5 606,190.5 611,191.5 614,185.5 611,179.5 615,174.5 614,169.5 613,163.5 615,158.5"/>
<polyline points="589,196.5 591,200.5 591,205.5 593,210.5 592,215.5 594,220.5 595,225.5 596,230.5 591,229.5 585,229.5 580,228.5 575,230.5 571,228.5 568,226.5 560,228.5 555,230.5 550,228.5 549,220.5 548,212.5 545,208.5 548,202.5 555,201.5"/>
<polyline points="596,230.5 592,232.5 589,236.5 588,240.5 584,244.5 584,250.5 585,255.5 585,260.5 588,264.5 595,265.5 600,265.5 605,266.5 608,270.5 609,274.5 613,272.5 618,272.5 625,275.5 629,273.5 634,274.5 639,272.5"/>
<polyline points="555,230.5 555,235.5 558,240.5 553,242.5 550,245.5 544,246.5 541,249.5 538,252.5 535,255.5 533,260.5 532,265.5 535,272.5 530,278.5 526,281.5 520,282.5 518,288.5 519,292.5"/>
<polyline points="550,245.5 553,248.5 558,250.5 560,255.5 564,258.5 561,261.5 560,265.5 562,269.5 565,272.5 566,280.5 570,282.5 574,284.5 578,278.5 580,273.5 584,270.5 588,264.5"/>
<polyline points="475,236.5 480,237.5 485,235.5 491,232.5 494,240.5 499,242.5 502,245.5 505,248.5 512,248.5 516,250.5 520,251.5 515,254.5 514,260.5 510,264.5 510,270.5 505,272.5 500,274.5 495,275.5 490,276.5 488,270.5 485,262.5 488,259.5 489,255.5 485,252.5 484,247.5 482,242.5 475,240.5"/>
<polyline points="609,274.5 610,278.5 610,282.5 611,287.5 609,292.5"/>
<polyline points="725,84.5 729,88.5 726,95.5 730,97.5 731,101.5 734,105.5 739,106.5 746,109.5 748,112.5 740,115.5 735,115.5 730,118.5 725,120.5 720,121.5 716,123.5 712,126.5 709,129.5 709,134.5 710,139.5 713,142.5 718,144.5 721,145.5 725,148.5 729,150.5 732,151.5 731,155.5 728,158.5 726,165.5 726,172.5 722,179.5 720,185.5 724,191.5 728,193.5 730,198.5 732,201.5 736,202.5 740,204.5 745,205.5 752,206.5 753,202.5 754,198.5 756,194.5 756,189.5 758,184.5 760,180.5 766,176.5 771,171.5 776,170.5 780,168.5 785,166.5 790,162.5 795,160.5 800,157.5 805,156.5 810,154.5 815,152.5 820,149.5 825,148.5 829,145.5 834,144.5 836,136.5 840,130.5 844,126.5 848,121.5 850,118.5 853,115.5 856,112.5 856,106.5 852,105.5 850,101.5 845,99.5 840,100.5 835,99.5 830,98.5 826,96.5 821,94.5 818,89.5 821,86.5 825,84.5"/>
<polyline points="748,112.5 752,116.5 758,118.5 762,118.5 766,120.5 770,119.5 772,122.5 775,125.5 776,129.5 776,134.5 778,138.5 780,141.5 784,144.5 785,149.5 788,156.5 792,160.5"/>
<polyline points="752,206.5 750,210.5 747,213.5 744,216.5 740,222.5 736,225.5 731,226.5 728,230.5 722,230.5 715,228.5 710,228.5 705,230.5 702,233.5 698,235.5 690,238.5 686,235.5 682,232.5 681,229.5 678,226.5 672,222.5"/>
<polyline points="870,84.5 871,88.5 872,92.5 880,90.5 884,88.5 888,86.5 894,85.5"/>
<polyline points="886,205.5 890,202.5 894,204.5"/>
<polyline points="875,250.5 880,245.5 888,242.5 894,240.5"/>
<polyline points="876,255.5 884,256.5 890,254.5 894,255.5"/>
<polyline points="878,262.5 884,261.5 886,256.5"/>
<polyline points="695,129.5 701,129.5 706,129.5 709,134.5"/>
<polyline points="640,152.5 645,155.5 652,158.5 655,162.5 650,165.5 642,164.5 640,162.5"/>
<polyline points="206,402.5 208,406.5 210,410.5 214,413.5 219,416.5 224,417.5 228,421.5 231,418.5 234,414.5 238,417.5 241,420.5 244,423.5 246,427.5 251,426.5 250,428.5"/>
<polyline points="232,310.5 237,311.5 241,311.5 249,311.5 254,306.5 258,306.5 262,306.5 267,307.5 271,308.5 271,313.5 272,317.5 270,324.5 266,326.5 262,330.5 258,330.5 254,331.5 249,331.5 244,332.5 240,326.5 239,321.5 239,317.5 241,311.5"/>
<polyline points="258,292.5 257,297.5 256,302.5 262,306.5"/>
<polyline points="271,308.5 276,309.5 280,309.5 285,310.5 288,317.5 290,324.5 288,328.5 286,332.5 289,340.5 286,343.5 282,346.5 279,343.5 275,342.5 268,340.5 264,337.5 260,336.5 258,332.5 254,331.5"/>
<polyline points="286,297.5 292,296.5 296,299.5 300,300.5 308,302.5 313,302.5 318,303.5 322,304.5 326,305.5 330,304.5 334,303.5 336,300.5 340,295.5 345,292.5"/>
<polyline points="282,346.5 286,349.5 288,353.5 290,360.5 288,366.5 295,363.5 299,361.5 302,360.5 310,358.5 311,351.5 313,346.5 316,342.5 317,337.5 320,333.5 321,328.5 324,324.5 328,322.5 331,320.5 336,319.5 340,317.5 345,316.5 350,313.5 354,314.5"/>
<polyline points="331,311.5 335,309.5 340,310.5 345,311.5 350,312.5 354,316.5 355,320.5 358,324.5 361,328.5 362,333.5 363,338.5 366,341.5 370,344.5 375,344.5 380,344.5 385,346.5 389,346.5 393,344.5 398,343.5 405,344.5 412,346.5 414,341.5 415,336.5 419,330.5 426,330.5 434,328.5 440,332.5 448,331.5 455,333.5 456,328.5 454,324.5 450,322.5 448,314.5 450,307.5 451,300.5 445,297.5 440,294.5"/>
<polyline points="372,292.5 373,297.5 375,302.5 380,304.5 385,307.5 392,308.5 394,313.5 395,317.5 396,321.5 398,326.5 400,329.5 402,333.5 406,336.5 408,341.5 412,346.5 412,350.5 411,354.5 408,359.5 406,364.5 405,369.5 401,372.5 399,376.5 398,380.5 395,383.5 391,387.5 389,394.5 388,402.5 390,407.5 390,412.5 385,414.5 381,418.5 376,421.5 370,422.5 368,418.5 365,414.5 362,411.5 359,407.5 356,404.5 352,407.5 348,406.5 342,405.5 336,407.5 330,410.5 326,403.5 324,400.5 320,398.5 318,394.5 314,392.5 310,393.5 302,392.5 305,400.5 300,402.5 295,403.5 290,402.5 285,401.5 281,404.5 275,404.5 272,408.5 271,412.5 272,417.5 271,422.5 274,430.5 278,432.5 280,437.5 283,441.5 285,444.5 287,448.5 291,450.5 295,452.5 300,453.5 304,455.5 308,458.5 309,462.5 309,467.5 307,471.5 308,476.5 302,480.5 300,487.5 295,488.5 290,490.5 285,489.5 280,491.5 274,493.5 275,499.5 274,504.5"/>
<polyline points="412,346.5 417,348.5 420,352.5 424,354.5 428,354.5 432,356.5 437,354.5 441,356.5 445,354.5 449,353.5 452,351.5 458,350.5 462,347.5 466,344.5 471,346.5 475,343.5"/>
<polyline points="401,372.5 406,372.5 410,374.5 418,374.5 422,380.5 426,383.5 430,384.5 434,386.5 441,387.5 445,392.5 444,398.5 440,401.5 435,402.5 430,402.5 425,402.5 422,399.5 418,398.5 410,397.5 405,399.5 400,400.5 395,401.5 390,401.5"/>
<polyline points="389,402.5 393,403.5 398,403.5 400,411.5 399,417.5 395,422.5 397,427.5 398,432.5 402,435.5 404,440.5 409,442.5 412,437.5 417,435.5 422,436.5 426,438.5 428,432.5 426,428.5 427,424.5 429,420.5 429,413.5 436,414.5 441,413.5 445,412.5 450,412.5 454,411.5 458,408.5 462,407.5 467,406.5 471,404.5 475,404.5"/>
<polyline points="429,413.5 435,414.5 439,418.5 441,422.5 445,424.5 446,428.5 447,433.5 446,437.5 442,442.5 435,440.5 430,440.5 426,438.5"/>
<polyline points="412,437.5 411,442.5 411,447.5 414,450.5 418,452.5 422,447.5 425,440.5"/>
<polyline points="370,422.5 372,427.5 372,432.5 374,437.5 375,442.5 378,445.5 382,446.5 386,452.5 386,457.5 384,462.5 382,467.5 382,472.5 383,477.5 384,482.5 382,487.5 380,492.5 379,496.5 380,500.5 379,504.5"/>
<polyline points="386,452.5 392,453.5 398,453.5 402,456.5 408,458.5 412,462.5 418,462.5 422,462.5 426,465.5 430,464.5 434,467.5 439,469.5 444,471.5 448,470.5 452,470.5 458,469.5 462,470.5 464,477.5 470,478.5 475,474.5"/>
<polyline points="308,476.5 313,477.5 318,481.5 323,482.5 328,484.5 332,484.5 336,486.5 340,486.5 345,486.5 350,488.5 355,488.5 360,491.5 365,491.5 370,493.5 375,494.5 379,492.5"/>
<polyline points="464,477.5 463,482.5 465,487.5 466,491.5 469,494.5 472,496.5 475,500.5"/>
<polyline points="405,482.5 408,479.5 412,477.5 417,479.5 420,482.5 418,486.5 415,490.5 414,494.5 411,497.5 408,495.5 405,492.5 408,487.5"/>
<polyline points="206,497.5 211,494.5 215,500.5 218,504.5"/>
<polyline points="475,300.5 480,299.5 485,302.5 490,301.5 495,296.5 500,297.5 504,295.5 508,293.5 512,293.5 517,294.5 521,292.5 525,292.5"/>
<polyline points="490,301.5 492,307.5 497,310.5 500,314.5 501,320.5 499,324.5 497,328.5 494,332.5 493,337.5 492,342.5 486,346.5 482,351.5 486,357.5 491,358.5 495,360.5 498,362.5 500,366.5 499,368.5 505,372.5 508,375.5 511,377.5 516,378.5 519,382.5 521,385.5 522,390.5 526,396.5"/>
<polyline points="525,292.5 528,297.5 529,302.5 531,306.5 532,310.5 537,309.5 541,312.5 540,320.5 544,326.5 548,322.5 552,322.5 557,321.5 561,319.5 565,320.5 570,320.5 575,321.5"/>
<polyline points="568,292.5 569,297.5 571,302.5 575,305.5 580,306.5 588,308.5 592,312.5 598,314.5 602,313.5 605,311.5 609,309.5 611,306.5 612,300.5 610,292.5"/>
<polyline points="575,310.5 575,315.5 575,321.5 573,325.5 570,330.5 567,334.5 568,340.5 567,344.5 564,348.5 561,353.5 559,358.5 556,362.5 555,367.5 552,370.5 548,371.5 542,372.5 538,374.5 535,378.5 534,382.5 531,386.5 529,390.5 526,396.5 523,400.5 521,404.5 522,408.5 527,410.5 531,408.5 535,410.5 541,409.5 546,408.5 549,405.5 552,401.5 560,403.5 566,404.5 564,409.5 564,414.5 562,419.5 562,423.5 562,427.5 563,432.5 564,437.5 565,441.5 569,444.5 575,448.5 570,453.5 565,455.5 561,457.5 557,460.5 554,464.5 550,467.5 547,471.5 542,472.5 540,476.5 535,478.5 530,481.5 525,482.5 522,487.5 518,490.5 512,491.5 508,494.5 504,498.5 500,502.5"/>
<polyline points="572,351.5 576,348.5 579,346.5 582,343.5 584,340.5 588,337.5 591,334.5 596,335.5 600,333.5 605,334.5 610,333.5 615,333.5 619,333.5 623,333.5 628,332.5 632,329.5 638,330.5 641,334.5 639,341.5 635,346.5 630,346.5 626,348.5 625,354.5 622,358.5 619,361.5 615,362.5 608,361.5 606,365.5 604,368.5 602,373.5 602,377.5 605,384.5 603,388.5 600,391.5 597,395.5 596,400.5 599,407.5 601,412.5 606,414.5 608,421.5"/>
<polyline points="638,330.5 640,322.5 644,319.5 648,317.5 655,314.5 661,311.5 665,306.5 659,302.5 654,304.5 650,302.5 652,298.5 654,294.5 650,292.5"/>
<polyline points="661,311.5 664,314.5 667,317.5 670,320.5 675,324.5 679,321.5 682,317.5 687,318.5 692,318.5 697,317.5 701,314.5 706,316.5 710,320.5 714,316.5 719,314.5 721,309.5"/>
<polyline points="682,317.5 685,322.5 686,327.5 689,331.5 692,334.5 692,340.5 690,344.5 686,347.5 682,351.5 680,357.5 678,364.5 680,370.5 688,372.5 691,374.5 692,378.5 695,386.5 691,392.5 690,400.5 696,401.5 700,406.5 705,404.5 708,397.5 712,392.5 713,387.5 715,382.5 719,381.5 722,378.5"/>
<polyline points="622,358.5 624,363.5 628,367.5 629,372.5 631,377.5 630,384.5 634,391.5 632,393.5 629,396.5 625,397.5 622,400.5 620,403.5 618,406.5 615,410.5 611,416.5 608,421.5 601,422.5 597,423.5 592,423.5 590,427.5 586,428.5 582,431.5 580,436.5 578,441.5 575,444.5 575,448.5"/>
<polyline points="640,390.5 639,386.5 643,384.5 645,381.5 650,382.5 655,381.5 662,378.5 669,376.5 672,379.5 672,383.5 673,388.5 674,392.5 680,396.5 681,402.5 686,402.5 690,400.5"/>
<polyline points="625,397.5 629,401.5 635,402.5 639,407.5 642,413.5 650,416.5 652,423.5 660,421.5 662,418.5 665,414.5 668,408.5 664,402.5 660,397.5 655,396.5 650,394.5 645,393.5 640,390.5"/>
<polyline points="652,423.5 650,427.5 650,432.5 651,438.5 645,438.5 640,440.5 635,441.5 631,442.5 628,444.5 621,443.5 615,447.5 612,450.5 608,451.5 604,453.5 600,454.5 592,457.5 588,458.5 585,461.5 580,461.5 575,458.5 570,462.5 569,470.5 571,476.5 567,476.5 562,478.5 555,477.5 553,472.5 550,467.5"/>
<polyline points="651,438.5 652,443.5 655,447.5 658,451.5 662,454.5 668,458.5 672,457.5 678,457.5 682,452.5 684,444.5 684,439.5 682,434.5 683,429.5 684,424.5 684,419.5 688,414.5 691,410.5 696,409.5 700,406.5"/>
<polyline points="684,444.5 690,442.5 695,440.5 700,438.5 708,436.5 712,432.5 719,434.5 720,428.5 718,424.5 716,420.5 712,416.5 710,412.5 707,409.5 705,404.5"/>
<polyline points="625,444.5 626,449.5 626,454.5 627,460.5 630,464.5 634,467.5 635,471.5 639,473.5 643,475.5 648,476.5 653,475.5 658,477.5 662,475.5 665,471.5 667,467.5 668,463.5 668,458.5"/>
<polyline points="690,452.5 693,457.5 694,462.5 696,466.5 698,470.5 702,472.5 707,470.5 711,470.5 715,467.5 720,466.5 725,464.5 732,467.5 736,469.5 740,472.5 738,476.5 735,480.5 738,487.5 742,488.5 746,490.5 750,491.5"/>
<polyline points="702,472.5 701,478.5 697,480.5 692,480.5 685,482.5 680,482.5 675,480.5 671,481.5 668,484.5 664,483.5 662,478.5 658,477.5"/>
<polyline points="635,471.5 630,475.5 625,477.5 622,484.5 619,490.5 622,492.5 625,496.5 629,498.5 632,500.5 638,504.5"/>
<polyline points="571,476.5 574,480.5 575,484.5 580,490.5 578,497.5 580,500.5 582,504.5"/>
<polyline points="550,467.5 549,472.5 551,477.5 558,481.5 563,481.5 568,480.5"/>
<polyline points="535,478.5 538,481.5 542,482.5 540,490.5 544,491.5 548,492.5 552,492.5 555,496.5 560,497.5 564,495.5 568,492.5 573,491.5 578,490.5"/>
<polyline points="518,490.5 520,497.5 524,493.5 529,492.5 531,500.5 528,504.5"/>
<polyline points="475,337.5 482,338.5 484,342.5 486,346.5"/>
<polyline points="475,402.5 482,404.5 486,408.5 490,412.5 493,417.5 498,421.5 503,421.5 508,420.5 511,416.5 514,413.5 519,412.5 522,408.5"/>
<polyline points="498,421.5 495,424.5 495,429.5 492,432.5 491,437.5 490,442.5 493,447.5 495,452.5 500,457.5 501,462.5 501,467.5 498,469.5 495,472.5 488,471.5 482,467.5 475,464.5"/>
<polyline points="500,467.5 498,471.5 499,475.5 498,480.5 495,484.5 492,490.5 494,494.5 493,499.5 494,504.5"/>
<polyline points="720,308.5 726,310.5 730,312.5 732,316.5 734,320.5 735,325.5 735,330.5 730,334.5 732,342.5 740,343.5 734,346.5 733,352.5 731,357.5 731,362.5 732,367.5 729,371.5 726,374.5 722,378.5 730,380.5 735,382.5 740,386.5 741,390.5 745,392.5 750,392.5 755,394.5 760,393.5 765,392.5 770,391.5 776,393.5 781,391.5 786,392.5 789,387.5 792,383.5 793,379.5 796,376.5 791,372.5 795,369.5 800,367.5 804,364.5 808,363.5 812,362.5 816,357.5 820,353.5 824,350.5 828,346.5 833,345.5 838,342.5 843,340.5 848,337.5 854,334.5 860,336.5 865,338.5 869,341.5 872,344.5 876,348.5 880,352.5 885,353.5 890,353.5 894,351.5"/>
<polyline points="812,362.5 814,367.5 815,372.5 818,376.5 820,381.5 820,386.5 818,390.5 816,394.5 820,393.5 825,392.5 829,393.5 833,389.5 838,390.5 843,388.5 848,387.5 852,388.5 858,388.5 861,391.5 866,392.5 865,400.5 865,405.5 862,410.5 860,417.5 859,423.5 858,428.5 854,432.5"/>
<polyline points="776,393.5 775,400.5 776,404.5 776,410.5 775,413.5 772,417.5 771,422.5 774,425.5 776,428.5 780,433.5 785,434.5 790,438.5 795,440.5 799,442.5 804,442.5 808,440.5 812,441.5 812,436.5 814,432.5 818,431.5 822,430.5 828,430.5 832,429.5 838,428.5 842,430.5 848,431.5 854,432.5 860,434.5 864,436.5 866,440.5 863,442.5 860,444.5 861,450.5"/>
<polyline points="776,401.5 781,402.5 785,402.5 790,401.5 795,401.5 800,401.5 805,400.5 809,398.5 813,397.5 818,397.5 820,404.5 822,409.5 821,413.5 821,417.5 820,422.5 820,427.5 822,430.5"/>
<polyline points="838,390.5 840,397.5 839,402.5 840,407.5 838,412.5 838,417.5 840,421.5 842,424.5 844,428.5 848,431.5"/>
<polyline points="866,392.5 871,394.5 875,397.5 881,394.5 886,391.5 890,392.5 894,392.5"/>
<polyline points="880,400.5 884,406.5 890,410.5 894,411.5"/>
<polyline points="866,428.5 870,426.5 875,427.5 880,427.5 884,424.5 889,423.5 894,423.5"/>
<polyline points="804,442.5 801,445.5 800,450.5 796,453.5 792,457.5 790,464.5 785,467.5 779,468.5 774,469.5 770,467.5 767,464.5 765,460.5 766,453.5"/>
<polyline points="765,460.5 761,462.5 758,464.5 753,465.5 749,467.5 745,471.5 740,473.5 736,478.5 740,480.5 742,484.5 746,487.5 750,490.5 758,492.5 761,495.5 765,497.5 768,500.5 770,504.5"/>
<polyline points="812,441.5 815,445.5 815,450.5 819,453.5 822,457.5 828,454.5 832,453.5 838,454.5 842,453.5 848,453.5 849,447.5 851,443.5 854,440.5 854,432.5"/>
<polyline points="822,457.5 820,464.5 826,467.5 828,474.5 833,475.5 838,473.5 843,472.5 849,470.5 848,462.5 849,458.5 848,453.5"/>
<polyline points="779,468.5 781,473.5 784,478.5 790,477.5 795,474.5 800,473.5 805,469.5 810,467.5 815,467.5 820,464.5"/>
<polyline points="810,467.5 812,472.5 815,477.5 820,481.5 818,484.5 815,487.5 811,491.5 805,492.5 800,497.5 802,504.5"/>
<polyline points="861,450.5 863,453.5 865,457.5 868,462.5"/>
<polyline points="841,343.5 844,351.5 850,351.5 851,357.5 848,363.5 840,362.5 836,360.5 832,358.5 830,355.5 828,352.5"/>
<polyline points="222,508.5 225,516.5 229,515.5 233,517.5 238,517.5 243,516.5 248,513.5 252,511.5 258,510.5 262,508.5 268,508.5"/>
<polyline points="268,508.5 266,516.5 268,523.5 270,526.5 272,529.5 274,534.5 275,538.5 280,540.5 285,540.5 290,540.5 295,542.5 300,542.5 305,540.5 309,542.5 314,542.5 321,543.5 322,538.5 327,539.5 332,539.5 336,533.5 340,531.5 345,530.5 351,530.5 355,527.5 362,524.5 367,521.5 372,518.5 375,510.5 378,508.5"/>
<polyline points="206,580.5 211,579.5 215,576.5 219,574.5 223,573.5 228,573.5 233,572.5 238,569.5 242,567.5 248,566.5 253,564.5 258,560.5 261,559.5 265,557.5 268,554.5 272,553.5 272,548.5 274,543.5 275,538.5"/>
<polyline points="272,553.5 276,557.5 280,560.5 284,564.5 290,564.5 295,564.5 300,567.5 305,566.5 310,566.5 313,569.5 315,573.5 318,576.5 322,577.5 326,574.5 330,574.5 330,580.5 328,586.5 322,590.5 328,596.5 332,595.5 336,597.5"/>
<polyline points="321,543.5 322,548.5 321,553.5 320,558.5 318,562.5 318,567.5 317,571.5 318,576.5"/>
<polyline points="258,577.5 262,574.5 264,578.5 268,580.5 272,583.5 269,586.5 269,590.5 261,589.5 260,583.5 258,577.5"/>
<polyline points="260,583.5 257,588.5 254,593.5 250,597.5 245,599.5 241,599.5 237,600.5 232,602.5 227,604.5 221,604.5 218,607.5 215,610.5 217,615.5 218,620.5 216,628.5 221,629.5 225,630.5 227,634.5 229,638.5 228,646.5 223,648.5 219,648.5 220,656.5 218,660.5 216,665.5 211,668.5 210,674.5 206,676.5"/>
<polyline points="220,656.5 225,656.5 230,658.5 235,658.5 240,659.5 244,663.5 250,664.5 255,665.5 259,668.5 262,672.5 266,673.5 270,671.5 275,670.5 278,667.5 281,664.5 288,660.5 291,664.5 295,666.5 300,668.5 305,668.5 310,670.5 315,672.5 319,671.5 323,672.5 328,673.5 335,672.5"/>
<polyline points="288,660.5 290,654.5 295,653.5 300,653.5 305,648.5 308,643.5 308,638.5 311,632.5 310,628.5 310,623.5 308,616.5 315,613.5 320,612.5 319,604.5 320,599.5 324,597.5 328,596.5"/>
<polyline points="320,612.5 323,615.5 328,616.5 332,615.5 336,617.5 344,619.5 345,624.5 346,628.5 350,631.5 355,632.5 358,636.5 362,638.5 370,636.5 371,631.5 375,628.5 375,623.5 378,619.5 381,616.5 385,616.5 390,616.5 395,613.5 400,615.5 405,619.5 410,621.5 415,622.5 422,619.5 428,617.5 432,613.5 438,614.5 442,616.5 448,616.5 452,618.5 458,619.5 462,618.5 466,616.5 469,613.5 475,610.5"/>
<polyline points="336,617.5 341,614.5 346,614.5 350,612.5 354,609.5 359,608.5 365,610.5 369,612.5 372,614.5 379,618.5"/>
<polyline points="335,672.5 338,675.5 339,680.5 343,683.5 348,684.5 350,688.5 354,690.5 358,692.5 362,692.5 362,696.5 364,700.5 362,707.5 368,706.5 372,708.5 380,706.5 379,698.5 380,694.5 382,690.5 386,687.5 386,683.5 380,683.5 375,686.5 370,683.5 372,676.5 376,673.5 380,670.5 385,669.5 390,669.5"/>
<polyline points="362,707.5 358,709.5 354,711.5 350,713.5 346,714.5 344,718.5"/>
<polyline points="310,633.5 314,635.5 315,640.5 319,642.5 318,649.5 318,654.5 320,658.5 322,662.5 325,666.5 330,669.5 335,672.5"/>
<polyline points="378,619.5 378,625.5 380,630.5 382,635.5 382,640.5 384,645.5 384,649.5 390,650.5 395,648.5 400,647.5 408,646.5 409,649.5 412,652.5 413,656.5 411,660.5 415,667.5 421,668.5 423,673.5 422,678.5 426,680.5 430,681.5 434,683.5 441,686.5 445,688.5 448,693.5 450,697.5 449,701.5 450,706.5 454,708.5 458,710.5 465,708.5 470,711.5 475,710.5"/>
<polyline points="395,613.5 395,617.5 395,622.5 398,626.5 397,630.5 397,634.5 395,638.5 395,643.5 392,648.5"/>
<polyline points="422,619.5 422,624.5 421,628.5 421,633.5 422,638.5 423,643.5 422,648.5 423,653.5 424,658.5 422,663.5 421,668.5"/>
<polyline points="372,518.5 372,522.5 373,526.5 374,530.5 373,536.5 374,541.5 375,546.5 377,550.5 378,556.5 379,562.5 372,566.5 365,564.5 360,569.5 355,569.5 350,572.5 345,573.5 340,573.5 335,573.5 330,574.5"/>
<polyline points="379,562.5 383,563.5 386,566.5 390,567.5 394,565.5 398,564.5 402,564.5 407,563.5 412,563.5 418,568.5 422,567.5 426,569.5 430,568.5 434,568.5 438,567.5 442,567.5 448,566.5 452,567.5 458,562.5 462,562.5 467,563.5 471,561.5 475,560.5"/>
<polyline points="396,508.5 399,511.5 400,516.5 401,521.5 404,526.5 403,530.5 401,534.5 402,538.5 403,542.5 402,547.5 401,551.5 401,556.5 398,560.5 398,566.5"/>
<polyline points="408,516.5 412,519.5 418,519.5 421,521.5 422,526.5 419,532.5 414,533.5 410,533.5 404,536.5"/>
<polyline points="462,508.5 465,513.5 465,518.5 468,522.5 468,528.5 471,532.5 469,535.5 466,538.5 463,541.5 461,546.5 461,551.5 460,557.5 458,562.5"/>
<polyline points="430,516.5 431,520.5 434,523.5 433,528.5 434,533.5 432,538.5 438,540.5 441,538.5 445,536.5 448,532.5 452,530.5 458,530.5 465,528.5"/>
<polyline points="412,563.5 413,568.5 414,573.5 413,577.5 414,581.5 412,586.5 411,590.5 410,594.5 408,598.5 404,602.5 400,606.5 398,610.5 395,613.5"/>
<polyline points="462,583.5 463,588.5 465,593.5 463,598.5 462,603.5 464,608.5 464,613.5 462,618.5"/>
<polyline points="206,622.5 210,624.5 211,628.5 215,631.5 218,636.5 219,637.5"/>
<polyline points="206,679.5 212,683.5 210,690.5 206,693.5"/>
<polyline points="206,706.5 212,708.5 215,712.5 218,716.5 220,718.5"/>
<polyline points="290,564.5 286,558.5 283,555.5 282,550.5 275,549.5"/>
<polyline points="499,508.5 497,512.5 495,516.5 491,522.5 485,526.5 480,528.5 475,528.5"/>
<polyline points="475,560.5 480,564.5 485,566.5 490,569.5 495,572.5 498,576.5 499,580.5 501,585.5 501,589.5 508,593.5 512,593.5 516,593.5 520,593.5 524,594.5 528,593.5 532,594.5 537,594.5 541,596.5 545,596.5 550,594.5"/>
<polyline points="544,508.5 543,513.5 542,518.5 546,520.5 549,523.5 550,527.5 548,531.5 550,536.5 551,540.5 551,546.5 549,549.5 546,553.5 545,560.5 549,563.5 552,567.5 557,568.5 561,570.5 564,569.5 570,569.5 575,567.5 579,568.5 583,565.5 588,566.5 593,566.5 598,569.5 599,573.5 602,576.5 606,579.5 608,583.5 611,587.5 611,593.5 611,599.5 612,604.5"/>
<polyline points="564,570.5 563,576.5 562,580.5 561,588.5 565,591.5 570,593.5 573,596.5 575,599.5 580,602.5 585,602.5 590,604.5 595,607.5 601,610.5 602,618.5 606,620.5 608,624.5 612,626.5 615,630.5 622,633.5 627,634.5 631,635.5 635,636.5 640,638.5 645,638.5 648,644.5 651,650.5 653,655.5 652,660.5"/>
<polyline points="550,594.5 548,602.5 551,606.5 555,609.5 558,612.5 561,616.5 566,617.5 570,618.5 575,619.5 572,626.5 575,633.5 578,638.5 579,643.5 578,647.5 573,650.5 568,652.5 562,655.5 558,658.5 553,659.5 549,662.5 544,658.5 540,656.5 539,652.5 536,644.5 531,639.5 525,636.5 520,635.5 515,634.5 508,637.5 506,630.5 499,633.5 494,635.5 490,638.5 482,639.5 478,641.5 475,644.5"/>
<polyline points="508,637.5 510,642.5 510,648.5 510,653.5 508,658.5 510,666.5 512,673.5 507,672.5 502,674.5 496,678.5 492,683.5 490,688.5 492,696.5 490,700.5 490,706.5 485,708.5 480,710.5 475,712.5"/>
<polyline points="594,508.5 595,513.5 592,518.5 597,521.5 602,522.5 607,521.5 611,522.5 615,520.5 622,518.5 627,518.5 631,517.5 635,516.5 640,513.5 641,508.5"/>
<polyline points="635,516.5 634,521.5 631,526.5 634,533.5 628,534.5 623,535.5 620,538.5 615,541.5 610,542.5 605,543.5 600,544.5 592,546.5 590,549.5 592,553.5 596,556.5 598,559.5 603,561.5 605,564.5 611,568.5"/>
<polyline points="624,534.5 624,540.5 622,546.5 621,553.5 628,557.5 630,563.5 625,568.5 620,571.5 615,573.5 611,568.5"/>
<polyline points="628,534.5 631,537.5 635,540.5 639,544.5 642,548.5 646,552.5 648,558.5 650,561.5 651,566.5 652,570.5 655,573.5 658,580.5 655,585.5 655,590.5 655,597.5 652,600.5 648,600.5 643,601.5 639,601.5 635,603.5 631,601.5 630,597.5 628,592.5 625,588.5 621,585.5 619,580.5 617,577.5 615,573.5"/>
<polyline points="655,590.5 660,589.5 665,587.5 670,588.5 675,588.5 678,596.5 680,601.5 681,607.5 686,607.5 690,608.5 696,604.5 697,599.5 698,593.5 699,589.5 701,586.5 706,585.5 710,583.5 716,582.5 719,574.5 721,567.5 725,560.5 730,558.5 735,556.5 741,553.5 746,552.5 750,548.5"/>
<polyline points="652,660.5 657,659.5 661,660.5 665,659.5 670,659.5 675,658.5 681,660.5 680,665.5 678,668.5 675,673.5 675,678.5 672,681.5 671,686.5 669,693.5 666,700.5 669,704.5 671,708.5 678,707.5 681,702.5 683,706.5 682,710.5 685,718.5"/>
<polyline points="746,552.5 746,557.5 745,563.5 747,568.5 748,573.5"/>
<polyline points="740,508.5 741,513.5 739,518.5 740,522.5 743,526.5 742,530.5 745,534.5 746,538.5 746,543.5 745,548.5 749,549.5 751,553.5 749,558.5 748,563.5 748,568.5 746,572.5 749,575.5 752,578.5 760,580.5 766,580.5"/>
<polyline points="751,553.5 758,550.5 761,547.5 763,542.5 765,538.5 766,533.5 770,530.5 773,527.5 776,523.5 779,516.5 775,510.5"/>
<polyline points="742,513.5 748,514.5 752,516.5 757,516.5 761,513.5 765,513.5 770,513.5 775,510.5 780,511.5 785,508.5"/>
<polyline points="766,580.5 767,585.5 770,588.5 773,592.5 778,594.5 783,596.5 788,599.5 792,603.5 798,604.5 803,606.5 808,608.5 810,612.5 815,613.5 820,616.5 819,621.5 821,626.5 824,630.5 825,636.5 826,640.5 829,644.5 830,649.5 834,653.5 836,658.5 835,663.5 837,668.5 839,673.5 839,678.5 841,683.5 844,690.5 847,694.5 849,698.5 849,703.5 852,708.5 854,713.5 855,718.5"/>
<polyline points="894,668.5 893,673.5 894,678.5 892,683.5 894,688.5"/>
<polyline points="890,696.5 890,700.5 889,704.5 891,708.5 892,713.5 890,718.5"/>
</g>
<g clip-path="url(#mc)" fill="none" stroke="#000" stroke-width="1" shape-rendering="crispEdges">
<path d="M202.9 102.7L218.9 113.7M215.5 108.2L218.9 113.7L212.5 112.5M202.9 137.1L205.9 134.1M203.5 135.0L205.9 134.1L205.0 136.5M202.9 171.5L205.9 168.5M203.5 169.4L205.9 168.5L205.0 170.9M202.9 205.9L204.9 203.9M203.3 204.5L204.9 203.9L204.3 205.5M202.9 240.3L203.9 239.3M203.1 239.6L203.9 239.3L203.6 240.1M202.9 618.7L218.9 636.7M216.9 630.5L218.9 636.7L213.0 634.0M202.9 653.1L209.9 658.6M206.9 652.9L209.9 658.6L203.6 657.0M202.9 687.5L208.9 697.5M208.1 691.0L208.9 697.5L203.6 693.8M231.7 102.7L242.7 110.2M239.3 104.7L242.7 110.2L236.3 109.0M231.7 137.1L236.2 129.1M231.0 133.0L236.2 129.1L235.6 135.6M231.7 171.5L233.7 162.5M229.8 167.7L233.7 162.5L235.0 168.9M231.7 205.9L229.7 201.9M229.8 204.6L229.7 201.9L231.8 203.6M231.7 240.3L236.7 233.3M231.1 236.6L236.7 233.3L235.4 239.7M231.7 274.7L235.7 279.7M234.7 276.0L235.7 279.7L232.3 277.9M231.7 309.1L247.7 310.1M241.9 307.1L247.7 310.1L241.6 312.4M231.7 343.5L232.7 346.5M232.9 344.6L232.7 346.5L231.4 345.1M231.7 377.9L239.7 381.9M235.6 376.9L239.7 381.9L233.2 381.6M231.7 412.3L233.7 414.3M233.1 412.7L233.7 414.3L232.1 413.7M231.7 446.7L238.7 464.7M239.0 458.2L238.7 464.7L234.1 460.1M231.7 481.1L234.7 501.1M236.4 494.8L234.7 501.1L231.2 495.6M231.7 515.5L230.7 531.5M233.7 525.7L230.7 531.5L228.4 525.4M231.7 549.9L221.7 555.9M228.2 555.1L221.7 555.9L225.4 550.6M231.7 584.3L229.2 587.3M231.3 586.3L229.2 587.3L229.8 585.0M231.7 618.7L238.7 629.7M237.7 623.3L238.7 629.7L233.3 626.1M231.7 653.1L244.7 660.1M240.7 655.0L244.7 660.1L238.2 659.6M231.7 687.5L232.7 698.5M234.8 692.3L232.7 698.5L229.5 692.8M260.5 102.7L264.5 103.7M262.6 102.2L264.5 103.7L262.1 104.1M260.5 137.1L267.5 131.1M261.3 133.0L267.5 131.1L264.7 137.0M260.5 171.5L271.0 166.5M264.5 166.7L271.0 166.5L266.8 171.4M260.5 205.9L265.5 201.9M261.8 202.9L265.5 201.9L263.7 205.3M260.5 240.3L269.5 222.3M264.5 226.4L269.5 222.3L269.2 228.8M260.5 274.7L278.0 282.7M273.7 277.8L278.0 282.7L271.5 282.6M260.5 309.1L263.5 307.1M261.4 307.5L263.5 307.1L262.3 308.9M260.5 343.5L269.5 345.5M264.3 341.6L269.5 345.5L263.1 346.8M260.5 377.9L264.5 383.9M263.8 379.6L264.5 383.9L260.8 381.6M260.5 412.3L249.5 412.3M255.4 414.9L249.5 412.3L255.4 409.7M260.5 446.7L242.5 458.2M248.9 457.2L242.5 458.2L246.1 452.8M260.5 481.1L228.5 484.1M234.7 486.2L228.5 484.1L234.2 480.9M260.5 515.5L239.5 516.5M245.6 518.9L239.5 516.5L245.3 513.6M260.5 549.9L263.5 548.9M261.6 548.7L263.5 548.9L262.1 550.2M260.5 584.3L249.5 605.3M254.6 601.3L249.5 605.3L249.9 598.8M260.5 618.7L274.5 627.7M270.9 622.3L274.5 627.7L268.1 626.7M260.5 653.1L272.5 648.1M266.0 647.9L272.5 648.1L268.0 652.8M260.5 687.5L261.5 693.5M262.4 690.0L261.5 693.5L259.5 690.5M289.3 102.7L303.3 103.7M297.6 100.6L303.3 103.7L297.2 105.9M289.3 137.1L306.3 132.6M299.9 131.6L306.3 132.6L301.2 136.7M289.3 171.5L311.3 168.5M305.1 166.7L311.3 168.5L305.8 171.9M289.3 205.9L311.3 206.4M305.4 203.6L311.3 206.4L305.3 208.9M289.3 240.3L314.8 235.3M308.5 233.8L314.8 235.3L309.5 239.0M289.3 274.7L304.3 272.7M298.1 270.9L304.3 272.7L298.8 276.1M289.3 309.1L301.3 308.6M295.3 306.2L301.3 308.6L295.5 311.5M289.3 343.5L299.8 347.5M295.2 342.9L299.8 347.5L293.3 347.9M289.3 377.9L286.3 372.9M286.7 376.4L286.3 372.9L289.2 374.9M289.3 412.3L286.3 413.3M288.2 413.5L286.3 413.3L287.7 412.0M289.3 446.7L280.3 460.7M285.7 457.1L280.3 460.7L281.3 454.3M289.3 481.1L284.8 488.1M290.2 484.5L284.8 488.1L285.8 481.7M289.3 515.5L304.3 527.5M301.3 521.7L304.3 527.5L298.0 525.9M289.3 549.9L277.8 574.9M282.7 570.6L277.8 574.9L277.9 568.4M289.3 584.3L279.3 602.3M284.5 598.4L279.3 602.3L279.9 595.8M289.3 618.7L306.3 632.7M303.4 626.9L306.3 632.7L300.0 631.0M289.3 653.1L305.3 651.1M299.1 649.2L305.3 651.1L299.7 654.5M289.3 687.5L302.8 688.0M297.0 685.1L302.8 688.0L296.8 690.4M318.1 102.7L336.1 106.7M330.9 102.8L336.1 106.7L329.7 108.0M318.1 137.1L350.1 131.6M343.8 130.0L350.1 131.6L344.7 135.2M318.1 171.5L335.1 169.0M328.8 167.2L335.1 169.0L329.6 172.5M318.1 205.9L329.1 202.9M322.7 201.9L329.1 202.9L324.1 207.0M318.1 240.3L327.6 245.3M323.6 240.2L327.6 245.3L321.1 244.9M318.1 274.7L325.1 277.7M322.0 274.3L325.1 277.7L320.5 277.8M318.1 309.1L323.1 312.1M321.1 309.2L323.1 312.1L319.6 311.7M318.1 343.5L316.1 345.0M317.6 344.7L316.1 345.0L316.8 343.7M318.1 377.9L314.1 369.4M314.2 375.9L314.1 369.4L319.0 373.6M318.1 412.3L319.1 414.3M319.0 413.0L319.1 414.3L318.1 413.4M318.1 446.7L313.1 449.2M316.5 449.0L313.1 449.2L315.2 446.6M318.1 481.1L314.1 504.1M317.7 498.7L314.1 504.1L312.5 497.8M318.1 515.5L311.1 533.5M315.7 528.9L311.1 533.5L310.8 527.0M318.1 549.9L317.6 573.9M320.4 568.0L317.6 573.9L315.1 567.9M318.1 584.3L294.1 599.3M300.5 598.4L294.1 599.3L297.7 593.9M318.1 618.7L303.1 632.7M309.2 630.6L303.1 632.7L305.6 626.7M318.1 653.1L321.1 669.1M322.6 662.8L321.1 669.1L317.4 663.8M318.1 687.5L327.6 686.0M321.3 684.3L327.6 686.0L322.1 689.5M346.9 102.7L365.9 102.2M359.9 99.7L365.9 102.2L360.0 105.0M346.9 137.1L355.9 133.1M349.4 133.1L355.9 133.1L351.5 137.9M346.9 171.5L359.9 169.0M353.6 167.5L359.9 169.0L354.6 172.7M346.9 205.9L354.9 193.9M349.4 197.4L354.9 193.9L353.8 200.3M346.9 240.3L354.4 236.3M347.9 236.8L354.4 236.3L350.4 241.4M346.9 274.7L348.9 279.7M349.0 276.5L348.9 279.7L346.6 277.4M346.9 309.1L352.4 313.1M350.4 309.6L352.4 313.1L348.4 312.2M346.9 343.5L338.9 325.5M338.9 332.0L338.9 325.5L343.7 329.9M346.9 377.9L331.9 372.4M336.6 376.9L331.9 372.4L338.4 372.0M346.9 412.3L322.9 412.3M328.8 414.9L322.9 412.3L328.8 409.7M346.9 446.7L323.9 454.7M330.4 455.2L323.9 454.7L328.6 450.3M346.9 481.1L316.9 483.6M323.0 485.7L316.9 483.6L322.6 480.5M346.9 515.5L322.9 527.5M329.4 527.2L322.9 527.5L327.0 522.5M346.9 549.9L323.9 563.4M330.4 562.7L323.9 563.4L327.7 558.1M346.9 584.3L321.4 591.8M327.8 592.7L321.4 591.8L326.4 587.6M346.9 618.7L334.4 643.7M339.4 639.6L334.4 643.7L334.7 637.2M346.9 653.1L332.9 672.1M338.6 668.9L332.9 672.1L334.3 665.8M346.9 687.5L356.9 678.0M350.8 680.2L356.9 678.0L354.4 684.0M346.9 721.9L351.9 717.9M348.2 718.9L351.9 717.9L350.1 721.3M375.7 102.7L394.7 97.7M388.3 96.7L394.7 97.7L389.6 101.8M375.7 137.1L394.7 138.1M388.9 135.1L394.7 138.1L388.6 140.4M375.7 171.5L381.7 157.5M376.9 161.9L381.7 157.5L381.8 164.0M375.7 205.9L399.7 207.9M394.0 204.8L399.7 207.9L393.6 210.0M375.7 240.3L406.7 246.3M401.4 242.6L406.7 246.3L400.4 247.8M375.7 274.7L377.7 281.2M378.2 277.1L377.7 281.2L375.0 278.1M375.7 309.1L373.7 303.1M373.3 306.9L373.7 303.1L376.3 305.9M375.7 343.5L379.7 320.5M376.1 325.9L379.7 320.5L381.3 326.8M375.7 377.9L367.7 365.9M368.8 372.3L367.7 365.9L373.2 369.4M375.7 412.3L368.2 423.3M373.7 419.9L368.2 423.3L369.4 416.9M375.7 446.7L370.7 447.7M373.7 448.4L370.7 447.7L373.2 445.9M375.7 481.1L369.7 494.6M374.5 490.2L369.7 494.6L369.7 488.1M375.7 515.5L374.2 555.5M377.1 549.7L374.2 555.5L371.8 549.5M375.7 549.9L357.7 570.4M363.6 567.7L357.7 570.4L359.6 564.2M375.7 584.3L362.7 599.3M368.6 596.5L362.7 599.3L364.6 593.1M375.7 618.7L361.7 644.2M366.9 640.3L361.7 644.2L362.2 637.7M375.7 653.1L365.7 669.1M371.1 665.5L365.7 669.1L366.6 662.7M375.7 687.5L385.7 680.5M379.3 681.7L385.7 680.5L382.4 686.1M375.7 721.9L389.7 712.9M383.3 713.9L389.7 712.9L386.1 718.3M404.5 102.7L425.0 103.2M419.1 100.4L425.0 103.2L419.0 105.7M404.5 137.1L409.5 136.1M406.5 135.4L409.5 136.1L407.0 137.9M404.5 171.5L426.5 162.5M420.0 162.3L426.5 162.5L422.0 167.2M404.5 205.9L410.5 203.4M406.6 203.3L410.5 203.4L407.8 206.2M404.5 240.3L407.5 242.3M406.3 240.5L407.5 242.3L405.4 241.9M404.5 274.7L412.0 271.2M405.5 271.3L412.0 271.2L407.7 276.1M404.5 309.1L408.0 302.1M404.4 305.1L408.0 302.1L407.8 306.8M404.5 343.5L400.0 332.0M399.7 338.5L400.0 332.0L404.6 336.6M404.5 377.9L407.5 379.4M406.2 377.8L407.5 379.4L405.5 379.3M404.5 412.3L405.5 424.3M407.6 418.2L405.5 424.3L402.4 418.6M404.5 446.7L407.5 460.7M408.8 454.3L407.5 460.7L403.7 455.4M404.5 481.1L412.5 497.1M412.2 490.6L412.5 497.1L407.5 493.0M404.5 515.5L401.5 555.5M404.6 549.8L401.5 555.5L399.3 549.4M404.5 549.9L392.5 573.9M397.5 569.8L392.5 573.9L392.8 567.4M404.5 584.3L394.5 605.3M399.4 601.1L394.5 605.3L394.7 598.8M404.5 618.7L393.0 644.2M397.9 639.9L393.0 644.2L393.0 637.7M404.5 653.1L393.5 669.1M399.0 665.7L393.5 669.1L394.7 662.7M404.5 687.5L405.0 698.0M407.4 691.9L405.0 698.0L402.1 692.2M433.3 102.7L447.3 98.7M440.9 97.8L447.3 98.7L442.3 102.9M433.3 137.1L453.3 145.1M448.8 140.4L453.3 145.1L446.8 145.3M433.3 171.5L447.3 164.5M440.8 164.8L447.3 164.5L443.2 169.5M433.3 205.9L443.3 215.9M441.0 209.8L443.3 215.9L437.2 213.6M433.3 240.3L439.3 252.3M439.0 245.8L439.3 252.3L434.3 248.2M433.3 274.7L438.3 282.7M437.4 276.3L438.3 282.7L432.9 279.1M433.3 309.1L428.3 310.1M431.3 310.8L428.3 310.1L430.8 308.3M433.3 343.5L439.3 340.5M435.3 340.7L439.3 340.5L436.7 343.6M433.3 377.9L435.3 382.9M435.4 379.7L435.3 382.9L433.0 380.6M433.3 412.3L438.3 422.3M438.0 415.8L438.3 422.3L433.3 418.2M433.3 446.7L436.3 461.7M437.7 455.4L436.3 461.7L432.5 456.4M433.3 481.1L434.3 499.6M436.6 493.5L434.3 499.6L431.3 493.8M433.3 515.5L433.8 539.5M436.3 533.5L433.8 539.5L431.0 533.6M433.3 549.9L431.3 573.4M434.4 567.7L431.3 573.4L429.2 567.3M433.3 584.3L425.3 605.3M429.9 600.7L425.3 605.3L424.9 598.8M433.3 618.7L426.3 635.7M431.0 631.2L426.3 635.7L426.1 629.2M433.3 653.1L421.3 670.6M426.8 667.2L421.3 670.6L422.5 664.2M433.3 687.5L439.3 696.0M438.0 689.6L439.3 696.0L433.7 692.7M462.1 102.7L472.6 104.2M467.1 100.7L472.6 104.2L466.3 106.0M462.1 137.1L469.1 136.1M465.0 134.9L469.1 136.1L465.5 138.4M462.1 171.5L475.1 167.5M468.6 166.7L475.1 167.5L470.2 171.8M462.1 205.9L472.6 201.9M466.1 201.5L472.6 201.9L468.0 206.5M462.1 240.3L473.1 253.3M471.3 247.1L473.1 253.3L467.2 250.5M462.1 274.7L460.6 281.2M463.0 278.0L460.6 281.2L459.8 277.3M462.1 309.1L460.6 311.6M462.0 310.6L460.6 311.6L460.8 309.9M462.1 343.5L465.1 342.5M463.2 342.3L465.1 342.5L463.7 343.8M462.1 377.9L464.1 382.4M464.1 379.4L464.1 382.4L461.9 380.4M462.1 412.3L464.1 423.3M465.6 417.0L464.1 423.3L460.4 417.9M462.1 446.7L454.1 456.7M459.9 453.7L454.1 456.7L455.7 450.4M462.1 481.1L447.6 499.6M453.3 496.6L447.6 499.6L449.2 493.3M462.1 515.5L454.1 531.5M459.1 527.4L454.1 531.5L454.4 525.0M462.1 549.9L454.1 566.9M459.0 562.7L454.1 566.9L454.2 560.4M462.1 584.3L449.6 600.3M455.3 597.2L449.6 600.3L451.2 594.0M462.1 618.7L446.1 634.2M452.2 632.0L446.1 634.2L448.5 628.2M462.1 653.1L451.1 669.1M456.6 665.7L451.1 669.1L452.3 662.7M462.1 687.5L463.1 690.5M463.3 688.6L463.1 690.5L461.8 689.1M490.9 102.7L500.9 109.7M497.6 104.1L500.9 109.7L494.5 108.5M490.9 137.1L509.4 131.1M502.9 130.4L509.4 131.1L504.6 135.4M490.9 171.5L505.9 177.5M501.4 172.8L505.9 177.5L499.4 177.7M490.9 205.9L504.4 209.4M499.3 205.4L504.4 209.4L498.0 210.5M490.9 240.3L496.9 246.3M494.6 240.2L496.9 246.3L490.8 244.0M490.9 274.7L489.9 277.7M491.2 276.3L489.9 277.7L489.7 275.8M490.9 309.1L479.9 318.1M486.2 316.4L479.9 318.1L482.8 312.3M490.9 343.5L480.9 350.0M487.3 349.0L480.9 350.0L484.4 344.5M490.9 377.9L477.9 386.4M484.3 385.4L477.9 386.4L481.4 380.9M490.9 412.3L477.9 421.3M484.3 420.1L477.9 421.3L481.3 415.7M490.9 446.7L475.9 456.7M482.3 455.6L475.9 456.7L479.4 451.2M490.9 481.1L467.9 504.1M474.0 501.8L467.9 504.1L470.2 498.0M490.9 515.5L479.9 535.5M485.1 531.6L479.9 535.5L480.4 529.0M490.9 549.9L482.9 563.4M488.2 559.6L482.9 563.4L483.7 556.9M490.9 584.3L478.9 598.3M484.8 595.5L478.9 598.3L480.8 592.1M490.9 618.7L475.9 637.7M481.7 634.7L475.9 637.7L477.5 631.4M490.9 653.1L484.4 672.1M488.8 667.3L484.4 672.1L483.8 665.6M490.9 687.5L485.9 693.5M490.1 691.4L485.9 693.5L487.2 689.0M519.7 102.7L534.7 101.7M528.6 99.5L534.7 101.7L529.0 104.7M519.7 137.1L533.7 137.1M527.8 134.5L533.7 137.1L527.8 139.7M519.7 171.5L534.7 172.5M529.0 169.5L534.7 172.5L528.6 174.7M519.7 205.9L527.7 219.9M527.0 213.4L527.7 219.9L522.5 216.1M519.7 240.3L519.7 243.3M520.4 241.7L519.7 243.3L519.0 241.7M519.7 274.7L516.7 279.7M519.6 277.7L516.7 279.7L517.1 276.2M519.7 309.1L512.7 319.1M518.3 315.8L512.7 319.1L513.9 312.7M519.7 343.5L512.7 351.5M518.6 348.8L512.7 351.5L514.6 345.3M519.7 377.9L511.2 387.4M517.1 384.7L511.2 387.4L513.2 381.2M519.7 412.3L507.7 420.3M514.1 419.2L507.7 420.3L511.2 414.8M519.7 446.7L505.7 458.7M511.9 456.8L505.7 458.7L508.5 452.8M519.7 481.1L498.7 502.1M504.8 499.8L498.7 502.1L501.0 496.0M519.7 515.5L508.7 535.5M513.9 531.6L508.7 535.5L509.2 529.0M519.7 549.9L508.7 560.4M514.8 558.2L508.7 560.4L511.2 554.4M519.7 584.3L504.7 600.3M510.7 597.8L504.7 600.3L506.8 594.2M519.7 618.7L511.2 632.7M516.5 629.0L511.2 632.7L512.0 626.3M519.7 653.1L511.2 672.1M516.0 667.8L511.2 672.1L511.2 665.6M519.7 687.5L511.7 695.0M517.8 692.9L511.7 695.0L514.2 689.0M548.5 102.7L563.5 107.2M558.6 103.0L563.5 107.2L557.1 108.0M548.5 137.1L562.0 144.1M557.9 139.0L562.0 144.1L555.5 143.7M548.5 171.5L559.5 175.0M554.6 170.7L559.5 175.0L553.0 175.7M548.5 205.9L549.5 211.9M550.4 208.4L549.5 211.9L547.5 208.9M548.5 240.3L545.5 247.3M548.9 244.2L545.5 247.3L545.4 242.7M548.5 274.7L543.0 281.7M548.7 278.7L543.0 281.7L544.6 275.4M548.5 309.1L540.5 322.1M545.9 318.4L540.5 322.1L541.4 315.7M548.5 343.5L542.0 355.0M547.2 351.1L542.0 355.0L542.6 348.5M548.5 377.9L540.0 387.4M545.9 384.7L540.0 387.4L542.0 381.2M548.5 412.3L536.5 419.3M543.0 418.6L536.5 419.3L540.3 414.0M548.5 446.7L533.5 458.7M539.8 457.1L533.5 458.7L536.5 452.9M548.5 481.1L526.5 502.1M532.6 499.9L526.5 502.1L529.0 496.1M548.5 515.5L537.0 534.5M542.3 530.8L537.0 534.5L537.8 528.1M548.5 549.9L532.0 560.9M538.4 559.8L532.0 560.9L535.5 555.4M548.5 584.3L533.0 596.8M539.3 595.1L533.0 596.8L536.0 591.0M548.5 618.7L536.5 632.7M542.4 629.9L536.5 632.7L538.4 626.5M548.5 653.1L536.5 668.1M542.3 665.1L536.5 668.1L538.1 661.8M548.5 687.5L543.0 696.5M548.4 692.8L543.0 696.5L543.8 690.1M577.3 102.7L591.3 106.7M586.3 102.5L591.3 106.7L584.9 107.6M577.3 137.1L583.3 144.6M581.7 138.3L583.3 144.6L577.5 141.6M577.3 171.5L574.3 173.0M576.3 172.9L574.3 173.0L575.6 171.4M577.3 205.9L573.3 210.9M576.7 209.1L573.3 210.9L574.3 207.2M577.3 240.3L574.8 245.3M577.4 243.2L574.8 245.3L575.0 241.9M577.3 274.7L574.3 283.7M578.7 278.9L574.3 283.7L573.7 277.2M577.3 309.1L574.3 323.1M578.1 317.8L574.3 323.1L573.0 316.7M577.3 343.5L573.3 353.5M578.0 349.0L573.3 353.5L573.1 347.0M577.3 377.9L568.8 387.4M574.7 384.7L568.8 387.4L570.8 381.2M577.3 412.3L563.3 418.3M569.8 418.4L563.3 418.3L567.7 413.5M577.3 446.7L557.3 458.7M563.8 457.9L557.3 458.7L561.0 453.4M577.3 481.1L558.8 496.1M565.1 494.4L558.8 496.1L561.7 490.3M577.3 515.5L562.3 535.0M568.0 531.9L562.3 535.0L563.8 528.7M577.3 549.9L557.3 555.9M563.7 556.7L557.3 555.9L562.2 551.7M577.3 584.3L553.8 598.3M560.3 597.5L553.8 598.3L557.5 593.0M577.3 618.7L557.3 634.2M563.6 632.7L557.3 634.2L560.4 628.5M577.3 653.1L565.3 664.1M571.5 662.0L565.3 664.1L567.9 658.1M577.3 687.5L565.3 696.5M571.6 695.1L565.3 696.5L568.5 690.8M606.1 102.7L617.6 106.7M612.9 102.3L617.6 106.7L611.1 107.2M606.1 137.1L603.1 147.6M607.3 142.6L603.1 147.6L602.2 141.2M606.1 171.5L609.1 174.5M608.2 172.1L609.1 174.5L606.7 173.6M606.1 205.9L605.1 212.4M607.2 209.1L605.1 212.4L604.1 208.6M606.1 240.3L604.1 245.8M606.5 243.3L604.1 245.8L603.9 242.3M606.1 274.7L603.1 285.7M607.2 280.7L603.1 285.7L602.1 279.3M606.1 309.1L604.6 321.6M607.9 316.0L604.6 321.6L602.7 315.4M606.1 343.5L603.1 350.5M606.5 347.4L603.1 350.5L603.0 345.9M606.1 377.9L599.1 382.4M605.5 381.4L599.1 382.4L602.7 377.0M606.1 412.3L595.6 414.3M601.9 415.8L595.6 414.3L600.9 410.6M606.1 446.7L583.1 461.7M589.5 460.7L583.1 461.7L586.6 456.2M606.1 481.1L585.1 495.1M591.5 494.0L585.1 495.1L588.6 489.6M606.1 515.5L584.1 527.5M590.6 527.0L584.1 527.5L588.0 522.3M606.1 549.9L585.6 558.9M592.1 558.9L585.6 558.9L590.0 554.1M606.1 584.3L590.6 595.3M597.0 594.0L590.6 595.3L593.9 589.7M606.1 618.7L589.6 634.2M595.7 632.1L589.6 634.2L592.1 628.2M606.1 653.1L590.1 670.6M596.1 668.0L590.1 670.6L592.2 664.4M606.1 687.5L592.6 698.0M598.9 696.4L592.6 698.0L595.7 692.3M634.9 102.7L641.9 104.7M638.6 101.9L641.9 104.7L637.6 105.3M634.9 137.1L641.9 150.1M641.4 143.6L641.9 150.1L636.8 146.1M634.9 171.5L636.9 177.0M637.1 173.5L636.9 177.0L634.5 174.5M634.9 205.9L637.4 210.9M637.2 207.5L637.4 210.9L634.8 208.8M634.9 240.3L632.9 245.3M635.2 243.0L632.9 245.3L632.8 242.1M634.9 274.7L631.9 281.7M635.3 278.6L631.9 281.7L631.8 277.1M634.9 309.1L630.9 320.1M635.4 315.4L630.9 320.1L630.4 313.6M634.9 343.5L627.9 349.0M634.2 347.4L627.9 349.0L630.9 343.3M634.9 377.9L629.9 382.4M633.7 381.2L629.9 382.4L631.5 378.7M634.9 412.3L625.9 414.3M632.3 415.6L625.9 414.3L631.1 410.4M634.9 446.7L624.9 465.7M630.0 461.7L624.9 465.7L625.3 459.2M634.9 481.1L622.4 497.1M628.1 494.0L622.4 497.1L624.0 490.8M634.9 515.5L617.9 519.5M624.3 520.7L617.9 519.5L623.1 515.6M634.9 549.9L604.4 563.4M610.9 563.4L604.4 563.4L608.8 558.6M634.9 584.3L609.9 604.3M616.2 602.7L609.9 604.3L612.9 598.5M634.9 618.7L616.9 639.7M622.8 636.9L616.9 639.7L618.8 633.5M634.9 653.1L621.9 669.1M627.7 666.2L621.9 669.1L623.6 662.8M634.9 687.5L621.9 699.5M628.1 697.4L621.9 699.5L624.5 693.5M663.7 102.7L681.7 105.2M676.2 101.8L681.7 105.2L675.5 107.0M663.7 137.1L676.2 150.6M674.1 144.4L676.2 150.6L670.2 148.0M663.7 171.5L671.7 178.0M668.8 172.2L671.7 178.0L665.4 176.3M663.7 205.9L670.7 206.9M667.1 204.6L670.7 206.9L666.6 208.1M663.7 240.3L666.7 250.3M667.5 243.9L666.7 250.3L662.5 245.4M663.7 274.7L659.7 294.7M663.5 289.4L659.7 294.7L658.3 288.4M663.7 309.1L656.7 319.1M662.3 315.8L656.7 319.1L657.9 312.7M663.7 343.5L659.7 353.5M664.4 349.0L659.7 353.5L659.5 347.0M663.7 377.9L660.7 383.9M663.8 381.3L660.7 383.9L660.9 379.9M663.7 412.3L661.7 415.3M663.5 414.1L661.7 415.3L662.1 413.2M663.7 446.7L651.2 459.7M657.2 457.3L651.2 459.7L653.4 453.6M663.7 481.1L641.7 497.6M648.0 496.2L641.7 497.6L644.9 491.9M663.7 515.5L644.7 528.0M651.1 526.9L644.7 528.0L648.2 522.5M663.7 549.9L651.2 563.9M657.1 561.2L651.2 563.9L653.2 557.7M663.7 584.3L647.7 606.8M653.3 603.5L647.7 606.8L649.0 600.4M663.7 618.7L650.7 638.7M656.2 635.2L650.7 638.7L651.7 632.3M663.7 653.1L646.7 668.1M652.9 666.2L646.7 668.1L649.4 662.2M663.7 687.5L651.7 701.5M657.6 698.7L651.7 701.5L653.6 695.3M692.5 102.7L700.0 107.2M696.3 101.9L700.0 107.2L693.5 106.4M692.5 137.1L703.5 145.6M700.4 139.9L703.5 145.6L697.2 144.1M692.5 171.5L703.0 181.5M700.5 175.5L703.0 181.5L696.9 179.3M692.5 205.9L698.5 207.9M695.7 205.3L698.5 207.9L694.7 208.3M692.5 240.3L697.5 250.3M697.2 243.8L697.5 250.3L692.5 246.2M692.5 274.7L692.0 296.7M694.8 290.8L692.0 296.7L689.5 290.7M692.5 309.1L688.5 318.1M693.3 313.7L688.5 318.1L688.5 311.6M692.5 343.5L688.0 358.5M692.2 353.6L688.0 358.5L687.2 352.1M692.5 377.9L694.5 386.4M695.7 380.0L694.5 386.4L690.6 381.2M692.5 412.3L688.5 415.3M691.4 414.6L688.5 415.3L690.0 412.7M692.5 446.7L690.5 458.7M694.1 453.3L690.5 458.7L688.9 452.4M692.5 481.1L687.0 497.1M691.4 492.3L687.0 497.1L686.4 490.6M692.5 515.5L680.5 536.0M685.8 532.2L680.5 536.0L681.2 529.5M692.5 549.9L680.0 568.9M685.5 565.4L680.0 568.9L681.1 562.5M692.5 584.3L673.0 602.3M679.2 600.2L673.0 602.3L675.6 596.3M692.5 618.7L670.0 639.2M676.2 637.2L670.0 639.2L672.6 633.2M692.5 653.1L673.0 672.1M679.1 669.8L673.0 672.1L675.4 666.1M692.5 687.5L678.5 703.5M684.4 700.8L678.5 703.5L680.4 697.3M721.3 102.7L737.3 107.7M732.4 103.4L737.3 107.7L730.8 108.5M721.3 137.1L733.8 152.6M732.1 146.3L733.8 152.6L728.0 149.6M721.3 171.5L735.3 180.5M731.7 175.1L735.3 180.5L728.9 179.5M721.3 205.9L732.3 207.9M726.9 204.2L732.3 207.9L726.0 209.4M721.3 240.3L732.3 253.8M730.6 247.5L732.3 253.8L726.5 250.9M721.3 274.7L724.3 296.7M726.1 290.5L724.3 296.7L720.9 291.2M721.3 309.1L722.3 323.1M724.5 317.0L722.3 323.1L719.2 317.4M721.3 343.5L720.3 359.0M723.3 353.2L720.3 359.0L718.0 352.9M721.3 377.9L722.3 387.9M724.3 381.7L722.3 387.9L719.1 382.3M721.3 412.3L719.3 416.3M721.4 414.6L719.3 416.3L719.4 413.6M721.3 446.7L722.3 454.7M724.2 448.5L722.3 454.7L718.9 449.1M721.3 481.1L717.3 502.1M721.0 496.8L717.3 502.1L715.8 495.8M721.3 515.5L708.3 533.0M714.0 529.8L708.3 533.0L709.7 526.7M721.3 549.9L703.8 564.9M710.0 563.0L703.8 564.9L706.6 559.0M721.3 584.3L703.3 602.3M709.4 600.0L703.3 602.3L705.6 596.2M721.3 618.7L703.3 637.7M709.3 635.2L703.3 637.7L705.5 631.6M721.3 653.1L703.8 672.1M709.8 669.5L703.8 672.1L705.9 665.9M721.3 687.5L707.3 705.0M713.1 702.0L707.3 705.0L708.9 698.7M750.1 102.7L761.1 107.7M756.8 102.8L761.1 107.7L754.6 107.6M750.1 137.1L761.1 142.6M757.0 137.6L761.1 142.6L754.6 142.3M750.1 171.5L769.1 180.5M764.9 175.6L769.1 180.5L762.6 180.3M750.1 205.9L765.1 210.4M760.2 206.2L765.1 210.4L758.7 211.2M750.1 240.3L765.1 252.3M762.1 246.5L765.1 252.3L758.8 250.7M750.1 274.7L761.1 298.7M761.0 292.2L761.1 298.7L756.2 294.4M750.1 309.1L755.6 329.1M756.6 322.7L755.6 329.1L751.5 324.1M750.1 343.5L745.6 373.5M749.1 368.0L745.6 373.5L743.9 367.2M750.1 377.9L748.1 400.9M751.2 395.2L748.1 400.9L746.0 394.8M750.1 412.3L749.6 419.3M751.6 415.6L749.6 419.3L748.2 415.3M750.1 446.7L754.1 456.7M754.3 450.2L754.1 456.7L749.4 452.2M750.1 481.1L749.1 494.1M752.2 488.4L749.1 494.1L746.9 488.0M750.1 515.5L742.6 533.0M747.4 528.6L742.6 533.0L742.5 526.5M750.1 549.9L739.1 573.9M744.0 569.6L739.1 573.9L739.2 567.4M750.1 584.3L724.6 603.3M730.9 601.9L724.6 603.3L727.8 597.6M750.1 618.7L727.6 639.2M733.8 637.2L727.6 639.2L730.2 633.2M750.1 653.1L734.6 673.1M740.3 670.0L734.6 673.1L736.1 666.8M750.1 687.5L739.1 704.5M744.5 701.0L739.1 704.5L740.1 698.1M750.1 721.9L749.6 715.9M748.4 719.3L749.6 715.9L751.3 719.1M778.9 102.7L797.9 108.2M792.9 104.0L797.9 108.2L791.5 109.1M778.9 137.1L797.9 151.1M794.7 145.4L797.9 151.1L791.6 149.7M778.9 171.5L803.9 184.5M799.9 179.4L803.9 184.5L797.4 184.1M778.9 205.9L809.9 215.9M805.1 211.6L809.9 215.9L803.4 216.6M778.9 240.3L803.9 255.3M800.2 250.0L803.9 255.3L797.4 254.5M778.9 274.7L796.9 303.2M796.0 296.8L796.9 303.2L791.5 299.6M778.9 309.1L788.9 327.6M788.4 321.1L788.9 327.6L783.8 323.6M778.9 343.5L777.9 366.5M780.8 360.7L777.9 366.5L775.5 360.5M778.9 377.9L774.9 399.9M778.6 394.5L774.9 399.9L773.4 393.6M778.9 412.3L778.9 424.3M781.5 418.4L778.9 424.3L776.3 418.4M778.9 446.7L782.9 457.7M783.4 451.2L782.9 457.7L778.4 453.0M778.9 481.1L776.4 495.1M780.0 489.7L776.4 495.1L774.8 488.8M778.9 515.5L772.9 530.5M777.6 526.0L772.9 530.5L772.7 524.0M778.9 549.9L758.9 575.4M764.6 572.4L758.9 575.4L760.5 569.1M778.9 584.3L756.4 605.3M762.5 603.2L756.4 605.3L758.9 599.3M778.9 618.7L758.9 640.7M764.9 638.1L758.9 640.7L760.9 634.5M778.9 653.1L767.9 676.1M772.8 671.9L767.9 676.1L768.1 669.6M778.9 687.5L770.9 701.0M776.2 697.2L770.9 701.0L771.7 694.5M778.9 721.9L778.9 707.9M776.3 713.8L778.9 707.9L781.5 713.8M807.7 102.7L828.2 117.2M824.9 111.6L828.2 117.2L821.8 115.9M807.7 137.1L828.2 151.6M824.9 146.0L828.2 151.6L821.8 150.3M807.7 171.5L841.7 181.5M836.7 177.3L841.7 181.5L835.3 182.4M807.7 205.9L842.2 213.9M837.0 210.0L842.2 213.9L835.8 215.1M807.7 240.3L838.2 258.3M834.4 253.0L838.2 258.3L831.7 257.6M807.7 274.7L832.7 306.7M831.1 300.4L832.7 306.7L827.0 303.6M807.7 309.1L819.7 323.1M817.8 316.9L819.7 323.1L813.8 320.3M807.7 343.5L811.7 364.5M813.2 358.2L811.7 364.5L808.0 359.2M807.7 377.9L808.2 382.9M809.1 380.0L808.2 382.9L806.7 380.3M807.7 412.3L806.7 437.3M809.6 431.5L806.7 437.3L804.3 431.3M807.7 446.7L808.2 457.7M810.6 451.6L808.2 457.7L805.3 451.9M807.7 481.1L805.2 496.1M808.8 490.7L805.2 496.1L803.6 489.8M807.7 515.5L794.7 536.0M800.1 532.4L794.7 536.0L795.6 529.6M807.7 549.9L783.7 568.4M790.0 566.9L783.7 568.4L786.8 562.7M807.7 584.3L782.2 609.3M788.3 607.0L782.2 609.3L784.6 603.3M807.7 618.7L790.2 644.2M795.7 640.8L790.2 644.2L791.4 637.8M807.7 653.1L798.2 677.6M802.8 673.0L798.2 677.6L797.9 671.1M807.7 687.5L808.2 693.5M809.4 690.1L808.2 693.5L806.5 690.3M807.7 721.9L810.2 707.9M806.6 713.3L810.2 707.9L811.8 714.2M836.5 102.7L849.5 113.7M846.7 107.8L849.5 113.7L843.3 111.9M836.5 137.1L857.0 151.1M853.6 145.6L857.0 151.1L850.6 149.9M836.5 171.5L873.5 176.5M868.0 173.1L873.5 176.5L867.3 178.3M836.5 205.9L874.5 209.4M868.8 206.2L874.5 209.4L868.3 211.5M836.5 240.3L872.0 263.3M868.5 257.9L872.0 263.3L865.6 262.3M836.5 274.7L858.5 298.2M856.4 292.1L858.5 298.2L852.5 295.7M836.5 309.1L849.5 320.1M846.7 314.2L849.5 320.1L843.3 318.3M836.5 343.5L838.5 350.5M839.1 346.2L838.5 350.5L835.7 347.2M836.5 377.9L836.5 389.9M839.1 384.0L836.5 389.9L833.9 384.0M836.5 412.3L838.5 424.3M840.1 418.0L838.5 424.3L834.9 418.9M836.5 446.7L835.5 455.7M838.8 450.1L835.5 455.7L833.5 449.5M836.5 481.1L827.0 501.1M831.9 496.9L827.0 501.1L827.2 494.6M836.5 515.5L820.5 535.0M826.3 532.1L820.5 535.0L822.2 528.7M836.5 549.9L813.0 565.9M819.4 564.7L813.0 565.9L816.4 560.4M836.5 584.3L810.5 611.8M816.5 609.3L810.5 611.8L812.7 605.7M836.5 618.7L813.0 653.7M818.5 650.2L813.0 653.7L814.1 647.3M836.5 653.1L827.0 682.1M831.4 677.3L827.0 682.1L826.3 675.6M836.5 687.5L842.5 687.5M839.2 686.0L842.5 687.5L839.2 689.0M836.5 721.9L837.0 707.9M834.1 713.7L837.0 707.9L839.4 713.9M865.3 102.7L878.3 121.7M877.1 115.3L878.3 121.7L872.8 118.3M865.3 137.1L895.3 151.1M891.0 146.2L895.3 151.1L888.8 151.0M865.3 171.5L897.3 175.0M891.7 171.7L897.3 175.0L891.1 177.0M865.3 205.9L897.3 209.9M891.7 206.5L897.3 209.9L891.1 211.8M865.3 240.3L899.3 257.3M895.2 252.3L899.3 257.3L892.8 257.0M865.3 274.7L879.3 276.2M873.7 272.9L879.3 276.2L873.1 278.2M865.3 309.1L880.3 324.1M878.0 318.0L880.3 324.1L874.2 321.8M865.3 343.5L874.3 347.5M869.9 342.7L874.3 347.5L867.8 347.5M865.3 377.9L868.3 396.4M870.0 390.1L868.3 396.4L864.7 391.0M865.3 412.3L866.3 422.3M868.3 416.1L866.3 422.3L863.1 416.7M865.3 446.7L869.3 461.7M870.3 455.3L869.3 461.7L865.2 456.6M865.3 481.1L859.3 499.6M863.6 494.8L859.3 499.6L858.6 493.1M865.3 515.5L846.3 526.0M852.8 525.4L846.3 526.0L850.2 520.8M865.3 549.9L843.3 564.9M849.7 563.7L843.3 564.9L846.7 559.4M865.3 584.3L839.3 615.3M845.1 612.4L839.3 615.3L841.1 609.1M865.3 618.7L843.3 649.2M848.9 645.9L843.3 649.2L844.6 642.8M865.3 653.1L853.3 673.6M858.6 669.8L853.3 673.6L854.0 667.1M865.3 687.5L877.8 668.5M872.3 672.0L877.8 668.5L876.7 674.9M865.3 721.9L874.3 696.9M869.8 701.6L874.3 696.9L874.8 703.4M894.1 102.7L904.1 120.7M903.5 114.2L904.1 120.7L898.9 116.8M894.1 137.1L922.1 149.1M917.7 144.3L922.1 149.1L915.6 149.2M894.1 171.5L924.1 174.5M918.5 171.3L924.1 174.5L917.9 176.5M894.1 205.9L924.1 209.9M918.6 206.5L924.1 209.9L917.9 211.7M894.1 240.3L924.1 255.3M920.0 250.3L924.1 255.3L917.6 255.0M894.1 274.7L904.1 276.7M898.8 272.9L904.1 276.7L897.8 278.1M894.1 309.1L908.1 323.1M905.8 317.0L908.1 323.1L902.0 320.8M894.1 343.5L902.1 347.5M898.0 342.5L902.1 347.5L895.6 347.2M894.1 377.9L897.1 393.9M898.6 387.6L897.1 393.9L893.4 388.6M894.1 412.3L894.1 422.3M896.7 416.4L894.1 422.3L891.5 416.4M894.1 446.7L891.1 463.2M894.8 457.8L891.1 463.2L889.6 456.9M894.1 481.1L887.1 496.1M892.0 491.8L887.1 496.1L887.2 489.6M894.1 515.5L875.6 521.5M882.1 522.2L875.6 521.5L880.4 517.2M894.1 549.9L873.6 567.4M879.8 565.6L873.6 567.4L876.4 561.5M894.1 584.3L870.1 611.3M876.0 608.6L870.1 611.3L872.1 605.1M894.1 618.7L871.6 627.7M878.1 627.9L871.6 627.7L876.1 623.0M894.1 653.1L886.6 652.6M890.6 654.7L886.6 652.6L890.8 651.0M894.1 687.5L894.1 679.5M891.5 685.4L894.1 679.5L896.7 685.4M894.1 721.9L892.1 695.9M889.9 702.0L892.1 695.9L895.2 701.6"/>
</g>
<g fill="none" stroke="#1e3cff" stroke-width="2">
<circle cx="563" cy="168" r="3.3"/>
<circle cx="582" cy="198" r="3.3"/>
<circle cx="680" cy="188" r="3.3"/>
<circle cx="616" cy="230" r="3.3"/>
<circle cx="501" cy="252" r="3.3"/>
<circle cx="591" cy="294" r="3.3"/>
<circle cx="308" cy="322" r="3.3"/>
<circle cx="375" cy="332" r="3.3"/>
<circle cx="438" cy="317" r="3.3"/>
<circle cx="517" cy="343" r="3.3"/>
<circle cx="560" cy="364" r="3.3"/>
<circle cx="670" cy="371" r="3.3"/>
<circle cx="437" cy="394" r="3.3"/>
<circle cx="672" cy="414" r="3.3"/>
<circle cx="437" cy="432" r="3.3"/>
<circle cx="605" cy="426" r="3.3"/>
<circle cx="535" cy="442" r="3.3"/>
<circle cx="342" cy="465" r="3.3"/>
<circle cx="427" cy="472" r="3.3"/>
<circle cx="424" cy="499" r="3.3"/>
<circle cx="472" cy="498" r="3.3"/>
<circle cx="326" cy="518" r="3.3"/>
<circle cx="351" cy="540" r="3.3"/>
<circle cx="397" cy="534" r="3.3"/>
<circle cx="500" cy="539" r="3.3"/>
<circle cx="574" cy="529" r="3.3"/>
<circle cx="427" cy="575" r="3.3"/>
<circle cx="380" cy="594" r="3.3"/>
</g>
<rect x="205" y="82" width="690" height="637" fill="none" stroke="#000" stroke-width="2" shape-rendering="crispEdges"/>
<g stroke="#fa3c3c" stroke-width="1" shape-rendering="crispEdges">
<line x1="205.5" y1="720" x2="205.5" y2="726"/>
<line x1="271.5" y1="720" x2="271.5" y2="726"/>
<line x1="338.5" y1="720" x2="338.5" y2="726"/>
<line x1="404.5" y1="720" x2="404.5" y2="726"/>
<line x1="470.5" y1="720" x2="470.5" y2="726"/>
<line x1="537.5" y1="720" x2="537.5" y2="726"/>
<line x1="603.5" y1="720" x2="603.5" y2="726"/>
<line x1="669.5" y1="720" x2="669.5" y2="726"/>
<line x1="736.5" y1="720" x2="736.5" y2="726"/>
<line x1="802.5" y1="720" x2="802.5" y2="726"/>
<line x1="868.5" y1="720" x2="868.5" y2="726"/>
<line x1="198" y1="719.5" x2="204" y2="719.5"/>
<line x1="198" y1="639.5" x2="204" y2="639.5"/>
<line x1="198" y1="560.5" x2="204" y2="560.5"/>
<line x1="198" y1="480.5" x2="204" y2="480.5"/>
<line x1="198" y1="401.5" x2="204" y2="401.5"/>
<line x1="198" y1="321.5" x2="204" y2="321.5"/>
<line x1="198" y1="242.5" x2="204" y2="242.5"/>
<line x1="198" y1="162.5" x2="204" y2="162.5"/>
</g>
<text x="180.9" y="747.5" font-size="25" fill="#fa3c3c" text-anchor="start" textLength="48.4" lengthAdjust="spacingAndGlyphs" style="stroke-width:0.2px">111E</text>
<text x="247.2" y="747.5" font-size="25" fill="#fa3c3c" text-anchor="start" textLength="48.4" lengthAdjust="spacingAndGlyphs" style="stroke-width:0.2px">112E</text>
<text x="313.5" y="747.5" font-size="25" fill="#fa3c3c" text-anchor="start" textLength="48.4" lengthAdjust="spacingAndGlyphs" style="stroke-width:0.2px">113E</text>
<text x="379.8" y="747.5" font-size="25" fill="#fa3c3c" text-anchor="start" textLength="48.4" lengthAdjust="spacingAndGlyphs" style="stroke-width:0.2px">114E</text>
<text x="446.1" y="747.5" font-size="25" fill="#fa3c3c" text-anchor="start" textLength="48.4" lengthAdjust="spacingAndGlyphs" style="stroke-width:0.2px">115E</text>
<text x="512.4" y="747.5" font-size="25" fill="#fa3c3c" text-anchor="start" textLength="48.4" lengthAdjust="spacingAndGlyphs" style="stroke-width:0.2px">116E</text>
<text x="578.7" y="747.5" font-size="25" fill="#fa3c3c" text-anchor="start" textLength="48.4" lengthAdjust="spacingAndGlyphs" style="stroke-width:0.2px">117E</text>
<text x="645" y="747.5" font-size="25" fill="#fa3c3c" text-anchor="start" textLength="48.4" lengthAdjust="spacingAndGlyphs" style="stroke-width:0.2px">118E</text>
<text x="711.3" y="747.5" font-size="25" fill="#fa3c3c" text-anchor="start" textLength="48.4" lengthAdjust="spacingAndGlyphs" style="stroke-width:0.2px">119E</text>
<text x="777.6" y="747.5" font-size="25" fill="#fa3c3c" text-anchor="start" textLength="48.4" lengthAdjust="spacingAndGlyphs" style="stroke-width:0.2px">120E</text>
<text x="843.9" y="747.5" font-size="25" fill="#fa3c3c" text-anchor="start" textLength="48.4" lengthAdjust="spacingAndGlyphs" style="stroke-width:0.2px">121E</text>
<text x="153" y="727.3" font-size="25" fill="#fa3c3c" text-anchor="start" textLength="37.8" lengthAdjust="spacingAndGlyphs" style="stroke-width:0.2px">33N</text>
<text x="153" y="647.77" font-size="25" fill="#fa3c3c" text-anchor="start" textLength="37.8" lengthAdjust="spacingAndGlyphs" style="stroke-width:0.2px">34N</text>
<text x="153" y="568.24" font-size="25" fill="#fa3c3c" text-anchor="start" textLength="37.8" lengthAdjust="spacingAndGlyphs" style="stroke-width:0.2px">35N</text>
<text x="153" y="488.71" font-size="25" fill="#fa3c3c" text-anchor="start" textLength="37.8" lengthAdjust="spacingAndGlyphs" style="stroke-width:0.2px">36N</text>
<text x="153" y="409.18" font-size="25" fill="#fa3c3c" text-anchor="start" textLength="37.8" lengthAdjust="spacingAndGlyphs" style="stroke-width:0.2px">37N</text>
<text x="153" y="329.65" font-size="25" fill="#fa3c3c" text-anchor="start" textLength="37.8" lengthAdjust="spacingAndGlyphs" style="stroke-width:0.2px">38N</text>
<text x="153" y="250.12" font-size="25" fill="#fa3c3c" text-anchor="start" textLength="37.8" lengthAdjust="spacingAndGlyphs" style="stroke-width:0.2px">39N</text>
<text x="153" y="170.59" font-size="25" fill="#fa3c3c" text-anchor="start" textLength="37.8" lengthAdjust="spacingAndGlyphs" style="stroke-width:0.2px">40N</text>
<g shape-rendering="crispEdges" stroke="#000" stroke-width="1">
<rect x="957.5" y="127.5" width="40" height="24" fill="#8a2be2"/>
<rect x="957.5" y="151.5" width="40" height="23" fill="#9932cc"/>
<rect x="957.5" y="174.5" width="40" height="23" fill="#b03060"/>
<rect x="957.5" y="197.5" width="40" height="23" fill="#c71585"/>
<rect x="957.5" y="220.5" width="40" height="22" fill="#ff0000"/>
<rect x="957.5" y="242.5" width="40" height="23" fill="#ff0048"/>
<rect x="957.5" y="265.5" width="40" height="23" fill="#f5305a"/>
<rect x="957.5" y="288.5" width="40" height="23" fill="#ff6a6a"/>
<rect x="957.5" y="311.5" width="40" height="23" fill="#ee5c2c"/>
<rect x="957.5" y="334.5" width="40" height="23" fill="#ff8c00"/>
<rect x="957.5" y="357.5" width="40" height="23" fill="#fdb025"/>
<rect x="957.5" y="380.5" width="40" height="22" fill="#f5b84e"/>
<rect x="957.5" y="402.5" width="40" height="23" fill="#ffee00"/>
<rect x="957.5" y="425.5" width="40" height="23" fill="#fff000"/>
<rect x="957.5" y="448.5" width="40" height="23" fill="#f5e55a"/>
<rect x="957.5" y="471.5" width="40" height="23" fill="#f5f96a"/>
<rect x="957.5" y="494.5" width="40" height="23" fill="#6fad3b"/>
<rect x="957.5" y="517.5" width="40" height="23" fill="#8fce55"/>
<rect x="957.5" y="540.5" width="40" height="22" fill="#c0e17e"/>
<rect x="957.5" y="562.5" width="40" height="23" fill="#bfd97c"/>
<rect x="957.5" y="585.5" width="40" height="23" fill="#dfeabe"/>
<rect x="957.5" y="608.5" width="40" height="23" fill="#468dc3"/>
<rect x="957.5" y="631.5" width="40" height="23" fill="#6fb2e2"/>
<rect x="957.5" y="654.5" width="40" height="23" fill="#a6dcf7"/>
<rect x="957.5" y="677.5" width="40" height="23" fill="#d9effb"/>
<rect x="957.5" y="700.5" width="40" height="22" fill="#ffffff"/>
</g>
<text x="1004" y="160" font-size="24.5" fill="#000" text-anchor="start" textLength="39.3" lengthAdjust="spacingAndGlyphs">700</text>
<text x="1004" y="206" font-size="24.5" fill="#000" text-anchor="start" textLength="39.3" lengthAdjust="spacingAndGlyphs">500</text>
<text x="1004" y="251" font-size="24.5" fill="#000" text-anchor="start" textLength="39.3" lengthAdjust="spacingAndGlyphs">375</text>
<text x="1004" y="297" font-size="24.5" fill="#000" text-anchor="start" textLength="39.3" lengthAdjust="spacingAndGlyphs">325</text>
<text x="1004" y="343" font-size="24.5" fill="#000" text-anchor="start" textLength="39.3" lengthAdjust="spacingAndGlyphs">275</text>
<text x="1004" y="389" font-size="24.5" fill="#000" text-anchor="start" textLength="39.3" lengthAdjust="spacingAndGlyphs">225</text>
<text x="1004" y="434" font-size="24.5" fill="#000" text-anchor="start" textLength="39.3" lengthAdjust="spacingAndGlyphs">190</text>
<text x="1004" y="480" font-size="24.5" fill="#000" text-anchor="start" textLength="39.3" lengthAdjust="spacingAndGlyphs">170</text>
<text x="1004" y="526" font-size="24.5" fill="#000" text-anchor="start" textLength="39.3" lengthAdjust="spacingAndGlyphs">144</text>
<text x="1004" y="571" font-size="24.5" fill="#000" text-anchor="start" textLength="39.3" lengthAdjust="spacingAndGlyphs">112</text>
<text x="1004" y="617" font-size="24.5" fill="#000" text-anchor="start" textLength="26.2" lengthAdjust="spacingAndGlyphs">80</text>
<text x="1004" y="663" font-size="24.5" fill="#000" text-anchor="start" textLength="26.2" lengthAdjust="spacingAndGlyphs">48</text>
<text x="1004" y="709" font-size="24.5" fill="#000" text-anchor="start" textLength="26.2" lengthAdjust="spacingAndGlyphs">16</text>
<text x="941" y="108" font-size="24.5" fill="#000" text-anchor="start" textLength="91" lengthAdjust="spacingAndGlyphs">(ug/m3)</text>
<path d="M954.5 750.5L1006.0 750.5M993.9 745.6L1006.0 750.5L993.9 755.4" fill="none" stroke="#000" stroke-width="1" shape-rendering="crispEdges"/>
<text x="943" y="778" font-size="24" fill="#000" text-anchor="start" textLength="24" lengthAdjust="spacingAndGlyphs">10</text>
<text x="981" y="778" font-size="24" fill="#000" text-anchor="start" textLength="42" lengthAdjust="spacingAndGlyphs">m/s</text>
<text x="172" y="50.5" font-size="24.5" fill="#000" text-anchor="start" textLength="57.5" lengthAdjust="spacingAndGlyphs">2026</text>
<text class="cjk" x="229" y="50" font-size="23" fill="#000" text-anchor="start">年</text>
<text x="251" y="50.5" font-size="24.5" fill="#000" text-anchor="start" textLength="27" lengthAdjust="spacingAndGlyphs">04</text>
<text class="cjk" x="278.1" y="50" font-size="23" fill="#000" text-anchor="start">月</text>
<text x="305" y="50.5" font-size="24.5" fill="#000" text-anchor="start" textLength="26.5" lengthAdjust="spacingAndGlyphs">06</text>
<text class="cjk" x="334.4" y="50" font-size="23" fill="#000" text-anchor="start">日</text>
<text x="357.5" y="50.5" font-size="24.5" fill="#000" text-anchor="start" textLength="44.5" lengthAdjust="spacingAndGlyphs">WRF</text>
<text x="404.5" y="50.5" font-size="24.5" fill="#000" text-anchor="start" textLength="14.5" lengthAdjust="spacingAndGlyphs">/</text>
<text x="425" y="50.5" font-size="24.5" fill="#000" text-anchor="start" textLength="57" lengthAdjust="spacingAndGlyphs">cmaq</text>
<text class="cjk" x="482.4" y="50" font-size="23" fill="#000" text-anchor="start" textLength="45.6" lengthAdjust="spacing">模式</text>
<text x="533" y="50.5" font-size="24.5" fill="#000" text-anchor="start" textLength="62" lengthAdjust="spacingAndGlyphs">12km</text>
<text class="cjk" x="596.8" y="50" font-size="23" fill="#000" text-anchor="start" textLength="96.7" lengthAdjust="spacing">预报产品</text>
<text x="693" y="50.5" font-size="24.5" fill="#000" text-anchor="start" textLength="5" lengthAdjust="spacingAndGlyphs">:</text>
<text x="702" y="50.5" font-size="24.5" fill="#000" text-anchor="start" textLength="27" lengthAdjust="spacingAndGlyphs">04</text>
<text class="cjk" x="733.1" y="50" font-size="23" fill="#000" text-anchor="start">月</text>
<text x="758" y="50.5" font-size="24.5" fill="#000" text-anchor="start" textLength="26" lengthAdjust="spacingAndGlyphs">06</text>
<text class="cjk" x="785.1" y="50" font-size="23" fill="#000" text-anchor="start">日</text>
<text x="807" y="50.5" font-size="24.5" fill="#000" text-anchor="start" textLength="26" lengthAdjust="spacingAndGlyphs">03</text>
<text class="cjk" x="832.6" y="50" font-size="23" fill="#000" text-anchor="start">时</text>
<text x="872" y="50.5" font-size="24.5" fill="#fa3c3c" text-anchor="start" textLength="30" lengthAdjust="spacingAndGlyphs" style="stroke-width:0.2px">O3</text>
<text class="cjk" x="359.9" y="799" font-size="20" fill="#000" text-anchor="start" textLength="77.4" lengthAdjust="spacing">版权所有</text>
<text x="437" y="799" font-size="22" fill="#000" text-anchor="start" textLength="5" lengthAdjust="spacingAndGlyphs">:</text>
<text class="cjk" x="453" y="799" font-size="20" fill="#000" text-anchor="start" textLength="76.9" lengthAdjust="spacing">南京大学</text>
<text class="cjk" x="546" y="799" font-size="20" fill="#000" text-anchor="start" textLength="195.7" lengthAdjust="spacing">南京创蓝科技有限公司</text>
<line x1="536.5" y1="779" x2="536.5" y2="808" stroke="#000" stroke-width="1" shape-rendering="crispEdges"/>
</svg></body></html>
